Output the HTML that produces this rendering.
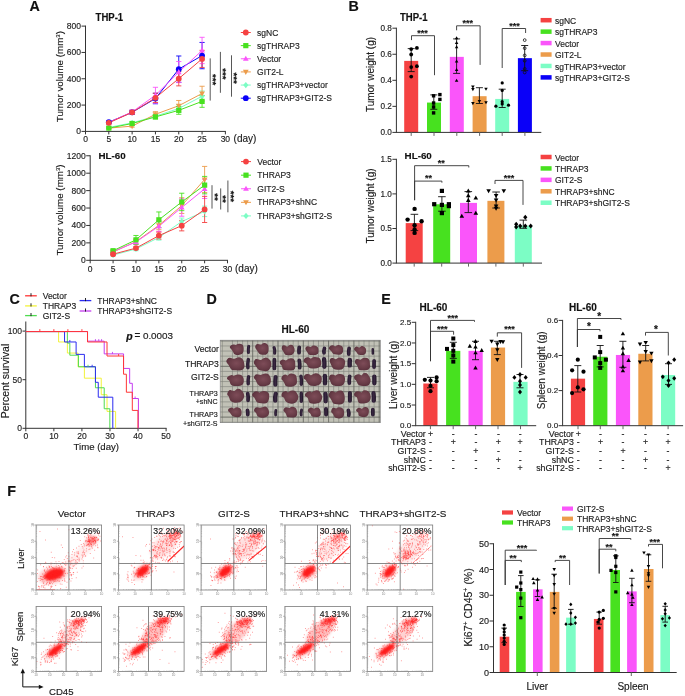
<!DOCTYPE html>
<html><head><meta charset="utf-8"><style>
html,body{margin:0;padding:0;background:#fff;}
svg{display:block;font-family:"Liberation Sans", sans-serif;filter:blur(0.4px);}
</style></head><body>
<svg width="685" height="696" viewBox="0 0 685 696">
<rect width="685" height="696" fill="#fff"/>
<text x="29.6" y="10.9" font-size="14.3" font-weight="bold" fill="#111" stroke="#111" stroke-width="0.15">A</text>
<text x="348.4" y="11.2" font-size="14.3" font-weight="bold" fill="#111" stroke="#111" stroke-width="0.15">B</text>
<text x="9.6" y="304.3" font-size="14.3" font-weight="bold" fill="#111" stroke="#111" stroke-width="0.15">C</text>
<text x="206.6" y="304" font-size="14.3" font-weight="bold" fill="#111" stroke="#111" stroke-width="0.15">D</text>
<text x="381.2" y="304.4" font-size="14.3" font-weight="bold" fill="#111" stroke="#111" stroke-width="0.15">E</text>
<text x="7.2" y="495.8" font-size="14.3" font-weight="bold" fill="#111" stroke="#111" stroke-width="0.15">F</text>
<text x="95.6" y="21" font-size="10" font-weight="bold" fill="#111" stroke="#111" stroke-width="0.15" textLength="27.6" lengthAdjust="spacingAndGlyphs">THP-1</text>
<line x1="85.5" y1="25.62" x2="85.5" y2="131.4" stroke="#333333" stroke-width="1"/>
<line x1="81.5" y1="131.4" x2="85.5" y2="131.4" stroke="#333333" stroke-width="1"/>
<text x="81" y="134.32" font-size="8.5" text-anchor="end" fill="#222" stroke="#222" stroke-width="0.15">0</text>
<line x1="81.5" y1="105.08" x2="85.5" y2="105.08" stroke="#333333" stroke-width="1"/>
<text x="81" y="108" font-size="8.5" text-anchor="end" fill="#222" stroke="#222" stroke-width="0.15">200</text>
<line x1="81.5" y1="78.76" x2="85.5" y2="78.76" stroke="#333333" stroke-width="1"/>
<text x="81" y="81.68" font-size="8.5" text-anchor="end" fill="#222" stroke="#222" stroke-width="0.15">400</text>
<line x1="81.5" y1="52.44" x2="85.5" y2="52.44" stroke="#333333" stroke-width="1"/>
<text x="81" y="55.36" font-size="8.5" text-anchor="end" fill="#222" stroke="#222" stroke-width="0.15">600</text>
<line x1="81.5" y1="26.12" x2="85.5" y2="26.12" stroke="#333333" stroke-width="1"/>
<text x="81" y="29.04" font-size="8.5" text-anchor="end" fill="#222" stroke="#222" stroke-width="0.15">800</text>
<line x1="85" y1="131.4" x2="225.89" y2="131.4" stroke="#333333" stroke-width="1"/>
<line x1="85.5" y1="131.4" x2="85.5" y2="134.4" stroke="#333333" stroke-width="1"/>
<text x="85.5" y="141.6" font-size="8.5" text-anchor="middle" fill="#222" stroke="#222" stroke-width="0.15">0</text>
<line x1="108.81" y1="131.4" x2="108.81" y2="134.4" stroke="#333333" stroke-width="1"/>
<text x="108.81" y="141.6" font-size="8.5" text-anchor="middle" fill="#222" stroke="#222" stroke-width="0.15">5</text>
<line x1="132.13" y1="131.4" x2="132.13" y2="134.4" stroke="#333333" stroke-width="1"/>
<text x="132.13" y="141.6" font-size="8.5" text-anchor="middle" fill="#222" stroke="#222" stroke-width="0.15">10</text>
<line x1="155.44" y1="131.4" x2="155.44" y2="134.4" stroke="#333333" stroke-width="1"/>
<text x="155.44" y="141.6" font-size="8.5" text-anchor="middle" fill="#222" stroke="#222" stroke-width="0.15">15</text>
<line x1="178.76" y1="131.4" x2="178.76" y2="134.4" stroke="#333333" stroke-width="1"/>
<text x="178.76" y="141.6" font-size="8.5" text-anchor="middle" fill="#222" stroke="#222" stroke-width="0.15">20</text>
<line x1="202.07" y1="131.4" x2="202.07" y2="134.4" stroke="#333333" stroke-width="1"/>
<text x="202.07" y="141.6" font-size="8.5" text-anchor="middle" fill="#222" stroke="#222" stroke-width="0.15">25</text>
<line x1="225.39" y1="131.4" x2="225.39" y2="134.4" stroke="#333333" stroke-width="1"/>
<text x="225.39" y="141.6" font-size="8.5" text-anchor="middle" fill="#222" stroke="#222" stroke-width="0.15">30</text>
<path d="M108.81 122.19 L132.13 112.32 L155.44 98.5 L178.76 69.15 L202.07 55.6" stroke="#0A00F8" fill="none" stroke-width="1"/>
<path d="M108.81 127.45 L132.13 122.85 L155.44 116.27 L178.76 108.5 L202.07 96.26" stroke="#7CFDC5" fill="none" stroke-width="1"/>
<path d="M108.81 128.11 L132.13 126.14 L155.44 114.29 L178.76 105.74 L202.07 93.5" stroke="#EC9C4B" fill="none" stroke-width="1"/>
<path d="M108.81 122.45 L132.13 111.92 L155.44 95.21 L178.76 72.05 L202.07 50.47" stroke="#FA55FA" fill="none" stroke-width="1"/>
<path d="M108.81 128.11 L132.13 123.5 L155.44 116.92 L178.76 110.34 L202.07 101.4" stroke="#47E11F" fill="none" stroke-width="1"/>
<path d="M108.81 122.85 L132.13 112.32 L155.44 97.84 L178.76 78.63 L202.07 58.89" stroke="#F54242" fill="none" stroke-width="1"/>
<line x1="108.81" y1="121.14" x2="108.81" y2="123.24" stroke="#0A00F8" stroke-width="0.9"/>
<line x1="106.22" y1="121.14" x2="111.41" y2="121.14" stroke="#0A00F8" stroke-width="0.9"/>
<line x1="106.22" y1="123.24" x2="111.41" y2="123.24" stroke="#0A00F8" stroke-width="0.9"/>
<line x1="132.13" y1="110.34" x2="132.13" y2="114.29" stroke="#0A00F8" stroke-width="0.9"/>
<line x1="129.53" y1="110.34" x2="134.73" y2="110.34" stroke="#0A00F8" stroke-width="0.9"/>
<line x1="129.53" y1="114.29" x2="134.73" y2="114.29" stroke="#0A00F8" stroke-width="0.9"/>
<line x1="155.44" y1="93.24" x2="155.44" y2="103.76" stroke="#0A00F8" stroke-width="0.9"/>
<line x1="152.84" y1="93.24" x2="158.04" y2="93.24" stroke="#0A00F8" stroke-width="0.9"/>
<line x1="152.84" y1="103.76" x2="158.04" y2="103.76" stroke="#0A00F8" stroke-width="0.9"/>
<line x1="178.76" y1="55.99" x2="178.76" y2="82.31" stroke="#0A00F8" stroke-width="0.9"/>
<line x1="176.16" y1="55.99" x2="181.36" y2="55.99" stroke="#0A00F8" stroke-width="0.9"/>
<line x1="176.16" y1="82.31" x2="181.36" y2="82.31" stroke="#0A00F8" stroke-width="0.9"/>
<line x1="202.07" y1="42.44" x2="202.07" y2="68.76" stroke="#0A00F8" stroke-width="0.9"/>
<line x1="199.47" y1="42.44" x2="204.67" y2="42.44" stroke="#0A00F8" stroke-width="0.9"/>
<line x1="199.47" y1="68.76" x2="204.67" y2="68.76" stroke="#0A00F8" stroke-width="0.9"/>
<line x1="108.81" y1="126.79" x2="108.81" y2="128.11" stroke="#7CFDC5" stroke-width="0.9"/>
<line x1="106.22" y1="126.79" x2="111.41" y2="126.79" stroke="#7CFDC5" stroke-width="0.9"/>
<line x1="106.22" y1="128.11" x2="111.41" y2="128.11" stroke="#7CFDC5" stroke-width="0.9"/>
<line x1="132.13" y1="121.53" x2="132.13" y2="124.16" stroke="#7CFDC5" stroke-width="0.9"/>
<line x1="129.53" y1="121.53" x2="134.73" y2="121.53" stroke="#7CFDC5" stroke-width="0.9"/>
<line x1="129.53" y1="124.16" x2="134.73" y2="124.16" stroke="#7CFDC5" stroke-width="0.9"/>
<line x1="155.44" y1="114.29" x2="155.44" y2="118.24" stroke="#7CFDC5" stroke-width="0.9"/>
<line x1="152.84" y1="114.29" x2="158.04" y2="114.29" stroke="#7CFDC5" stroke-width="0.9"/>
<line x1="152.84" y1="118.24" x2="158.04" y2="118.24" stroke="#7CFDC5" stroke-width="0.9"/>
<line x1="178.76" y1="104.55" x2="178.76" y2="112.45" stroke="#7CFDC5" stroke-width="0.9"/>
<line x1="176.16" y1="104.55" x2="181.36" y2="104.55" stroke="#7CFDC5" stroke-width="0.9"/>
<line x1="176.16" y1="112.45" x2="181.36" y2="112.45" stroke="#7CFDC5" stroke-width="0.9"/>
<line x1="202.07" y1="91" x2="202.07" y2="101.53" stroke="#7CFDC5" stroke-width="0.9"/>
<line x1="199.47" y1="91" x2="204.67" y2="91" stroke="#7CFDC5" stroke-width="0.9"/>
<line x1="199.47" y1="101.53" x2="204.67" y2="101.53" stroke="#7CFDC5" stroke-width="0.9"/>
<line x1="108.81" y1="127.45" x2="108.81" y2="128.77" stroke="#EC9C4B" stroke-width="0.9"/>
<line x1="106.22" y1="127.45" x2="111.41" y2="127.45" stroke="#EC9C4B" stroke-width="0.9"/>
<line x1="106.22" y1="128.77" x2="111.41" y2="128.77" stroke="#EC9C4B" stroke-width="0.9"/>
<line x1="132.13" y1="125.08" x2="132.13" y2="127.19" stroke="#EC9C4B" stroke-width="0.9"/>
<line x1="129.53" y1="125.08" x2="134.73" y2="125.08" stroke="#EC9C4B" stroke-width="0.9"/>
<line x1="129.53" y1="127.19" x2="134.73" y2="127.19" stroke="#EC9C4B" stroke-width="0.9"/>
<line x1="155.44" y1="111.66" x2="155.44" y2="116.92" stroke="#EC9C4B" stroke-width="0.9"/>
<line x1="152.84" y1="111.66" x2="158.04" y2="111.66" stroke="#EC9C4B" stroke-width="0.9"/>
<line x1="152.84" y1="116.92" x2="158.04" y2="116.92" stroke="#EC9C4B" stroke-width="0.9"/>
<line x1="178.76" y1="100.47" x2="178.76" y2="111" stroke="#EC9C4B" stroke-width="0.9"/>
<line x1="176.16" y1="100.47" x2="181.36" y2="100.47" stroke="#EC9C4B" stroke-width="0.9"/>
<line x1="176.16" y1="111" x2="181.36" y2="111" stroke="#EC9C4B" stroke-width="0.9"/>
<line x1="202.07" y1="86.26" x2="202.07" y2="100.74" stroke="#EC9C4B" stroke-width="0.9"/>
<line x1="199.47" y1="86.26" x2="204.67" y2="86.26" stroke="#EC9C4B" stroke-width="0.9"/>
<line x1="199.47" y1="100.74" x2="204.67" y2="100.74" stroke="#EC9C4B" stroke-width="0.9"/>
<line x1="108.81" y1="121.14" x2="108.81" y2="123.77" stroke="#FA55FA" stroke-width="0.9"/>
<line x1="106.22" y1="121.14" x2="111.41" y2="121.14" stroke="#FA55FA" stroke-width="0.9"/>
<line x1="106.22" y1="123.77" x2="111.41" y2="123.77" stroke="#FA55FA" stroke-width="0.9"/>
<line x1="132.13" y1="109.95" x2="132.13" y2="113.9" stroke="#FA55FA" stroke-width="0.9"/>
<line x1="129.53" y1="109.95" x2="134.73" y2="109.95" stroke="#FA55FA" stroke-width="0.9"/>
<line x1="129.53" y1="113.9" x2="134.73" y2="113.9" stroke="#FA55FA" stroke-width="0.9"/>
<line x1="155.44" y1="87.31" x2="155.44" y2="103.11" stroke="#FA55FA" stroke-width="0.9"/>
<line x1="152.84" y1="87.31" x2="158.04" y2="87.31" stroke="#FA55FA" stroke-width="0.9"/>
<line x1="152.84" y1="103.11" x2="158.04" y2="103.11" stroke="#FA55FA" stroke-width="0.9"/>
<line x1="178.76" y1="61.52" x2="178.76" y2="82.58" stroke="#FA55FA" stroke-width="0.9"/>
<line x1="176.16" y1="61.52" x2="181.36" y2="61.52" stroke="#FA55FA" stroke-width="0.9"/>
<line x1="176.16" y1="82.58" x2="181.36" y2="82.58" stroke="#FA55FA" stroke-width="0.9"/>
<line x1="202.07" y1="37.31" x2="202.07" y2="63.63" stroke="#FA55FA" stroke-width="0.9"/>
<line x1="199.47" y1="37.31" x2="204.67" y2="37.31" stroke="#FA55FA" stroke-width="0.9"/>
<line x1="199.47" y1="63.63" x2="204.67" y2="63.63" stroke="#FA55FA" stroke-width="0.9"/>
<line x1="108.81" y1="127.45" x2="108.81" y2="128.77" stroke="#47E11F" stroke-width="0.9"/>
<line x1="106.22" y1="127.45" x2="111.41" y2="127.45" stroke="#47E11F" stroke-width="0.9"/>
<line x1="106.22" y1="128.77" x2="111.41" y2="128.77" stroke="#47E11F" stroke-width="0.9"/>
<line x1="132.13" y1="122.19" x2="132.13" y2="124.82" stroke="#47E11F" stroke-width="0.9"/>
<line x1="129.53" y1="122.19" x2="134.73" y2="122.19" stroke="#47E11F" stroke-width="0.9"/>
<line x1="129.53" y1="124.82" x2="134.73" y2="124.82" stroke="#47E11F" stroke-width="0.9"/>
<line x1="155.44" y1="114.95" x2="155.44" y2="118.9" stroke="#47E11F" stroke-width="0.9"/>
<line x1="152.84" y1="114.95" x2="158.04" y2="114.95" stroke="#47E11F" stroke-width="0.9"/>
<line x1="152.84" y1="118.9" x2="158.04" y2="118.9" stroke="#47E11F" stroke-width="0.9"/>
<line x1="178.76" y1="106.4" x2="178.76" y2="114.29" stroke="#47E11F" stroke-width="0.9"/>
<line x1="176.16" y1="106.4" x2="181.36" y2="106.4" stroke="#47E11F" stroke-width="0.9"/>
<line x1="176.16" y1="114.29" x2="181.36" y2="114.29" stroke="#47E11F" stroke-width="0.9"/>
<line x1="202.07" y1="95.47" x2="202.07" y2="107.32" stroke="#47E11F" stroke-width="0.9"/>
<line x1="199.47" y1="95.47" x2="204.67" y2="95.47" stroke="#47E11F" stroke-width="0.9"/>
<line x1="199.47" y1="107.32" x2="204.67" y2="107.32" stroke="#47E11F" stroke-width="0.9"/>
<line x1="108.81" y1="121.79" x2="108.81" y2="123.9" stroke="#F54242" stroke-width="0.9"/>
<line x1="106.22" y1="121.79" x2="111.41" y2="121.79" stroke="#F54242" stroke-width="0.9"/>
<line x1="106.22" y1="123.9" x2="111.41" y2="123.9" stroke="#F54242" stroke-width="0.9"/>
<line x1="132.13" y1="110.34" x2="132.13" y2="114.29" stroke="#F54242" stroke-width="0.9"/>
<line x1="129.53" y1="110.34" x2="134.73" y2="110.34" stroke="#F54242" stroke-width="0.9"/>
<line x1="129.53" y1="114.29" x2="134.73" y2="114.29" stroke="#F54242" stroke-width="0.9"/>
<line x1="155.44" y1="93.24" x2="155.44" y2="102.45" stroke="#F54242" stroke-width="0.9"/>
<line x1="152.84" y1="93.24" x2="158.04" y2="93.24" stroke="#F54242" stroke-width="0.9"/>
<line x1="152.84" y1="102.45" x2="158.04" y2="102.45" stroke="#F54242" stroke-width="0.9"/>
<line x1="178.76" y1="71.39" x2="178.76" y2="85.87" stroke="#F54242" stroke-width="0.9"/>
<line x1="176.16" y1="71.39" x2="181.36" y2="71.39" stroke="#F54242" stroke-width="0.9"/>
<line x1="176.16" y1="85.87" x2="181.36" y2="85.87" stroke="#F54242" stroke-width="0.9"/>
<line x1="202.07" y1="50.33" x2="202.07" y2="67.44" stroke="#F54242" stroke-width="0.9"/>
<line x1="199.47" y1="50.33" x2="204.67" y2="50.33" stroke="#F54242" stroke-width="0.9"/>
<line x1="199.47" y1="67.44" x2="204.67" y2="67.44" stroke="#F54242" stroke-width="0.9"/>
<circle cx="108.81" cy="122.19" r="2.9" fill="#0A00F8"/>
<circle cx="132.13" cy="112.32" r="2.9" fill="#0A00F8"/>
<circle cx="155.44" cy="98.5" r="2.9" fill="#0A00F8"/>
<circle cx="178.76" cy="69.15" r="2.9" fill="#0A00F8"/>
<circle cx="202.07" cy="55.6" r="2.9" fill="#0A00F8"/>
<path d="M108.81 124.33L111.41 127.45L108.81 130.57L106.22 127.45Z" fill="#7CFDC5"/>
<path d="M132.13 119.73L134.73 122.85L132.13 125.97L129.53 122.85Z" fill="#7CFDC5"/>
<path d="M155.44 113.15L158.04 116.27L155.44 119.39L152.84 116.27Z" fill="#7CFDC5"/>
<path d="M178.76 105.38L181.36 108.5L178.76 111.62L176.16 108.5Z" fill="#7CFDC5"/>
<path d="M202.07 93.14L204.67 96.26L202.07 99.38L199.47 96.26Z" fill="#7CFDC5"/>
<path d="M108.81 131.1L111.67 126.03L105.95 126.03Z" fill="#EC9C4B"/>
<path d="M132.13 129.13L134.99 124.06L129.27 124.06Z" fill="#EC9C4B"/>
<path d="M155.44 117.28L158.31 112.21L152.58 112.21Z" fill="#EC9C4B"/>
<path d="M178.76 108.73L181.62 103.66L175.9 103.66Z" fill="#EC9C4B"/>
<path d="M202.07 96.49L204.94 91.42L199.21 91.42Z" fill="#EC9C4B"/>
<path d="M108.81 119.46L111.67 124.53L105.95 124.53Z" fill="#FA55FA"/>
<path d="M132.13 108.93L134.99 114L129.27 114Z" fill="#FA55FA"/>
<path d="M155.44 92.22L158.31 97.29L152.58 97.29Z" fill="#FA55FA"/>
<path d="M178.76 69.06L181.62 74.13L175.9 74.13Z" fill="#FA55FA"/>
<path d="M202.07 47.48L204.94 52.55L199.21 52.55Z" fill="#FA55FA"/>
<rect x="106.22" y="125.51" width="5.2" height="5.2" fill="#47E11F"/>
<rect x="129.53" y="120.9" width="5.2" height="5.2" fill="#47E11F"/>
<rect x="152.84" y="114.32" width="5.2" height="5.2" fill="#47E11F"/>
<rect x="176.16" y="107.74" width="5.2" height="5.2" fill="#47E11F"/>
<rect x="199.47" y="98.8" width="5.2" height="5.2" fill="#47E11F"/>
<circle cx="108.81" cy="122.85" r="2.9" fill="#F54242"/>
<circle cx="132.13" cy="112.32" r="2.9" fill="#F54242"/>
<circle cx="155.44" cy="97.84" r="2.9" fill="#F54242"/>
<circle cx="178.76" cy="78.63" r="2.9" fill="#F54242"/>
<circle cx="202.07" cy="58.89" r="2.9" fill="#F54242"/>
<text x="63.1" y="76.6" font-size="9.8" text-anchor="middle" fill="#1a1a1a" stroke="#1a1a1a" stroke-width="0.15" transform="rotate(-90 63.1 76.6)">Tumor volume (mm<tspan font-size="6" dy="-3.5">3</tspan><tspan dy="3.5">)</tspan></text>
<text x="233.6" y="141.6" font-size="10" fill="#1a1a1a" stroke="#1a1a1a" stroke-width="0.15">(day)</text>
<line x1="210.2" y1="58.4" x2="210.2" y2="100.6" stroke="#444" stroke-width="0.9"/>
<text x="212.5" y="79.7" font-size="9.8" text-anchor="middle" font-weight="bold" fill="#111" stroke="#111" stroke-width="0.15" transform="rotate(90 212.5 79.7)" dominant-baseline="middle">***</text>
<line x1="220.4" y1="51.9" x2="220.4" y2="92.8" stroke="#444" stroke-width="0.9"/>
<text x="222.6" y="73.9" font-size="9.8" text-anchor="middle" font-weight="bold" fill="#111" stroke="#111" stroke-width="0.15" transform="rotate(90 222.6 73.9)" dominant-baseline="middle">***</text>
<line x1="231.5" y1="55.3" x2="231.5" y2="96.7" stroke="#444" stroke-width="0.9"/>
<text x="233.6" y="78.2" font-size="9.8" text-anchor="middle" font-weight="bold" fill="#111" stroke="#111" stroke-width="0.15" transform="rotate(90 233.6 78.2)" dominant-baseline="middle">***</text>
<line x1="240.8" y1="32.5" x2="250.8" y2="32.5" stroke="#F54242" stroke-width="1"/>
<circle cx="245.8" cy="32.5" r="2.9" fill="#F54242"/>
<text x="257.1" y="35.5" font-size="8.5" fill="#222" stroke="#222" stroke-width="0.15">sgNC</text>
<line x1="240.8" y1="45.64" x2="250.8" y2="45.64" stroke="#47E11F" stroke-width="1"/>
<rect x="243.2" y="43.04" width="5.2" height="5.2" fill="#47E11F"/>
<text x="257.1" y="48.64" font-size="8.5" fill="#222" stroke="#222" stroke-width="0.15">sgTHRAP3</text>
<line x1="240.8" y1="58.78" x2="250.8" y2="58.78" stroke="#FA55FA" stroke-width="1"/>
<path d="M245.8 55.79L248.66 60.86L242.94 60.86Z" fill="#FA55FA"/>
<text x="257.1" y="61.78" font-size="8.5" fill="#222" stroke="#222" stroke-width="0.15">Vector</text>
<line x1="240.8" y1="71.92" x2="250.8" y2="71.92" stroke="#EC9C4B" stroke-width="1"/>
<path d="M245.8 74.91L248.66 69.84L242.94 69.84Z" fill="#EC9C4B"/>
<text x="257.1" y="74.92" font-size="8.5" fill="#222" stroke="#222" stroke-width="0.15">GIT2-L</text>
<line x1="240.8" y1="85.06" x2="250.8" y2="85.06" stroke="#7CFDC5" stroke-width="1"/>
<path d="M245.8 81.94L248.4 85.06L245.8 88.18L243.2 85.06Z" fill="#7CFDC5"/>
<text x="257.1" y="88.06" font-size="8.5" fill="#222" stroke="#222" stroke-width="0.15">sgTHRAP3+vector</text>
<line x1="240.8" y1="98.2" x2="250.8" y2="98.2" stroke="#0A00F8" stroke-width="1"/>
<circle cx="245.8" cy="98.2" r="2.9" fill="#0A00F8"/>
<text x="257.1" y="101.2" font-size="8.5" fill="#222" stroke="#222" stroke-width="0.15">sgTHRAP3+GIT2-S</text>
<text x="98.4" y="158.7" font-size="9.8" font-weight="bold" fill="#111" stroke="#111" stroke-width="0.15">HL-60</text>
<line x1="90.2" y1="155.28" x2="90.2" y2="260.3" stroke="#333333" stroke-width="1"/>
<line x1="86.2" y1="260.3" x2="90.2" y2="260.3" stroke="#333333" stroke-width="1"/>
<text x="85.7" y="263.22" font-size="8.5" text-anchor="end" fill="#222" stroke="#222" stroke-width="0.15">0</text>
<line x1="86.2" y1="242.88" x2="90.2" y2="242.88" stroke="#333333" stroke-width="1"/>
<text x="85.7" y="245.8" font-size="8.5" text-anchor="end" fill="#222" stroke="#222" stroke-width="0.15">200</text>
<line x1="86.2" y1="225.46" x2="90.2" y2="225.46" stroke="#333333" stroke-width="1"/>
<text x="85.7" y="228.38" font-size="8.5" text-anchor="end" fill="#222" stroke="#222" stroke-width="0.15">400</text>
<line x1="86.2" y1="208.04" x2="90.2" y2="208.04" stroke="#333333" stroke-width="1"/>
<text x="85.7" y="210.96" font-size="8.5" text-anchor="end" fill="#222" stroke="#222" stroke-width="0.15">600</text>
<line x1="86.2" y1="190.62" x2="90.2" y2="190.62" stroke="#333333" stroke-width="1"/>
<text x="85.7" y="193.54" font-size="8.5" text-anchor="end" fill="#222" stroke="#222" stroke-width="0.15">800</text>
<line x1="86.2" y1="173.2" x2="90.2" y2="173.2" stroke="#333333" stroke-width="1"/>
<text x="85.7" y="176.12" font-size="8.5" text-anchor="end" fill="#222" stroke="#222" stroke-width="0.15">1000</text>
<line x1="86.2" y1="155.78" x2="90.2" y2="155.78" stroke="#333333" stroke-width="1"/>
<text x="85.7" y="158.7" font-size="8.5" text-anchor="end" fill="#222" stroke="#222" stroke-width="0.15">1200</text>
<line x1="89.7" y1="260.3" x2="228.01" y2="260.3" stroke="#333333" stroke-width="1"/>
<line x1="90.2" y1="260.3" x2="90.2" y2="263.3" stroke="#333333" stroke-width="1"/>
<text x="90.2" y="272.1" font-size="8.5" text-anchor="middle" fill="#222" stroke="#222" stroke-width="0.15">0</text>
<line x1="113.09" y1="260.3" x2="113.09" y2="263.3" stroke="#333333" stroke-width="1"/>
<text x="113.09" y="272.1" font-size="8.5" text-anchor="middle" fill="#222" stroke="#222" stroke-width="0.15">5</text>
<line x1="135.97" y1="260.3" x2="135.97" y2="263.3" stroke="#333333" stroke-width="1"/>
<text x="135.97" y="272.1" font-size="8.5" text-anchor="middle" fill="#222" stroke="#222" stroke-width="0.15">10</text>
<line x1="158.86" y1="260.3" x2="158.86" y2="263.3" stroke="#333333" stroke-width="1"/>
<text x="158.86" y="272.1" font-size="8.5" text-anchor="middle" fill="#222" stroke="#222" stroke-width="0.15">15</text>
<line x1="181.74" y1="260.3" x2="181.74" y2="263.3" stroke="#333333" stroke-width="1"/>
<text x="181.74" y="272.1" font-size="8.5" text-anchor="middle" fill="#222" stroke="#222" stroke-width="0.15">20</text>
<line x1="204.62" y1="260.3" x2="204.62" y2="263.3" stroke="#333333" stroke-width="1"/>
<text x="204.62" y="272.1" font-size="8.5" text-anchor="middle" fill="#222" stroke="#222" stroke-width="0.15">25</text>
<line x1="227.51" y1="260.3" x2="227.51" y2="263.3" stroke="#333333" stroke-width="1"/>
<text x="227.51" y="272.1" font-size="8.5" text-anchor="middle" fill="#222" stroke="#222" stroke-width="0.15">30</text>
<path d="M113.09 255.07 L135.97 248.98 L158.86 237.48 L181.74 221.54 L204.62 211.35" stroke="#7CFDC5" fill="none" stroke-width="1"/>
<path d="M113.09 252.03 L135.97 241.57 L158.86 225.37 L181.74 205.6 L204.62 179.47" stroke="#EC9C4B" fill="none" stroke-width="1"/>
<path d="M113.09 251.59 L135.97 242.01 L158.86 226.24 L181.74 207.52 L204.62 188.88" stroke="#FA55FA" fill="none" stroke-width="1"/>
<path d="M113.09 250.72 L135.97 239.83 L158.86 219.8 L181.74 201.94 L204.62 185.13" stroke="#47E11F" fill="none" stroke-width="1"/>
<path d="M113.09 254.2 L135.97 248.11 L158.86 235.65 L181.74 225.63 L204.62 209.43" stroke="#F54242" fill="none" stroke-width="1"/>
<line x1="113.09" y1="254.38" x2="113.09" y2="255.77" stroke="#7CFDC5" stroke-width="0.9"/>
<line x1="110.49" y1="254.38" x2="115.69" y2="254.38" stroke="#7CFDC5" stroke-width="0.9"/>
<line x1="110.49" y1="255.77" x2="115.69" y2="255.77" stroke="#7CFDC5" stroke-width="0.9"/>
<line x1="135.97" y1="247.24" x2="135.97" y2="250.72" stroke="#7CFDC5" stroke-width="0.9"/>
<line x1="133.37" y1="247.24" x2="138.57" y2="247.24" stroke="#7CFDC5" stroke-width="0.9"/>
<line x1="133.37" y1="250.72" x2="138.57" y2="250.72" stroke="#7CFDC5" stroke-width="0.9"/>
<line x1="158.86" y1="234.87" x2="158.86" y2="240.09" stroke="#7CFDC5" stroke-width="0.9"/>
<line x1="156.26" y1="234.87" x2="161.46" y2="234.87" stroke="#7CFDC5" stroke-width="0.9"/>
<line x1="156.26" y1="240.09" x2="161.46" y2="240.09" stroke="#7CFDC5" stroke-width="0.9"/>
<line x1="181.74" y1="218.06" x2="181.74" y2="225.02" stroke="#7CFDC5" stroke-width="0.9"/>
<line x1="179.14" y1="218.06" x2="184.34" y2="218.06" stroke="#7CFDC5" stroke-width="0.9"/>
<line x1="179.14" y1="225.02" x2="184.34" y2="225.02" stroke="#7CFDC5" stroke-width="0.9"/>
<line x1="204.62" y1="206.12" x2="204.62" y2="216.58" stroke="#7CFDC5" stroke-width="0.9"/>
<line x1="202.03" y1="206.12" x2="207.22" y2="206.12" stroke="#7CFDC5" stroke-width="0.9"/>
<line x1="202.03" y1="216.58" x2="207.22" y2="216.58" stroke="#7CFDC5" stroke-width="0.9"/>
<line x1="113.09" y1="251.15" x2="113.09" y2="252.9" stroke="#EC9C4B" stroke-width="0.9"/>
<line x1="110.49" y1="251.15" x2="115.69" y2="251.15" stroke="#EC9C4B" stroke-width="0.9"/>
<line x1="110.49" y1="252.9" x2="115.69" y2="252.9" stroke="#EC9C4B" stroke-width="0.9"/>
<line x1="135.97" y1="238.96" x2="135.97" y2="244.19" stroke="#EC9C4B" stroke-width="0.9"/>
<line x1="133.37" y1="238.96" x2="138.57" y2="238.96" stroke="#EC9C4B" stroke-width="0.9"/>
<line x1="133.37" y1="244.19" x2="138.57" y2="244.19" stroke="#EC9C4B" stroke-width="0.9"/>
<line x1="158.86" y1="221.02" x2="158.86" y2="229.73" stroke="#EC9C4B" stroke-width="0.9"/>
<line x1="156.26" y1="221.02" x2="161.46" y2="221.02" stroke="#EC9C4B" stroke-width="0.9"/>
<line x1="156.26" y1="229.73" x2="161.46" y2="229.73" stroke="#EC9C4B" stroke-width="0.9"/>
<line x1="181.74" y1="197.76" x2="181.74" y2="213.44" stroke="#EC9C4B" stroke-width="0.9"/>
<line x1="179.14" y1="197.76" x2="184.34" y2="197.76" stroke="#EC9C4B" stroke-width="0.9"/>
<line x1="179.14" y1="213.44" x2="184.34" y2="213.44" stroke="#EC9C4B" stroke-width="0.9"/>
<line x1="204.62" y1="166.41" x2="204.62" y2="192.54" stroke="#EC9C4B" stroke-width="0.9"/>
<line x1="202.03" y1="166.41" x2="207.22" y2="166.41" stroke="#EC9C4B" stroke-width="0.9"/>
<line x1="202.03" y1="192.54" x2="207.22" y2="192.54" stroke="#EC9C4B" stroke-width="0.9"/>
<line x1="113.09" y1="250.72" x2="113.09" y2="252.46" stroke="#FA55FA" stroke-width="0.9"/>
<line x1="110.49" y1="250.72" x2="115.69" y2="250.72" stroke="#FA55FA" stroke-width="0.9"/>
<line x1="110.49" y1="252.46" x2="115.69" y2="252.46" stroke="#FA55FA" stroke-width="0.9"/>
<line x1="135.97" y1="239.4" x2="135.97" y2="244.62" stroke="#FA55FA" stroke-width="0.9"/>
<line x1="133.37" y1="239.4" x2="138.57" y2="239.4" stroke="#FA55FA" stroke-width="0.9"/>
<line x1="133.37" y1="244.62" x2="138.57" y2="244.62" stroke="#FA55FA" stroke-width="0.9"/>
<line x1="158.86" y1="221.02" x2="158.86" y2="231.47" stroke="#FA55FA" stroke-width="0.9"/>
<line x1="156.26" y1="221.02" x2="161.46" y2="221.02" stroke="#FA55FA" stroke-width="0.9"/>
<line x1="156.26" y1="231.47" x2="161.46" y2="231.47" stroke="#FA55FA" stroke-width="0.9"/>
<line x1="181.74" y1="198.81" x2="181.74" y2="216.23" stroke="#FA55FA" stroke-width="0.9"/>
<line x1="179.14" y1="198.81" x2="184.34" y2="198.81" stroke="#FA55FA" stroke-width="0.9"/>
<line x1="179.14" y1="216.23" x2="184.34" y2="216.23" stroke="#FA55FA" stroke-width="0.9"/>
<line x1="204.62" y1="179.3" x2="204.62" y2="198.46" stroke="#FA55FA" stroke-width="0.9"/>
<line x1="202.03" y1="179.3" x2="207.22" y2="179.3" stroke="#FA55FA" stroke-width="0.9"/>
<line x1="202.03" y1="198.46" x2="207.22" y2="198.46" stroke="#FA55FA" stroke-width="0.9"/>
<line x1="113.09" y1="249.41" x2="113.09" y2="252.03" stroke="#47E11F" stroke-width="0.9"/>
<line x1="110.49" y1="249.41" x2="115.69" y2="249.41" stroke="#47E11F" stroke-width="0.9"/>
<line x1="110.49" y1="252.03" x2="115.69" y2="252.03" stroke="#47E11F" stroke-width="0.9"/>
<line x1="135.97" y1="235.48" x2="135.97" y2="244.19" stroke="#47E11F" stroke-width="0.9"/>
<line x1="133.37" y1="235.48" x2="138.57" y2="235.48" stroke="#47E11F" stroke-width="0.9"/>
<line x1="133.37" y1="244.19" x2="138.57" y2="244.19" stroke="#47E11F" stroke-width="0.9"/>
<line x1="158.86" y1="211.96" x2="158.86" y2="227.64" stroke="#47E11F" stroke-width="0.9"/>
<line x1="156.26" y1="211.96" x2="161.46" y2="211.96" stroke="#47E11F" stroke-width="0.9"/>
<line x1="156.26" y1="227.64" x2="161.46" y2="227.64" stroke="#47E11F" stroke-width="0.9"/>
<line x1="181.74" y1="193.23" x2="181.74" y2="210.65" stroke="#47E11F" stroke-width="0.9"/>
<line x1="179.14" y1="193.23" x2="184.34" y2="193.23" stroke="#47E11F" stroke-width="0.9"/>
<line x1="179.14" y1="210.65" x2="184.34" y2="210.65" stroke="#47E11F" stroke-width="0.9"/>
<line x1="204.62" y1="176.42" x2="204.62" y2="193.84" stroke="#47E11F" stroke-width="0.9"/>
<line x1="202.03" y1="176.42" x2="207.22" y2="176.42" stroke="#47E11F" stroke-width="0.9"/>
<line x1="202.03" y1="193.84" x2="207.22" y2="193.84" stroke="#47E11F" stroke-width="0.9"/>
<line x1="113.09" y1="253.33" x2="113.09" y2="255.07" stroke="#F54242" stroke-width="0.9"/>
<line x1="110.49" y1="253.33" x2="115.69" y2="253.33" stroke="#F54242" stroke-width="0.9"/>
<line x1="110.49" y1="255.07" x2="115.69" y2="255.07" stroke="#F54242" stroke-width="0.9"/>
<line x1="135.97" y1="246.8" x2="135.97" y2="249.41" stroke="#F54242" stroke-width="0.9"/>
<line x1="133.37" y1="246.8" x2="138.57" y2="246.8" stroke="#F54242" stroke-width="0.9"/>
<line x1="133.37" y1="249.41" x2="138.57" y2="249.41" stroke="#F54242" stroke-width="0.9"/>
<line x1="158.86" y1="232.17" x2="158.86" y2="239.13" stroke="#F54242" stroke-width="0.9"/>
<line x1="156.26" y1="232.17" x2="161.46" y2="232.17" stroke="#F54242" stroke-width="0.9"/>
<line x1="156.26" y1="239.13" x2="161.46" y2="239.13" stroke="#F54242" stroke-width="0.9"/>
<line x1="181.74" y1="220.41" x2="181.74" y2="230.86" stroke="#F54242" stroke-width="0.9"/>
<line x1="179.14" y1="220.41" x2="184.34" y2="220.41" stroke="#F54242" stroke-width="0.9"/>
<line x1="179.14" y1="230.86" x2="184.34" y2="230.86" stroke="#F54242" stroke-width="0.9"/>
<line x1="204.62" y1="196.37" x2="204.62" y2="222.5" stroke="#F54242" stroke-width="0.9"/>
<line x1="202.03" y1="196.37" x2="207.22" y2="196.37" stroke="#F54242" stroke-width="0.9"/>
<line x1="202.03" y1="222.5" x2="207.22" y2="222.5" stroke="#F54242" stroke-width="0.9"/>
<path d="M113.09 251.95L115.69 255.07L113.09 258.19L110.49 255.07Z" fill="#7CFDC5"/>
<path d="M135.97 245.86L138.57 248.98L135.97 252.1L133.37 248.98Z" fill="#7CFDC5"/>
<path d="M158.86 234.36L161.46 237.48L158.86 240.6L156.26 237.48Z" fill="#7CFDC5"/>
<path d="M181.74 218.42L184.34 221.54L181.74 224.66L179.14 221.54Z" fill="#7CFDC5"/>
<path d="M204.62 208.23L207.22 211.35L204.62 214.47L202.03 211.35Z" fill="#7CFDC5"/>
<path d="M113.09 255.02L115.95 249.95L110.23 249.95Z" fill="#EC9C4B"/>
<path d="M135.97 244.56L138.83 239.49L133.11 239.49Z" fill="#EC9C4B"/>
<path d="M158.86 228.36L161.72 223.29L156 223.29Z" fill="#EC9C4B"/>
<path d="M181.74 208.59L184.6 203.52L178.88 203.52Z" fill="#EC9C4B"/>
<path d="M204.62 182.46L207.49 177.39L201.76 177.39Z" fill="#EC9C4B"/>
<path d="M113.09 248.6L115.95 253.67L110.23 253.67Z" fill="#FA55FA"/>
<path d="M135.97 239.02L138.83 244.09L133.11 244.09Z" fill="#FA55FA"/>
<path d="M158.86 223.25L161.72 228.32L156 228.32Z" fill="#FA55FA"/>
<path d="M181.74 204.53L184.6 209.6L178.88 209.6Z" fill="#FA55FA"/>
<path d="M204.62 185.89L207.49 190.96L201.76 190.96Z" fill="#FA55FA"/>
<rect x="110.49" y="248.12" width="5.2" height="5.2" fill="#47E11F"/>
<rect x="133.37" y="237.23" width="5.2" height="5.2" fill="#47E11F"/>
<rect x="156.26" y="217.2" width="5.2" height="5.2" fill="#47E11F"/>
<rect x="179.14" y="199.34" width="5.2" height="5.2" fill="#47E11F"/>
<rect x="202.03" y="182.53" width="5.2" height="5.2" fill="#47E11F"/>
<circle cx="113.09" cy="254.2" r="2.9" fill="#F54242"/>
<circle cx="135.97" cy="248.11" r="2.9" fill="#F54242"/>
<circle cx="158.86" cy="235.65" r="2.9" fill="#F54242"/>
<circle cx="181.74" cy="225.63" r="2.9" fill="#F54242"/>
<circle cx="204.62" cy="209.43" r="2.9" fill="#F54242"/>
<text x="63.1" y="210" font-size="9.8" text-anchor="middle" fill="#1a1a1a" stroke="#1a1a1a" stroke-width="0.15" transform="rotate(-90 63.1 210)">Tumor volume (mm<tspan font-size="6" dy="-3.5">3</tspan><tspan dy="3.5">)</tspan></text>
<text x="235" y="272.1" font-size="10" fill="#1a1a1a" stroke="#1a1a1a" stroke-width="0.15">(day)</text>
<line x1="212" y1="185.2" x2="212" y2="208.6" stroke="#444" stroke-width="0.9"/>
<text x="214.3" y="197" font-size="9.8" text-anchor="middle" font-weight="bold" fill="#111" stroke="#111" stroke-width="0.15" transform="rotate(90 214.3 197)" dominant-baseline="middle">**</text>
<line x1="220.7" y1="188.4" x2="220.7" y2="209.5" stroke="#444" stroke-width="0.9"/>
<text x="223" y="199" font-size="9.8" text-anchor="middle" font-weight="bold" fill="#111" stroke="#111" stroke-width="0.15" transform="rotate(90 223 199)" dominant-baseline="middle">**</text>
<line x1="227.9" y1="180.5" x2="227.9" y2="212.3" stroke="#444" stroke-width="0.9"/>
<text x="230.2" y="196.4" font-size="9.8" text-anchor="middle" font-weight="bold" fill="#111" stroke="#111" stroke-width="0.15" transform="rotate(90 230.2 196.4)" dominant-baseline="middle">***</text>
<line x1="241" y1="161.6" x2="251" y2="161.6" stroke="#F54242" stroke-width="1"/>
<circle cx="246" cy="161.6" r="2.9" fill="#F54242"/>
<text x="257.3" y="164.6" font-size="8.5" fill="#222" stroke="#222" stroke-width="0.15">Vector</text>
<line x1="241" y1="175.18" x2="251" y2="175.18" stroke="#47E11F" stroke-width="1"/>
<rect x="243.4" y="172.58" width="5.2" height="5.2" fill="#47E11F"/>
<text x="257.3" y="178.18" font-size="8.5" fill="#222" stroke="#222" stroke-width="0.15">THRAP3</text>
<line x1="241" y1="188.76" x2="251" y2="188.76" stroke="#FA55FA" stroke-width="1"/>
<path d="M246 185.77L248.86 190.84L243.14 190.84Z" fill="#FA55FA"/>
<text x="257.3" y="191.76" font-size="8.5" fill="#222" stroke="#222" stroke-width="0.15">GIT2-S</text>
<line x1="241" y1="202.34" x2="251" y2="202.34" stroke="#EC9C4B" stroke-width="1"/>
<path d="M246 205.33L248.86 200.26L243.14 200.26Z" fill="#EC9C4B"/>
<text x="257.3" y="205.34" font-size="8.5" fill="#222" stroke="#222" stroke-width="0.15">THRAP3+shNC</text>
<line x1="241" y1="215.92" x2="251" y2="215.92" stroke="#7CFDC5" stroke-width="1"/>
<path d="M246 212.8L248.6 215.92L246 219.04L243.4 215.92Z" fill="#7CFDC5"/>
<text x="257.3" y="218.92" font-size="8.5" fill="#222" stroke="#222" stroke-width="0.15">THRAP3+shGIT2-S</text>
<text x="400" y="21.1" font-size="10" font-weight="bold" fill="#111" stroke="#111" stroke-width="0.15" textLength="27.6" lengthAdjust="spacingAndGlyphs">THP-1</text>
<rect x="404.2" y="60.89" width="14" height="71.51" fill="#F54242"/>
<rect x="427" y="102.57" width="14" height="29.83" fill="#47E11F"/>
<rect x="449.8" y="56.86" width="14" height="75.55" fill="#FA55FA"/>
<rect x="472.6" y="96.19" width="14" height="36.21" fill="#EC9C4B"/>
<rect x="495.2" y="98.93" width="14" height="33.47" fill="#7CFDC5"/>
<rect x="517.9" y="58.16" width="14" height="74.24" fill="#0A00F8"/>
<line x1="396.4" y1="27.7" x2="396.4" y2="132.4" stroke="#333333" stroke-width="1"/>
<line x1="392.4" y1="132.4" x2="396.4" y2="132.4" stroke="#333333" stroke-width="1"/>
<text x="391.9" y="135.22" font-size="8.2" text-anchor="end" fill="#222" stroke="#222" stroke-width="0.15">0.0</text>
<line x1="392.4" y1="106.35" x2="396.4" y2="106.35" stroke="#333333" stroke-width="1"/>
<text x="391.9" y="109.17" font-size="8.2" text-anchor="end" fill="#222" stroke="#222" stroke-width="0.15">0.2</text>
<line x1="392.4" y1="80.3" x2="396.4" y2="80.3" stroke="#333333" stroke-width="1"/>
<text x="391.9" y="83.12" font-size="8.2" text-anchor="end" fill="#222" stroke="#222" stroke-width="0.15">0.4</text>
<line x1="392.4" y1="54.25" x2="396.4" y2="54.25" stroke="#333333" stroke-width="1"/>
<text x="391.9" y="57.07" font-size="8.2" text-anchor="end" fill="#222" stroke="#222" stroke-width="0.15">0.6</text>
<line x1="392.4" y1="28.2" x2="396.4" y2="28.2" stroke="#333333" stroke-width="1"/>
<text x="391.9" y="31.02" font-size="8.2" text-anchor="end" fill="#222" stroke="#222" stroke-width="0.15">0.8</text>
<line x1="395.9" y1="132.4" x2="541.3" y2="132.4" stroke="#333333" stroke-width="1"/>
<line x1="411.2" y1="132.4" x2="411.2" y2="135.9" stroke="#666" stroke-width="1"/>
<line x1="434" y1="132.4" x2="434" y2="135.9" stroke="#666" stroke-width="1"/>
<line x1="456.8" y1="132.4" x2="456.8" y2="135.9" stroke="#666" stroke-width="1"/>
<line x1="479.6" y1="132.4" x2="479.6" y2="135.9" stroke="#666" stroke-width="1"/>
<line x1="502.2" y1="132.4" x2="502.2" y2="135.9" stroke="#666" stroke-width="1"/>
<line x1="524.9" y1="132.4" x2="524.9" y2="135.9" stroke="#666" stroke-width="1"/>
<text x="373.5" y="74.5" font-size="10" text-anchor="middle" fill="#1a1a1a" stroke="#1a1a1a" stroke-width="0.15" transform="rotate(-90 373.5 74.5)">Tumor weight (g)</text>
<line x1="411.2" y1="48.6" x2="411.2" y2="71.6" stroke="#111" stroke-width="0.9"/>
<line x1="407.7" y1="48.6" x2="414.7" y2="48.6" stroke="#111" stroke-width="0.9"/>
<line x1="407.7" y1="71.6" x2="414.7" y2="71.6" stroke="#111" stroke-width="0.9"/>
<circle cx="411.2" cy="49.1" r="1.9" fill="#000"/>
<circle cx="416.9" cy="47.9" r="1.9" fill="#000"/>
<circle cx="411.2" cy="54.5" r="1.9" fill="#000"/>
<circle cx="411.2" cy="67.1" r="1.9" fill="#000"/>
<circle cx="416.9" cy="66.2" r="1.9" fill="#000"/>
<circle cx="411.2" cy="76.6" r="1.9" fill="#000"/>
<line x1="433.8" y1="94.9" x2="433.8" y2="109.3" stroke="#111" stroke-width="0.9"/>
<line x1="430.3" y1="94.9" x2="437.3" y2="94.9" stroke="#111" stroke-width="0.9"/>
<line x1="430.3" y1="109.3" x2="437.3" y2="109.3" stroke="#111" stroke-width="0.9"/>
<rect x="431.9" y="94.1" width="3.4" height="3.4" fill="#000"/>
<rect x="438.2" y="92.9" width="3.4" height="3.4" fill="#000"/>
<rect x="438.2" y="97.7" width="3.4" height="3.4" fill="#000"/>
<rect x="431.9" y="101.3" width="3.4" height="3.4" fill="#000"/>
<rect x="431.9" y="105.3" width="3.4" height="3.4" fill="#000"/>
<rect x="431.9" y="111.2" width="3.4" height="3.4" fill="#000"/>
<line x1="456.6" y1="38.9" x2="456.6" y2="73.4" stroke="#111" stroke-width="0.9"/>
<line x1="453.1" y1="38.9" x2="460.1" y2="38.9" stroke="#111" stroke-width="0.9"/>
<line x1="453.1" y1="73.4" x2="460.1" y2="73.4" stroke="#111" stroke-width="0.9"/>
<path d="M456.6 36.16L458.36 39.28L454.84 39.28Z" fill="#000"/>
<path d="M456.6 40.96L458.36 44.08L454.84 44.08Z" fill="#000"/>
<path d="M456.6 45.16L458.36 48.28L454.84 48.28Z" fill="#000"/>
<path d="M456.6 59.46L458.36 62.58L454.84 62.58Z" fill="#000"/>
<path d="M456.6 67.96L458.36 71.08L454.84 71.08Z" fill="#000"/>
<path d="M456.6 78.66L458.36 81.78L454.84 81.78Z" fill="#000"/>
<line x1="479.4" y1="87.7" x2="479.4" y2="103.5" stroke="#111" stroke-width="0.9"/>
<line x1="475.9" y1="87.7" x2="482.9" y2="87.7" stroke="#111" stroke-width="0.9"/>
<line x1="475.9" y1="103.5" x2="482.9" y2="103.5" stroke="#111" stroke-width="0.9"/>
<path d="M472.9 88.64L474.66 85.52L471.14 85.52Z" fill="#000"/>
<path d="M472.9 91.24L474.66 88.12L471.14 88.12Z" fill="#000"/>
<path d="M486 90.84L487.76 87.72L484.24 87.72Z" fill="#000"/>
<path d="M479.4 103.04L481.16 99.92L477.64 99.92Z" fill="#000"/>
<path d="M472.9 105.24L474.66 102.12L471.14 102.12Z" fill="#000"/>
<path d="M486 104.34L487.76 101.22L484.24 101.22Z" fill="#000"/>
<line x1="502.2" y1="89.2" x2="502.2" y2="107.5" stroke="#111" stroke-width="0.9"/>
<line x1="498.7" y1="89.2" x2="505.7" y2="89.2" stroke="#111" stroke-width="0.9"/>
<line x1="498.7" y1="107.5" x2="505.7" y2="107.5" stroke="#111" stroke-width="0.9"/>
<circle cx="502.2" cy="82.9" r="1.6" fill="#000"/>
<circle cx="502.2" cy="90.4" r="1.6" fill="#000"/>
<circle cx="502.2" cy="101.7" r="1.6" fill="#000"/>
<circle cx="502.2" cy="103.9" r="1.6" fill="#000"/>
<circle cx="495.9" cy="106.2" r="1.6" fill="#000"/>
<circle cx="508.5" cy="105.2" r="1.6" fill="#000"/>
<line x1="524.7" y1="45.5" x2="524.7" y2="70.7" stroke="#111" stroke-width="0.9"/>
<line x1="521.2" y1="45.5" x2="528.2" y2="45.5" stroke="#111" stroke-width="0.9"/>
<line x1="521.2" y1="70.7" x2="528.2" y2="70.7" stroke="#111" stroke-width="0.9"/>
<circle cx="524.7" cy="40.1" r="1.4" fill="none" stroke="#111" stroke-width="0.8"/>
<circle cx="524.7" cy="48.2" r="1.4" fill="none" stroke="#111" stroke-width="0.8"/>
<circle cx="524.7" cy="55.4" r="1.4" fill="none" stroke="#111" stroke-width="0.8"/>
<circle cx="524.7" cy="60.8" r="1.4" fill="none" stroke="#111" stroke-width="0.8"/>
<circle cx="524.7" cy="68.9" r="1.4" fill="none" stroke="#111" stroke-width="0.8"/>
<circle cx="524.7" cy="72.5" r="1.4" fill="none" stroke="#111" stroke-width="0.8"/>
<path d="M411.5 40.1L411.5 35.7L434.5 35.7L434.5 75.2" stroke="#333" fill="none" stroke-width="0.9"/>
<text x="422.5" y="35.8" font-size="9" text-anchor="middle" font-weight="bold" fill="#111" stroke="#111" stroke-width="0.15">***</text>
<path d="M456.6 30.3L456.6 25.8L480.1 25.8L480.1 64.9" stroke="#333" fill="none" stroke-width="0.9"/>
<text x="467.8" y="25.9" font-size="9" text-anchor="middle" font-weight="bold" fill="#111" stroke="#111" stroke-width="0.15">***</text>
<path d="M502.2 68L502.2 28.5L525.6 28.5L525.6 33" stroke="#333" fill="none" stroke-width="0.9"/>
<text x="514.4" y="28.6" font-size="9" text-anchor="middle" font-weight="bold" fill="#111" stroke="#111" stroke-width="0.15">***</text>
<rect x="540.6" y="17.95" width="11" height="4.5" fill="#F54242"/>
<text x="555" y="23.8" font-size="8.5" fill="#222" stroke="#222" stroke-width="0.15">sgNC</text>
<rect x="540.6" y="29.39" width="11" height="4.5" fill="#47E11F"/>
<text x="555" y="35.24" font-size="8.5" fill="#222" stroke="#222" stroke-width="0.15">sgTHRAP3</text>
<rect x="540.6" y="40.83" width="11" height="4.5" fill="#FA55FA"/>
<text x="555" y="46.68" font-size="8.5" fill="#222" stroke="#222" stroke-width="0.15">Vector</text>
<rect x="540.6" y="52.27" width="11" height="4.5" fill="#EC9C4B"/>
<text x="555" y="58.12" font-size="8.5" fill="#222" stroke="#222" stroke-width="0.15">GIT2-L</text>
<rect x="540.6" y="63.71" width="11" height="4.5" fill="#7CFDC5"/>
<text x="555" y="69.56" font-size="8.5" fill="#222" stroke="#222" stroke-width="0.15">sgTHRAP3+vector</text>
<rect x="540.6" y="75.15" width="11" height="4.5" fill="#0A00F8"/>
<text x="555" y="81" font-size="8.5" fill="#222" stroke="#222" stroke-width="0.15">sgTHRAP3+GIT2-S</text>
<text x="404.6" y="158.6" font-size="9.8" font-weight="bold" fill="#111" stroke="#111" stroke-width="0.15">HL-60</text>
<rect x="405.7" y="223.1" width="17" height="40" fill="#F54242"/>
<rect x="433.2" y="204.28" width="17" height="58.82" fill="#47E11F"/>
<rect x="460" y="202.9" width="17" height="60.2" fill="#FA55FA"/>
<rect x="487.4" y="200.82" width="17" height="62.28" fill="#EC9C4B"/>
<rect x="514.8" y="225.73" width="17" height="37.37" fill="#7CFDC5"/>
<line x1="396.4" y1="158.8" x2="396.4" y2="263.1" stroke="#333333" stroke-width="1"/>
<line x1="392.4" y1="263.1" x2="396.4" y2="263.1" stroke="#333333" stroke-width="1"/>
<text x="391.9" y="265.92" font-size="8.2" text-anchor="end" fill="#222" stroke="#222" stroke-width="0.15">0.0</text>
<line x1="392.4" y1="228.5" x2="396.4" y2="228.5" stroke="#333333" stroke-width="1"/>
<text x="391.9" y="231.32" font-size="8.2" text-anchor="end" fill="#222" stroke="#222" stroke-width="0.15">0.5</text>
<line x1="392.4" y1="193.9" x2="396.4" y2="193.9" stroke="#333333" stroke-width="1"/>
<text x="391.9" y="196.72" font-size="8.2" text-anchor="end" fill="#222" stroke="#222" stroke-width="0.15">1.0</text>
<line x1="392.4" y1="159.3" x2="396.4" y2="159.3" stroke="#333333" stroke-width="1"/>
<text x="391.9" y="162.12" font-size="8.2" text-anchor="end" fill="#222" stroke="#222" stroke-width="0.15">1.5</text>
<line x1="395.9" y1="263.1" x2="542" y2="263.1" stroke="#333333" stroke-width="1"/>
<line x1="414.2" y1="263.1" x2="414.2" y2="266.6" stroke="#666" stroke-width="1"/>
<line x1="441.7" y1="263.1" x2="441.7" y2="266.6" stroke="#666" stroke-width="1"/>
<line x1="468.5" y1="263.1" x2="468.5" y2="266.6" stroke="#666" stroke-width="1"/>
<line x1="495.9" y1="263.1" x2="495.9" y2="266.6" stroke="#666" stroke-width="1"/>
<line x1="523.3" y1="263.1" x2="523.3" y2="266.6" stroke="#666" stroke-width="1"/>
<text x="373.5" y="206" font-size="10" text-anchor="middle" fill="#1a1a1a" stroke="#1a1a1a" stroke-width="0.15" transform="rotate(-90 373.5 206)">Tumor weight (g)</text>
<line x1="414.4" y1="214.3" x2="414.4" y2="230.6" stroke="#111" stroke-width="0.9"/>
<line x1="410.6" y1="214.3" x2="418.2" y2="214.3" stroke="#111" stroke-width="0.9"/>
<line x1="410.6" y1="230.6" x2="418.2" y2="230.6" stroke="#111" stroke-width="0.9"/>
<circle cx="414.6" cy="208.9" r="2.2" fill="#000"/>
<circle cx="407.6" cy="219.6" r="2.2" fill="#000"/>
<circle cx="421.6" cy="221.3" r="2.2" fill="#000"/>
<circle cx="414.6" cy="225.2" r="2.2" fill="#000"/>
<circle cx="414.6" cy="229.4" r="2.2" fill="#000"/>
<circle cx="414.6" cy="232.9" r="2.2" fill="#000"/>
<line x1="441.9" y1="196.7" x2="441.9" y2="211.2" stroke="#111" stroke-width="0.9"/>
<line x1="438.1" y1="196.7" x2="445.7" y2="196.7" stroke="#111" stroke-width="0.9"/>
<line x1="438.1" y1="211.2" x2="445.7" y2="211.2" stroke="#111" stroke-width="0.9"/>
<rect x="439.8" y="188.8" width="4.2" height="4.2" fill="#000"/>
<rect x="432.1" y="202.1" width="4.2" height="4.2" fill="#000"/>
<rect x="439.8" y="202.8" width="4.2" height="4.2" fill="#000"/>
<rect x="446.8" y="202.1" width="4.2" height="4.2" fill="#000"/>
<rect x="446.8" y="204" width="4.2" height="4.2" fill="#000"/>
<rect x="439.8" y="211" width="4.2" height="4.2" fill="#000"/>
<line x1="468.3" y1="191.6" x2="468.3" y2="212.6" stroke="#111" stroke-width="0.9"/>
<line x1="464.5" y1="191.6" x2="472.1" y2="191.6" stroke="#111" stroke-width="0.9"/>
<line x1="464.5" y1="212.6" x2="472.1" y2="212.6" stroke="#111" stroke-width="0.9"/>
<path d="M468.3 188.49L470.61 192.58L465.99 192.58Z" fill="#000"/>
<path d="M468.3 193.19L470.61 197.28L465.99 197.28Z" fill="#000"/>
<path d="M475.8 195.49L478.11 199.58L473.49 199.58Z" fill="#000"/>
<path d="M461.8 213.69L464.11 217.78L459.49 217.78Z" fill="#000"/>
<path d="M475.8 210.69L478.11 214.78L473.49 214.78Z" fill="#000"/>
<path d="M468.3 197.78L470.61 201.88L465.99 201.88Z" fill="#000"/>
<line x1="496.1" y1="192" x2="496.1" y2="208" stroke="#111" stroke-width="0.9"/>
<line x1="492.3" y1="192" x2="499.9" y2="192" stroke="#111" stroke-width="0.9"/>
<line x1="492.3" y1="208" x2="499.9" y2="208" stroke="#111" stroke-width="0.9"/>
<path d="M488.6 193.31L490.91 189.22L486.29 189.22Z" fill="#000"/>
<path d="M503.8 193.31L506.11 189.22L501.49 189.22Z" fill="#000"/>
<path d="M496.1 198.01L498.41 193.92L493.79 193.92Z" fill="#000"/>
<path d="M496.1 202.61L498.41 198.52L493.79 198.52Z" fill="#000"/>
<path d="M496.1 208.51L498.41 204.42L493.79 204.42Z" fill="#000"/>
<path d="M496.1 210.81L498.41 206.72L493.79 206.72Z" fill="#000"/>
<line x1="523.3" y1="220.1" x2="523.3" y2="228.3" stroke="#111" stroke-width="0.9"/>
<line x1="519.5" y1="220.1" x2="527.1" y2="220.1" stroke="#111" stroke-width="0.9"/>
<line x1="519.5" y1="228.3" x2="527.1" y2="228.3" stroke="#111" stroke-width="0.9"/>
<path d="M525.3 214.78L527.4 217.3L525.3 219.82L523.2 217.3Z" fill="#000"/>
<path d="M516.2 221.78L518.3 224.3L516.2 226.82L514.1 224.3Z" fill="#000"/>
<path d="M520.2 223.38L522.3 225.9L520.2 228.42L518.1 225.9Z" fill="#000"/>
<path d="M525.3 223.38L527.4 225.9L525.3 228.42L523.2 225.9Z" fill="#000"/>
<path d="M530.7 223.38L532.8 225.9L530.7 228.42L528.6 225.9Z" fill="#000"/>
<path d="M516.2 224.58L518.3 227.1L516.2 229.62L514.1 227.1Z" fill="#000"/>
<path d="M414.6 200.2L414.6 165.7L468.8 165.7L468.8 167.5" stroke="#333" fill="none" stroke-width="0.9"/>
<text x="441.2" y="165.9" font-size="9" text-anchor="middle" font-weight="bold" fill="#111" stroke="#111" stroke-width="0.15">**</text>
<path d="M414.6 200.2L414.6 181.1L441.9 181.1L441.9 182.7" stroke="#333" fill="none" stroke-width="0.9"/>
<text x="428.6" y="181.3" font-size="9" text-anchor="middle" font-weight="bold" fill="#111" stroke="#111" stroke-width="0.15">**</text>
<path d="M495 184L495 180.4L523 180.4L523 204.9" stroke="#333" fill="none" stroke-width="0.9"/>
<text x="509" y="180.6" font-size="9" text-anchor="middle" font-weight="bold" fill="#111" stroke="#111" stroke-width="0.15">***</text>
<rect x="540.6" y="154.75" width="11" height="4.5" fill="#F54242"/>
<text x="555" y="160.6" font-size="8.5" fill="#222" stroke="#222" stroke-width="0.15">Vector</text>
<rect x="540.6" y="166.18" width="11" height="4.5" fill="#47E11F"/>
<text x="555" y="172.03" font-size="8.5" fill="#222" stroke="#222" stroke-width="0.15">THRAP3</text>
<rect x="540.6" y="177.61" width="11" height="4.5" fill="#FA55FA"/>
<text x="555" y="183.46" font-size="8.5" fill="#222" stroke="#222" stroke-width="0.15">GIT2-S</text>
<rect x="540.6" y="189.04" width="11" height="4.5" fill="#EC9C4B"/>
<text x="555" y="194.89" font-size="8.5" fill="#222" stroke="#222" stroke-width="0.15">THRAP3+shNC</text>
<rect x="540.6" y="200.47" width="11" height="4.5" fill="#7CFDC5"/>
<text x="555" y="206.32" font-size="8.5" fill="#222" stroke="#222" stroke-width="0.15">THRAP3+shGIT2-S</text>
<line x1="25.8" y1="321.5" x2="25.8" y2="428.3" stroke="#333333" stroke-width="1"/>
<line x1="25.3" y1="428.3" x2="166.6" y2="428.3" stroke="#333333" stroke-width="1"/>
<line x1="22.5" y1="428.3" x2="25.8" y2="428.3" stroke="#333333" stroke-width="1"/>
<text x="22" y="431.2" font-size="8.5" text-anchor="end" fill="#222" stroke="#222" stroke-width="0.15">0</text>
<line x1="22.5" y1="379.7" x2="25.8" y2="379.7" stroke="#333333" stroke-width="1"/>
<text x="22" y="382.6" font-size="8.5" text-anchor="end" fill="#222" stroke="#222" stroke-width="0.15">50</text>
<line x1="22.5" y1="331.1" x2="25.8" y2="331.1" stroke="#333333" stroke-width="1"/>
<text x="22" y="334" font-size="8.5" text-anchor="end" fill="#222" stroke="#222" stroke-width="0.15">100</text>
<line x1="25.8" y1="428.3" x2="25.8" y2="431.3" stroke="#333333" stroke-width="1"/>
<text x="25.8" y="439.3" font-size="8.5" text-anchor="middle" fill="#222" stroke="#222" stroke-width="0.15">0</text>
<line x1="53.86" y1="428.3" x2="53.86" y2="431.3" stroke="#333333" stroke-width="1"/>
<text x="53.86" y="439.3" font-size="8.5" text-anchor="middle" fill="#222" stroke="#222" stroke-width="0.15">10</text>
<line x1="81.92" y1="428.3" x2="81.92" y2="431.3" stroke="#333333" stroke-width="1"/>
<text x="81.92" y="439.3" font-size="8.5" text-anchor="middle" fill="#222" stroke="#222" stroke-width="0.15">20</text>
<line x1="109.98" y1="428.3" x2="109.98" y2="431.3" stroke="#333333" stroke-width="1"/>
<text x="109.98" y="439.3" font-size="8.5" text-anchor="middle" fill="#222" stroke="#222" stroke-width="0.15">30</text>
<line x1="138.04" y1="428.3" x2="138.04" y2="431.3" stroke="#333333" stroke-width="1"/>
<text x="138.04" y="439.3" font-size="8.5" text-anchor="middle" fill="#222" stroke="#222" stroke-width="0.15">40</text>
<line x1="166.1" y1="428.3" x2="166.1" y2="431.3" stroke="#333333" stroke-width="1"/>
<text x="166.1" y="439.3" font-size="8.5" text-anchor="middle" fill="#222" stroke="#222" stroke-width="0.15">50</text>
<text x="96.3" y="450.2" font-size="9.6" text-anchor="middle" fill="#1a1a1a" stroke="#1a1a1a" stroke-width="0.15">Time (day)</text>
<text x="8.6" y="381" font-size="10" text-anchor="middle" fill="#1a1a1a" stroke="#1a1a1a" stroke-width="0.15" transform="rotate(-90 8.6 381)" textLength="74.5" lengthAdjust="spacingAndGlyphs">Percent survival</text>
<path d="M25.8 331.57 L58.6 331.57 L58.6 341.98 L67.36 341.98 L67.36 353.06 L78.1 353.06 L78.1 366.78 L84.38 366.78 L84.38 378.18 L101.24 378.18 L101.24 394.71 L107.02 394.71 L107.02 411.4 L115.62 411.4 L115.62 428.3" stroke="#F2F23A" fill="none" stroke-width="1.0"/>
<path d="M25.8 331.57 L67.36 331.57 L67.36 343.14 L69.83 343.14 L69.83 355.21 L78.43 355.21 L78.43 366.78 L95.45 366.78 L95.45 387.77 L104.21 387.77 L104.21 408.76 L109.83 408.76 L109.83 428.3" stroke="#4FDB4F" fill="none" stroke-width="1.0"/>
<path d="M25.8 331.57 L64.55 331.57 L64.55 341.98 L76.12 341.98 L76.12 354.38 L84.38 354.38 L84.38 366.78 L95.45 366.78 L95.45 382.31 L98.26 382.31 L98.26 397.19 L112.81 397.19 L112.81 428.3" stroke="#2B2BF0" fill="none" stroke-width="1.0"/>
<path d="M25.8 331.57 L87.52 331.57 L87.52 341.16 L104.21 341.16 L104.21 353.88 L123.55 353.88 L123.55 368.43 L129.67 368.43 L129.67 383.31 L132.31 383.31 L132.31 398.51 L138.43 398.51 L138.43 428.3" stroke="#C43CF0" fill="none" stroke-width="1.0"/>
<path d="M25.8 331.57 L87.52 331.57 L87.52 341.98 L107.02 341.98 L107.02 356.03 L123.55 356.03 L123.55 374.21 L126.36 374.21 L126.36 392.23 L132.31 392.23 L132.31 410.41 L137.93 410.41 L137.93 428.3" stroke="#FF3535" fill="none" stroke-width="1.0"/>
<line x1="39.83" y1="329.1" x2="39.83" y2="331.1" stroke="#FF3535" stroke-width="0.9"/>
<line x1="53.86" y1="329.1" x2="53.86" y2="331.1" stroke="#FF3535" stroke-width="0.9"/>
<line x1="67.89" y1="329.1" x2="67.89" y2="331.1" stroke="#FF3535" stroke-width="0.9"/>
<line x1="81.92" y1="329.1" x2="81.92" y2="331.1" stroke="#FF3535" stroke-width="0.9"/>
<line x1="95.45" y1="339.16" x2="95.45" y2="341.16" stroke="#C43CF0" stroke-width="0.9"/>
<line x1="98.76" y1="339.16" x2="98.76" y2="341.16" stroke="#C43CF0" stroke-width="0.9"/>
<line x1="101.57" y1="339.16" x2="101.57" y2="341.16" stroke="#C43CF0" stroke-width="0.9"/>
<line x1="112.48" y1="351.88" x2="112.48" y2="353.88" stroke="#C43CF0" stroke-width="0.9"/>
<line x1="118.6" y1="354.03" x2="118.6" y2="356.03" stroke="#FF3535" stroke-width="0.9"/>
<line x1="135.12" y1="396.51" x2="135.12" y2="398.51" stroke="#C43CF0" stroke-width="0.9"/>
<line x1="69.83" y1="339.98" x2="69.83" y2="341.98" stroke="#2B2BF0" stroke-width="0.9"/>
<line x1="92.15" y1="364.78" x2="92.15" y2="366.78" stroke="#2B2BF0" stroke-width="0.9"/>
<line x1="88.02" y1="364.78" x2="88.02" y2="366.78" stroke="#4FDB4F" stroke-width="0.9"/>
<line x1="25.1" y1="295.8" x2="36.8" y2="295.8" stroke="#FF3535" stroke-width="1.3"/>
<line x1="31" y1="293.2" x2="31" y2="296.4" stroke="#111" stroke-width="0.9"/>
<text x="42.7" y="298.8" font-size="8.5" fill="#222" stroke="#222" stroke-width="0.15">Vector</text>
<line x1="25.1" y1="305.9" x2="36.8" y2="305.9" stroke="#F2F23A" stroke-width="1.3"/>
<line x1="31" y1="303.3" x2="31" y2="306.5" stroke="#111" stroke-width="0.9"/>
<text x="42.7" y="308.9" font-size="8.5" fill="#222" stroke="#222" stroke-width="0.15">THRAP3</text>
<line x1="25.1" y1="315.6" x2="36.8" y2="315.6" stroke="#4FDB4F" stroke-width="1.3"/>
<line x1="31" y1="313" x2="31" y2="316.2" stroke="#111" stroke-width="0.9"/>
<text x="42.7" y="318.6" font-size="8.5" fill="#222" stroke="#222" stroke-width="0.15">GIT2-S</text>
<line x1="79.6" y1="300.6" x2="91.3" y2="300.6" stroke="#2B2BF0" stroke-width="1.3"/>
<line x1="85.5" y1="298" x2="85.5" y2="301.2" stroke="#111" stroke-width="0.9"/>
<text x="97.2" y="303.6" font-size="8.5" fill="#222" stroke="#222" stroke-width="0.15">THRAP3+shNC</text>
<line x1="79.6" y1="311" x2="91.3" y2="311" stroke="#C43CF0" stroke-width="1.3"/>
<line x1="85.5" y1="308.4" x2="85.5" y2="311.6" stroke="#111" stroke-width="0.9"/>
<text x="97.2" y="314" font-size="8.5" fill="#222" stroke="#222" stroke-width="0.15">THRAP3+shGIT2-S</text>
<text x="126.2" y="339.8" font-size="10.5" font-weight="bold" font-style="italic" fill="#111" stroke="#111" stroke-width="0.15">p</text>
<text x="134.5" y="339.4" font-size="10" fill="#1a1a1a" stroke="#1a1a1a" stroke-width="0.15">=</text>
<text x="142.9" y="339.4" font-size="9.6" fill="#1a1a1a" stroke="#1a1a1a" stroke-width="0.15" textLength="30.2" lengthAdjust="spacingAndGlyphs">0.0003</text>
<text x="295.4" y="332.6" font-size="10" text-anchor="middle" font-weight="bold" fill="#111" stroke="#111" stroke-width="0.15">HL-60</text>
<defs><clipPath id="pc"><rect x="220.2" y="340.2" width="160.2" height="82.5"/></clipPath><radialGradient id="lv" cx="0.55" cy="0.45" r="0.6"><stop offset="0" stop-color="#7e4c58"/><stop offset="0.6" stop-color="#6a3d48"/><stop offset="1" stop-color="#58303c"/></radialGradient><linearGradient id="sp" x1="0" y1="0" x2="1" y2="0"><stop offset="0" stop-color="#21152a"/><stop offset="0.5" stop-color="#3a2842"/><stop offset="1" stop-color="#1d1224"/></linearGradient></defs>
<g clip-path="url(#pc)">
<rect x="220.2" y="340.2" width="160.2" height="82.5" fill="#c1c1b6"/>
<line x1="222.34" y1="340.2" x2="222.34" y2="422.7" stroke="#80817b" stroke-width="0.6"/>
<line x1="232.46" y1="340.2" x2="232.46" y2="422.7" stroke="#80817b" stroke-width="0.6"/>
<line x1="237.52" y1="340.2" x2="237.52" y2="422.7" stroke="#80817b" stroke-width="0.6"/>
<line x1="242.58" y1="340.2" x2="242.58" y2="422.7" stroke="#80817b" stroke-width="0.6"/>
<line x1="247.64" y1="340.2" x2="247.64" y2="422.7" stroke="#80817b" stroke-width="0.6"/>
<line x1="257.76" y1="340.2" x2="257.76" y2="422.7" stroke="#80817b" stroke-width="0.6"/>
<line x1="262.82" y1="340.2" x2="262.82" y2="422.7" stroke="#80817b" stroke-width="0.6"/>
<line x1="267.88" y1="340.2" x2="267.88" y2="422.7" stroke="#80817b" stroke-width="0.6"/>
<line x1="272.94" y1="340.2" x2="272.94" y2="422.7" stroke="#80817b" stroke-width="0.6"/>
<line x1="283.06" y1="340.2" x2="283.06" y2="422.7" stroke="#80817b" stroke-width="0.6"/>
<line x1="288.12" y1="340.2" x2="288.12" y2="422.7" stroke="#80817b" stroke-width="0.6"/>
<line x1="293.18" y1="340.2" x2="293.18" y2="422.7" stroke="#80817b" stroke-width="0.6"/>
<line x1="298.24" y1="340.2" x2="298.24" y2="422.7" stroke="#80817b" stroke-width="0.6"/>
<line x1="308.36" y1="340.2" x2="308.36" y2="422.7" stroke="#80817b" stroke-width="0.6"/>
<line x1="313.42" y1="340.2" x2="313.42" y2="422.7" stroke="#80817b" stroke-width="0.6"/>
<line x1="318.48" y1="340.2" x2="318.48" y2="422.7" stroke="#80817b" stroke-width="0.6"/>
<line x1="323.54" y1="340.2" x2="323.54" y2="422.7" stroke="#80817b" stroke-width="0.6"/>
<line x1="333.66" y1="340.2" x2="333.66" y2="422.7" stroke="#80817b" stroke-width="0.6"/>
<line x1="338.72" y1="340.2" x2="338.72" y2="422.7" stroke="#80817b" stroke-width="0.6"/>
<line x1="343.78" y1="340.2" x2="343.78" y2="422.7" stroke="#80817b" stroke-width="0.6"/>
<line x1="348.84" y1="340.2" x2="348.84" y2="422.7" stroke="#80817b" stroke-width="0.6"/>
<line x1="358.96" y1="340.2" x2="358.96" y2="422.7" stroke="#80817b" stroke-width="0.6"/>
<line x1="364.02" y1="340.2" x2="364.02" y2="422.7" stroke="#80817b" stroke-width="0.6"/>
<line x1="369.08" y1="340.2" x2="369.08" y2="422.7" stroke="#80817b" stroke-width="0.6"/>
<line x1="374.14" y1="340.2" x2="374.14" y2="422.7" stroke="#80817b" stroke-width="0.6"/>
<line x1="220.2" y1="345.98" x2="380.4" y2="345.98" stroke="#80817b" stroke-width="0.6"/>
<line x1="220.2" y1="351.06" x2="380.4" y2="351.06" stroke="#80817b" stroke-width="0.6"/>
<line x1="220.2" y1="356.14" x2="380.4" y2="356.14" stroke="#80817b" stroke-width="0.6"/>
<line x1="220.2" y1="361.22" x2="380.4" y2="361.22" stroke="#80817b" stroke-width="0.6"/>
<line x1="220.2" y1="371.38" x2="380.4" y2="371.38" stroke="#80817b" stroke-width="0.6"/>
<line x1="220.2" y1="376.46" x2="380.4" y2="376.46" stroke="#80817b" stroke-width="0.6"/>
<line x1="220.2" y1="381.54" x2="380.4" y2="381.54" stroke="#80817b" stroke-width="0.6"/>
<line x1="220.2" y1="386.62" x2="380.4" y2="386.62" stroke="#80817b" stroke-width="0.6"/>
<line x1="220.2" y1="396.78" x2="380.4" y2="396.78" stroke="#80817b" stroke-width="0.6"/>
<line x1="220.2" y1="401.86" x2="380.4" y2="401.86" stroke="#80817b" stroke-width="0.6"/>
<line x1="220.2" y1="406.94" x2="380.4" y2="406.94" stroke="#80817b" stroke-width="0.6"/>
<line x1="220.2" y1="412.02" x2="380.4" y2="412.02" stroke="#80817b" stroke-width="0.6"/>
<line x1="220.2" y1="422.18" x2="380.4" y2="422.18" stroke="#80817b" stroke-width="0.6"/>
<line x1="252.7" y1="340.2" x2="252.7" y2="422.7" stroke="#5c5d58" stroke-width="0.8"/>
<line x1="278" y1="340.2" x2="278" y2="422.7" stroke="#5c5d58" stroke-width="0.8"/>
<line x1="303.3" y1="340.2" x2="303.3" y2="422.7" stroke="#5c5d58" stroke-width="0.8"/>
<line x1="328.6" y1="340.2" x2="328.6" y2="422.7" stroke="#5c5d58" stroke-width="0.8"/>
<line x1="353.9" y1="340.2" x2="353.9" y2="422.7" stroke="#5c5d58" stroke-width="0.8"/>
<line x1="379.2" y1="340.2" x2="379.2" y2="422.7" stroke="#5c5d58" stroke-width="0.8"/>
<line x1="220.2" y1="340.9" x2="380.4" y2="340.9" stroke="#5c5d58" stroke-width="0.8"/>
<line x1="220.2" y1="366.3" x2="380.4" y2="366.3" stroke="#5c5d58" stroke-width="0.8"/>
<line x1="220.2" y1="391.7" x2="380.4" y2="391.7" stroke="#5c5d58" stroke-width="0.8"/>
<line x1="220.2" y1="417.1" x2="380.4" y2="417.1" stroke="#5c5d58" stroke-width="0.8"/>
<path d="M230.48 345.77Q231.53 344.58 233.12 344.44Q234.7 344.3 235.28 344.76Q235.87 345.22 236.66 344.52Q237.45 343.82 239.31 343.85Q241.18 343.87 242.22 344.54Q243.25 345.21 243.56 347.36Q243.86 349.51 243.53 351.09Q243.21 352.66 242.48 353.47Q241.75 354.28 239.57 354.69Q237.4 355.1 235.63 354.64Q233.85 354.19 233.53 353.06Q233.2 351.93 232.56 350.99Q231.91 350.04 231.22 349.36Q230.52 348.68 229.97 347.82Q229.42 346.96 230.48 345.77Z" stroke="none" fill="url(#lv)" stroke-width="1"/>
<path d="M255.79 345.03Q256.69 343.8 257.91 343.91Q259.13 344.02 260.17 344.48Q261.2 344.93 261.98 343.98Q262.76 343.02 264.26 342.94Q265.76 342.86 267.02 343.92Q268.29 344.98 268.52 347.02Q268.76 349.06 268.46 351.01Q268.16 352.97 266.95 353.95Q265.73 354.93 263.96 354.78Q262.19 354.63 260.81 354.38Q259.43 354.14 258.63 352.9Q257.83 351.66 257.24 350.7Q256.66 349.75 256.15 349.16Q255.63 348.57 255.26 347.42Q254.88 346.27 255.79 345.03Z" stroke="none" fill="url(#lv)" stroke-width="1"/>
<path d="M281.92 346.63Q282.25 345.37 283.76 345.29Q285.28 345.21 286.3 346.14Q287.32 347.06 288.14 346.03Q288.96 344.99 290.52 344.74Q292.08 344.49 292.95 345.57Q293.81 346.66 294.39 348.35Q294.96 350.04 294.36 351.66Q293.76 353.28 292.77 354.21Q291.79 355.13 289.8 355.18Q287.81 355.23 286.47 355.12Q285.12 355.01 284.63 354.01Q284.14 353.01 283.55 351.96Q282.96 350.91 282.45 350.35Q281.93 349.78 281.76 348.84Q281.6 347.89 281.92 346.63Z" stroke="none" fill="url(#lv)" stroke-width="1"/>
<path d="M305.63 347.46Q306.03 346.39 307.38 346.18Q308.74 345.97 309.84 346.66Q310.93 347.35 311.47 346.54Q312 345.72 313.52 345.51Q315.04 345.29 316.6 346.21Q318.16 347.12 318.38 348.83Q318.61 350.53 318.46 352.13Q318.31 353.72 316.77 354.48Q315.24 355.24 313.59 355.09Q311.93 354.95 310.48 354.92Q309.03 354.89 308.5 354.18Q307.98 353.47 307.19 352.1Q306.4 350.73 305.94 350.2Q305.48 349.66 305.35 349.09Q305.23 348.52 305.63 347.46Z" stroke="none" fill="url(#lv)" stroke-width="1"/>
<path d="M329.51 346.67Q330.33 345.72 332 345.37Q333.67 345.02 334.33 345.92Q335 346.82 336.18 345.82Q337.35 344.82 338.52 344.96Q339.7 345.1 341.33 345.72Q342.95 346.34 343.04 348.13Q343.13 349.92 343.08 351.29Q343.02 352.66 341.79 353.8Q340.55 354.94 338.49 354.69Q336.44 354.43 334.59 354.23Q332.73 354.03 332.46 353.1Q332.19 352.16 331.31 351.2Q330.43 350.23 329.68 349.66Q328.93 349.08 328.81 348.35Q328.69 347.63 329.51 346.67Z" stroke="none" fill="url(#lv)" stroke-width="1"/>
<path d="M354.87 347.61Q355.89 346.6 356.68 346.51Q357.47 346.43 358.38 347.22Q359.3 348 360.25 347Q361.2 345.99 362.08 346.12Q362.97 346.25 364.39 346.94Q365.81 347.64 366.03 349.28Q366.25 350.92 365.94 352.41Q365.63 353.9 364.42 354.52Q363.21 355.13 361.69 355.07Q360.18 355.02 359.18 354.75Q358.19 354.49 357.5 353.71Q356.8 352.94 356.3 352.04Q355.81 351.15 355.08 350.72Q354.35 350.29 354.1 349.46Q353.85 348.62 354.87 347.61Z" stroke="none" fill="url(#lv)" stroke-width="1"/>
<path d="M227.23 359.2Q228.51 357.68 229.8 357.72Q231.08 357.76 232.35 358.49Q233.61 359.23 235.24 358.48Q236.87 357.73 238.42 357.34Q239.97 356.96 241.67 358.23Q243.36 359.49 243.86 361.7Q244.36 363.9 244.47 366.01Q244.58 368.12 242.87 369.46Q241.17 370.8 238.61 370.51Q236.05 370.22 233.98 370.36Q231.91 370.51 230.86 368.99Q229.82 367.48 229.3 366.21Q228.79 364.95 227.75 363.96Q226.7 362.97 226.33 361.84Q225.95 360.71 227.23 359.2Z" stroke="none" fill="url(#lv)" stroke-width="1"/>
<path d="M254.47 360.42Q255.16 358.83 256.51 358.97Q257.86 359.12 259.51 359.73Q261.16 360.34 262.3 359.04Q263.43 357.73 265.19 357.63Q266.94 357.53 268.69 358.64Q270.43 359.76 271.1 362.08Q271.77 364.41 271.08 366.35Q270.4 368.29 269.12 369.86Q267.85 371.44 265.27 371.13Q262.7 370.83 260.82 370.44Q258.94 370.06 258.07 369.16Q257.19 368.26 256.26 366.76Q255.33 365.26 254.58 364.46Q253.83 363.66 253.81 362.83Q253.79 362.01 254.47 360.42Z" stroke="none" fill="url(#lv)" stroke-width="1"/>
<path d="M280.51 360.68Q281.56 359.59 282.54 359.44Q283.53 359.28 284.69 360.07Q285.84 360.86 287.1 359.73Q288.35 358.6 290.53 358.28Q292.72 357.96 293.92 359.2Q295.13 360.44 295.2 362.62Q295.27 364.8 295.29 366.84Q295.31 368.87 293.98 369.71Q292.65 370.54 290.55 370.43Q288.44 370.32 285.95 370.32Q283.47 370.31 282.84 369.09Q282.21 367.86 282.04 366.49Q281.88 365.12 280.95 364.66Q280.03 364.2 279.75 362.98Q279.47 361.77 280.51 360.68Z" stroke="none" fill="url(#lv)" stroke-width="1"/>
<path d="M304.44 358.68Q305.42 357.83 307.09 357.37Q308.76 356.91 309.72 358.02Q310.69 359.13 311.72 358.08Q312.75 357.02 314.72 356.99Q316.69 356.96 318.43 357.62Q320.18 358.28 320.89 360.42Q321.6 362.56 321.11 364.63Q320.63 366.69 318.8 367.6Q316.98 368.51 314.59 368.54Q312.21 368.56 310.24 368.2Q308.27 367.83 308.03 366.8Q307.78 365.77 306.96 364.42Q306.13 363.07 304.98 362.77Q303.82 362.46 303.64 361Q303.46 359.54 304.44 358.68Z" stroke="none" fill="url(#lv)" stroke-width="1"/>
<path d="M329.93 359.5Q330.3 358.46 331.77 358.1Q333.25 357.73 334.53 358.73Q335.81 359.72 337.04 358.59Q338.27 357.46 339.85 357.44Q341.43 357.43 343.1 358.57Q344.77 359.7 345.08 361.3Q345.38 362.9 344.79 365.08Q344.2 367.25 343.04 368.54Q341.89 369.83 339.46 369.75Q337.03 369.66 335.35 369.41Q333.67 369.15 332.75 367.95Q331.83 366.75 331.29 365.25Q330.74 363.76 330.39 363.19Q330.04 362.62 329.8 361.58Q329.56 360.54 329.93 359.5Z" stroke="none" fill="url(#lv)" stroke-width="1"/>
<path d="M355.22 360.22Q355.64 359.01 357.1 358.96Q358.55 358.91 359.49 359.61Q360.43 360.3 361.58 359.1Q362.72 357.9 365.08 357.84Q367.44 357.79 368.62 359.08Q369.8 360.37 369.85 362.49Q369.9 364.6 370.09 366.31Q370.29 368.02 368.76 369.25Q367.24 370.48 365.11 370.34Q362.98 370.21 361.06 370.29Q359.15 370.36 358.48 368.91Q357.82 367.46 357.4 366.11Q356.98 364.75 356.08 364.24Q355.18 363.73 354.99 362.58Q354.81 361.44 355.22 360.22Z" stroke="none" fill="url(#lv)" stroke-width="1"/>
<path d="M227.82 376.65Q229.3 375.41 230.97 375.14Q232.63 374.87 233.17 375.52Q233.7 376.18 235.03 375.36Q236.37 374.54 238.23 374.45Q240.1 374.36 241.51 375.2Q242.92 376.04 243.49 378.04Q244.06 380.04 243.7 382.22Q243.34 384.4 241.77 385.31Q240.2 386.23 238.1 386.06Q236 385.9 233.97 385.92Q231.95 385.95 231 384.84Q230.04 383.72 229.87 382.27Q229.69 380.82 228.84 380.36Q228 379.9 227.16 378.9Q226.33 377.9 227.82 376.65Z" stroke="none" fill="url(#lv)" stroke-width="1"/>
<path d="M254.57 375.68Q255.54 374.32 256.97 374.37Q258.39 374.41 259.6 374.84Q260.8 375.26 261.83 374.56Q262.86 373.87 265.07 373.52Q267.28 373.18 268.41 374.29Q269.55 375.39 270.4 377.32Q271.25 379.25 270.85 381.7Q270.45 384.15 268.64 385.05Q266.83 385.94 264.68 386.18Q262.53 386.41 260.92 386.19Q259.31 385.96 258.01 384.45Q256.7 382.94 256.33 381.71Q255.96 380.48 255.14 379.61Q254.32 378.73 253.96 377.88Q253.6 377.03 254.57 375.68Z" stroke="none" fill="url(#lv)" stroke-width="1"/>
<path d="M282.43 376.05Q283.57 374.63 285.02 374.58Q286.47 374.52 286.88 375.31Q287.28 376.1 288.47 374.69Q289.66 373.28 291.63 373.49Q293.6 373.7 295.07 374.59Q296.53 375.49 296.78 377.96Q297.04 380.44 297 382.2Q296.97 383.96 295.31 385.31Q293.66 386.66 291.38 386.76Q289.11 386.87 287.34 386.54Q285.57 386.2 285.23 385.19Q284.88 384.19 283.86 382.34Q282.84 380.5 282.15 380.06Q281.47 379.61 281.38 378.54Q281.29 377.47 282.43 376.05Z" stroke="none" fill="url(#lv)" stroke-width="1"/>
<path d="M304.58 375.18Q305.63 373.8 307.61 373.99Q309.59 374.18 310.34 374.95Q311.09 375.73 312.33 374.61Q313.57 373.49 315.52 373.34Q317.47 373.19 319.44 374.5Q321.4 375.82 321.73 377.54Q322.07 379.26 321.48 381.45Q320.89 383.64 319.16 384.82Q317.43 385.99 314.91 385.91Q312.4 385.83 310.95 385.74Q309.5 385.65 308.53 384.24Q307.56 382.83 306.64 381.38Q305.72 379.93 304.69 379.33Q303.66 378.72 303.6 377.64Q303.54 376.56 304.58 375.18Z" stroke="none" fill="url(#lv)" stroke-width="1"/>
<path d="M329.51 376.03Q330.01 374.42 332.02 374.51Q334.03 374.61 334.63 375.29Q335.24 375.98 336.26 375.05Q337.28 374.13 339.5 373.97Q341.73 373.82 343.21 374.72Q344.69 375.63 344.97 378.03Q345.24 380.43 344.6 382.16Q343.96 383.88 342.95 384.91Q341.93 385.94 339.82 386.01Q337.7 386.09 335.54 385.98Q333.38 385.88 332.24 384.82Q331.09 383.76 330.67 382.16Q330.24 380.57 329.56 380Q328.89 379.43 328.95 378.53Q329.01 377.63 329.51 376.03Z" stroke="none" fill="url(#lv)" stroke-width="1"/>
<path d="M354.88 375.6Q356.05 374.57 357.86 374.32Q359.67 374.06 360.64 374.98Q361.62 375.9 362.31 374.48Q362.99 373.06 365 373.04Q367 373.02 367.98 374.52Q368.96 376.02 369.98 377.85Q371 379.69 370.46 381.82Q369.91 383.95 368.82 385.01Q367.73 386.07 365.25 385.94Q362.78 385.82 360.79 385.65Q358.8 385.48 357.98 384.13Q357.17 382.78 356.78 381.73Q356.38 380.68 355.44 380.1Q354.5 379.51 354.1 378.07Q353.71 376.62 354.88 375.6Z" stroke="none" fill="url(#lv)" stroke-width="1"/>
<path d="M228.25 391.43Q229.42 389.69 230.48 390.07Q231.55 390.46 233.09 390.83Q234.63 391.19 235.66 390.07Q236.69 388.94 238.24 388.86Q239.79 388.78 241.37 390.15Q242.95 391.53 243.81 393.73Q244.67 395.93 243.78 398.02Q242.89 400.1 241.42 401.2Q239.96 402.29 237.83 402.55Q235.7 402.81 233.67 402.4Q231.64 401.99 230.68 400.99Q229.71 399.98 229.39 398.21Q229.07 396.45 228.19 395.79Q227.32 395.14 227.2 394.16Q227.08 393.17 228.25 391.43Z" stroke="none" fill="url(#lv)" stroke-width="1"/>
<path d="M253.38 392.45Q254.74 391.18 256.39 391.18Q258.05 391.18 258.53 392.11Q259.01 393.03 260.52 392.09Q262.02 391.15 263.58 390.98Q265.13 390.8 267.09 391.71Q269.04 392.62 269.19 394.85Q269.34 397.07 268.85 399.27Q268.37 401.46 267.31 402.61Q266.25 403.77 263.69 403.59Q261.12 403.42 259.07 402.99Q257.01 402.56 256.52 401.8Q256.03 401.04 255.13 399.15Q254.22 397.26 253.22 396.81Q252.22 396.37 252.12 395.05Q252.02 393.72 253.38 392.45Z" stroke="none" fill="url(#lv)" stroke-width="1"/>
<path d="M282.32 392.62Q283.14 391.42 284.95 391.17Q286.76 390.93 287.23 391.88Q287.69 392.83 289.05 391.69Q290.41 390.54 292.69 390.62Q294.97 390.69 295.96 391.78Q296.96 392.87 297.89 395.12Q298.81 397.37 297.91 399.38Q297.02 401.4 295.66 402.49Q294.31 403.59 292.27 403.73Q290.23 403.87 288.35 403.09Q286.47 402.31 285.63 401.31Q284.8 400.31 284.39 398.77Q283.98 397.24 282.68 396.93Q281.38 396.62 281.44 395.22Q281.51 393.83 282.32 392.62Z" stroke="none" fill="url(#lv)" stroke-width="1"/>
<path d="M305.84 392.95Q307.25 391.64 308.93 391.41Q310.61 391.18 311.14 391.88Q311.67 392.57 312.97 391.44Q314.26 390.3 316.47 390.17Q318.68 390.05 319.7 391.66Q320.72 393.27 321.67 394.98Q322.62 396.7 321.96 399.06Q321.29 401.41 320.1 402.29Q318.91 403.16 316.37 403.46Q313.83 403.77 311.61 403.52Q309.4 403.26 308.93 401.75Q308.45 400.23 308.09 398.76Q307.74 397.29 306.52 396.9Q305.29 396.51 304.86 395.39Q304.42 394.26 305.84 392.95Z" stroke="none" fill="url(#lv)" stroke-width="1"/>
<path d="M329.36 393.01Q330.67 391.11 331.81 390.98Q332.95 390.85 334.23 391.78Q335.51 392.7 336.58 391.92Q337.64 391.15 339.79 390.61Q341.93 390.06 342.99 391.51Q344.04 392.96 344.49 395.23Q344.94 397.51 344.66 399.97Q344.38 402.44 342.94 403.48Q341.5 404.52 339.22 404.41Q336.94 404.3 335.26 404.09Q333.58 403.88 332.94 402.91Q332.3 401.94 331.34 400.05Q330.38 398.16 329.83 397.63Q329.28 397.1 328.67 396.01Q328.06 394.91 329.36 393.01Z" stroke="none" fill="url(#lv)" stroke-width="1"/>
<path d="M354.9 392.49Q356.16 391.15 357.9 391.16Q359.64 391.17 360.61 391.97Q361.58 392.78 362.39 391.39Q363.2 390 364.97 390.15Q366.74 390.3 368.22 391.34Q369.7 392.39 370.36 394.69Q371.01 396.99 370.6 398.79Q370.18 400.58 368.84 401.75Q367.5 402.91 365.11 403.23Q362.72 403.54 360.72 403.4Q358.72 403.25 358.2 401.73Q357.69 400.21 357.39 398.64Q357.08 397.07 355.82 396.83Q354.56 396.58 354.1 395.2Q353.65 393.82 354.9 392.49Z" stroke="none" fill="url(#lv)" stroke-width="1"/>
<path d="M228.46 408.94Q229.21 407.82 230.79 407.64Q232.38 407.46 233.03 408.19Q233.69 408.92 234.74 407.97Q235.8 407.02 237.31 407.26Q238.82 407.5 239.96 408.3Q241.1 409.11 241.38 410.56Q241.67 412.02 241.56 413.66Q241.46 415.29 240.45 416.26Q239.44 417.23 237.47 417.24Q235.5 417.24 234.07 416.81Q232.63 416.37 231.9 415.6Q231.17 414.84 230.43 413.61Q229.69 412.39 229.2 412.07Q228.72 411.76 228.21 410.91Q227.71 410.06 228.46 408.94Z" stroke="none" fill="url(#lv)" stroke-width="1"/>
<path d="M254.66 408.43Q255.51 407.18 257.12 407.24Q258.73 407.3 259.36 407.7Q259.99 408.09 261.18 407.55Q262.36 407.01 264.16 406.69Q265.95 406.38 267.06 407.53Q268.16 408.69 268.7 410.37Q269.23 412.04 268.94 413.74Q268.66 415.44 267.11 416.43Q265.57 417.42 263.84 417.68Q262.11 417.94 260.36 417.58Q258.62 417.22 257.7 416.19Q256.78 415.16 256.52 413.91Q256.25 412.66 255.31 412.19Q254.37 411.72 254.09 410.7Q253.8 409.69 254.66 408.43Z" stroke="none" fill="url(#lv)" stroke-width="1"/>
<path d="M284.09 408.48Q284.98 407.24 286.32 407.23Q287.66 407.23 288.53 407.82Q289.4 408.42 290.22 407.44Q291.04 406.45 292.32 406.67Q293.6 406.88 294.97 407.49Q296.34 408.09 296.84 410.26Q297.33 412.43 297.14 414.23Q296.94 416.03 295.9 416.8Q294.85 417.56 292.47 417.39Q290.08 417.21 288.54 417.19Q287 417.16 286.65 415.94Q286.31 414.72 285.83 413.83Q285.35 412.95 284.5 412.11Q283.64 411.28 283.42 410.5Q283.2 409.73 284.09 408.48Z" stroke="none" fill="url(#lv)" stroke-width="1"/>
<path d="M308.62 408.87Q309.71 407.69 310.72 407.51Q311.74 407.32 312.86 408.24Q313.97 409.15 314.81 408.35Q315.64 407.55 316.87 407.46Q318.1 407.37 319.07 408.2Q320.04 409.02 320.38 410.49Q320.73 411.96 320.8 413.56Q320.87 415.16 319.84 416.12Q318.81 417.08 316.68 416.94Q314.55 416.81 312.96 416.69Q311.38 416.56 311.17 415.58Q310.95 414.6 310.38 413.82Q309.8 413.03 309.04 412.51Q308.28 412 307.91 411.03Q307.54 410.06 308.62 408.87Z" stroke="none" fill="url(#lv)" stroke-width="1"/>
<path d="M331.96 408.85Q332.67 407.49 333.82 407.74Q334.97 408 335.62 408.35Q336.28 408.7 337.05 407.86Q337.82 407.02 339.48 407.2Q341.15 407.37 342.41 408.25Q343.68 409.13 343.94 410.8Q344.2 412.47 344.06 414.45Q343.92 416.42 342.64 417.28Q341.36 418.14 339.72 418.38Q338.08 418.61 336.39 418.08Q334.7 417.55 334.19 416.49Q333.67 415.44 333.29 414.59Q332.91 413.74 331.99 412.96Q331.06 412.19 331.16 411.2Q331.25 410.2 331.96 408.85Z" stroke="none" fill="url(#lv)" stroke-width="1"/>
<path d="M357.02 408.86Q358.23 407.83 359 407.69Q359.77 407.54 360.76 408.35Q361.75 409.16 362.5 408.23Q363.25 407.29 364.91 407.04Q366.58 406.79 367.75 407.82Q368.92 408.85 368.92 410.56Q368.93 412.27 368.63 413.6Q368.33 414.94 367.3 416.04Q366.27 417.14 364.38 417.05Q362.5 416.96 361.15 416.75Q359.8 416.54 359.1 415.79Q358.41 415.04 358.43 413.77Q358.44 412.5 357.44 412.12Q356.44 411.73 356.12 410.81Q355.81 409.89 357.02 408.86Z" stroke="none" fill="url(#lv)" stroke-width="1"/>
<path d="M247.19 346.3A1.5 1.5 0 0 1 250.19 346.3Q249.61 349.4 249.9 352.5A1.5 1.5 0 0 1 246.9 352.5Q246.61 349.4 247.19 346.3Z" stroke="none" fill="url(#sp)" stroke-width="1"/>
<path d="M272.57 347.55A1.55 1.55 0 0 1 275.67 347.55Q276.73 350.35 276.2 353.15A1.55 1.55 0 0 1 273.1 353.15Q273.63 350.35 272.57 347.55Z" stroke="none" fill="url(#sp)" stroke-width="1"/>
<path d="M297.41 347.35A1.85 1.85 0 0 1 301.11 347.35Q300.69 350 300.9 352.65A1.85 1.85 0 0 1 297.2 352.65Q296.99 350 297.41 347.35Z" stroke="none" fill="url(#sp)" stroke-width="1"/>
<path d="M322.58 348.45A1.85 1.85 0 0 1 326.28 348.45Q325.52 350.65 325.9 352.85A1.85 1.85 0 0 1 322.2 352.85Q321.82 350.65 322.58 348.45Z" stroke="none" fill="url(#sp)" stroke-width="1"/>
<path d="M347.25 348.45A1.85 1.85 0 0 1 350.95 348.45Q350.25 351.25 350.6 354.05A1.85 1.85 0 0 1 346.9 354.05Q346.55 351.25 347.25 348.45Z" stroke="none" fill="url(#sp)" stroke-width="1"/>
<path d="M371.53 349.15A1.25 1.25 0 0 1 374.03 349.15Q374.17 351.3 374.1 353.45A1.25 1.25 0 0 1 371.6 353.45Q371.67 351.3 371.53 349.15Z" stroke="none" fill="url(#sp)" stroke-width="1"/>
<path d="M246.59 359.5A1.7 1.7 0 0 1 249.99 359.5Q249.21 363.65 249.6 367.8A1.7 1.7 0 0 1 246.2 367.8Q245.81 363.65 246.59 359.5Z" stroke="none" fill="url(#sp)" stroke-width="1"/>
<path d="M272.56 359.65A1.85 1.85 0 0 1 276.26 359.65Q276.14 364.05 276.2 368.45A1.85 1.85 0 0 1 272.5 368.45Q272.44 364.05 272.56 359.65Z" stroke="none" fill="url(#sp)" stroke-width="1"/>
<path d="M297.42 360.35A1.85 1.85 0 0 1 301.12 360.35Q301.88 364 301.5 367.65A1.85 1.85 0 0 1 297.8 367.65Q298.18 364 297.42 360.35Z" stroke="none" fill="url(#sp)" stroke-width="1"/>
<path d="M321.94 359.25A2.15 2.15 0 0 1 326.24 359.25Q326.76 363 326.5 366.75A2.15 2.15 0 0 1 322.2 366.75Q322.46 363 321.94 359.25Z" stroke="none" fill="url(#sp)" stroke-width="1"/>
<path d="M347.61 360A2.2 2.2 0 0 1 352.01 360Q351.79 362.7 351.9 365.4A2.2 2.2 0 0 1 347.5 365.4Q347.39 362.7 347.61 360Z" stroke="none" fill="url(#sp)" stroke-width="1"/>
<path d="M372.26 360.85A1.85 1.85 0 0 1 375.96 360.85Q375.84 363.95 375.9 367.05A1.85 1.85 0 0 1 372.2 367.05Q372.14 363.95 372.26 360.85Z" stroke="none" fill="url(#sp)" stroke-width="1"/>
<path d="M246.86 376.7A1.7 1.7 0 0 1 250.26 376.7Q249.54 380.25 249.9 383.8A1.7 1.7 0 0 1 246.5 383.8Q246.14 380.25 246.86 376.7Z" stroke="none" fill="url(#sp)" stroke-width="1"/>
<path d="M273.56 377.05A2.05 2.05 0 0 1 277.66 377.05Q277.14 380.9 277.4 384.75A2.05 2.05 0 0 1 273.3 384.75Q273.04 380.9 273.56 377.05Z" stroke="none" fill="url(#sp)" stroke-width="1"/>
<path d="M299.26 376.2A1.7 1.7 0 0 1 302.66 376.2Q303.34 380.25 303 384.3A1.7 1.7 0 0 1 299.6 384.3Q299.94 380.25 299.26 376.2Z" stroke="none" fill="url(#sp)" stroke-width="1"/>
<path d="M322.68 376A2.2 2.2 0 0 1 327.08 376Q327.32 379.65 327.2 383.3A2.2 2.2 0 0 1 322.8 383.3Q322.92 379.65 322.68 376Z" stroke="none" fill="url(#sp)" stroke-width="1"/>
<path d="M347.83 376.25A1.85 1.85 0 0 1 351.53 376.25Q350.87 379.65 351.2 383.05A1.85 1.85 0 0 1 347.5 383.05Q347.17 379.65 347.83 376.25Z" stroke="none" fill="url(#sp)" stroke-width="1"/>
<path d="M372.15 376.55A2.15 2.15 0 0 1 376.45 376.55Q376.55 379.95 376.5 383.35A2.15 2.15 0 0 1 372.2 383.35Q372.25 379.95 372.15 376.55Z" stroke="none" fill="url(#sp)" stroke-width="1"/>
<path d="M245.87 393.55A1.85 1.85 0 0 1 249.57 393.55Q250.23 396.95 249.9 400.35A1.85 1.85 0 0 1 246.2 400.35Q246.53 396.95 245.87 393.55Z" stroke="none" fill="url(#sp)" stroke-width="1"/>
<path d="M273.62 393.85A2.15 2.15 0 0 1 277.92 393.85Q276.88 397.25 277.4 400.65A2.15 2.15 0 0 1 273.1 400.65Q272.58 397.25 273.62 393.85Z" stroke="none" fill="url(#sp)" stroke-width="1"/>
<path d="M299.54 393.2A1.7 1.7 0 0 1 302.94 393.2Q303.06 397.25 303 401.3A1.7 1.7 0 0 1 299.6 401.3Q299.66 397.25 299.54 393.2Z" stroke="none" fill="url(#sp)" stroke-width="1"/>
<path d="M323.27 393.85A2.15 2.15 0 0 1 327.57 393.85Q328.03 397.55 327.8 401.25A2.15 2.15 0 0 1 323.5 401.25Q323.73 397.55 323.27 393.85Z" stroke="none" fill="url(#sp)" stroke-width="1"/>
<path d="M347.91 393.1A2 2 0 0 1 351.91 393.1Q351.89 396.95 351.9 400.8A2 2 0 0 1 347.9 400.8Q347.89 396.95 347.91 393.1Z" stroke="none" fill="url(#sp)" stroke-width="1"/>
<path d="M371.36 393.25A2.15 2.15 0 0 1 375.66 393.25Q376.14 396.95 375.9 400.65A2.15 2.15 0 0 1 371.6 400.65Q371.84 396.95 371.36 393.25Z" stroke="none" fill="url(#sp)" stroke-width="1"/>
<path d="M245.62 410.25A1.85 1.85 0 0 1 249.32 410.25Q249.88 412.4 249.6 414.55A1.85 1.85 0 0 1 245.9 414.55Q246.18 412.4 245.62 410.25Z" stroke="none" fill="url(#sp)" stroke-width="1"/>
<path d="M274.49 410.35A1.35 1.35 0 0 1 277.19 410.35Q276.81 412.7 277 415.05A1.35 1.35 0 0 1 274.3 415.05Q274.11 412.7 274.49 410.35Z" stroke="none" fill="url(#sp)" stroke-width="1"/>
<path d="M300.15 409.9A1.4 1.4 0 0 1 302.95 409.9Q302.25 412.5 302.6 415.1A1.4 1.4 0 0 1 299.8 415.1Q299.45 412.5 300.15 409.9Z" stroke="none" fill="url(#sp)" stroke-width="1"/>
<path d="M323.99 409.1A2 2 0 0 1 327.99 409.1Q328.21 411.75 328.1 414.4A2 2 0 0 1 324.1 414.4Q324.21 411.75 323.99 409.1Z" stroke="none" fill="url(#sp)" stroke-width="1"/>
<path d="M346.49 410.25A1.85 1.85 0 0 1 350.19 410.25Q351.01 412.7 350.6 415.15A1.85 1.85 0 0 1 346.9 415.15Q347.31 412.7 346.49 410.25Z" stroke="none" fill="url(#sp)" stroke-width="1"/>
<path d="M370.97 409.65A1.85 1.85 0 0 1 374.67 409.65Q374.73 412.1 374.7 414.55A1.85 1.85 0 0 1 371 414.55Q371.03 412.1 370.97 409.65Z" stroke="none" fill="url(#sp)" stroke-width="1"/>
</g>
<rect x="220.2" y="340.2" width="160.2" height="82.5" fill="none" stroke="#777" stroke-width="0.6"/>
<text x="218.8" y="352.3" font-size="8.6" text-anchor="end" fill="#1a1a1a" stroke="#1a1a1a" stroke-width="0.15">Vector</text>
<text x="218.8" y="366.6" font-size="8.6" text-anchor="end" fill="#1a1a1a" stroke="#1a1a1a" stroke-width="0.15">THRAP3</text>
<text x="218.8" y="380.2" font-size="8.6" text-anchor="end" fill="#1a1a1a" stroke="#1a1a1a" stroke-width="0.15">GIT2-S</text>
<text x="217.6" y="395.7" font-size="7.1" text-anchor="end" fill="#1a1a1a" stroke="#1a1a1a" stroke-width="0.15">THRAP3</text>
<text x="217.6" y="404.2" font-size="7.1" text-anchor="end" fill="#1a1a1a" stroke="#1a1a1a" stroke-width="0.15">+shNC</text>
<text x="217.6" y="417.1" font-size="7.1" text-anchor="end" fill="#1a1a1a" stroke="#1a1a1a" stroke-width="0.15">THRAP3</text>
<text x="217.6" y="425.5" font-size="7.1" text-anchor="end" fill="#1a1a1a" stroke="#1a1a1a" stroke-width="0.15">+shGIT2-S</text>
<text x="433.5" y="310.9" font-size="10" text-anchor="middle" font-weight="bold" fill="#111" stroke="#111" stroke-width="0.15">HL-60</text>
<rect x="423.3" y="383.51" width="14.2" height="42.19" fill="#F54242"/>
<rect x="446.1" y="350.84" width="14.2" height="74.86" fill="#47E11F"/>
<rect x="468.5" y="350.84" width="14.2" height="74.86" fill="#FA55FA"/>
<rect x="490.9" y="347.53" width="14.2" height="78.17" fill="#EC9C4B"/>
<rect x="513.4" y="381.86" width="14.2" height="43.84" fill="#7CFDC5"/>
<line x1="415.7" y1="321.8" x2="415.7" y2="425.7" stroke="#333333" stroke-width="1"/>
<line x1="411.7" y1="425.7" x2="415.7" y2="425.7" stroke="#333333" stroke-width="1"/>
<text x="411.2" y="428.45" font-size="8.0" text-anchor="end" fill="#222" stroke="#222" stroke-width="0.15">0.0</text>
<line x1="411.7" y1="405.02" x2="415.7" y2="405.02" stroke="#333333" stroke-width="1"/>
<text x="411.2" y="407.77" font-size="8.0" text-anchor="end" fill="#222" stroke="#222" stroke-width="0.15">0.5</text>
<line x1="411.7" y1="384.34" x2="415.7" y2="384.34" stroke="#333333" stroke-width="1"/>
<text x="411.2" y="387.09" font-size="8.0" text-anchor="end" fill="#222" stroke="#222" stroke-width="0.15">1.0</text>
<line x1="411.7" y1="363.66" x2="415.7" y2="363.66" stroke="#333333" stroke-width="1"/>
<text x="411.2" y="366.41" font-size="8.0" text-anchor="end" fill="#222" stroke="#222" stroke-width="0.15">1.5</text>
<line x1="411.7" y1="342.98" x2="415.7" y2="342.98" stroke="#333333" stroke-width="1"/>
<text x="411.2" y="345.73" font-size="8.0" text-anchor="end" fill="#222" stroke="#222" stroke-width="0.15">2.0</text>
<line x1="411.7" y1="322.3" x2="415.7" y2="322.3" stroke="#333333" stroke-width="1"/>
<text x="411.2" y="325.05" font-size="8.0" text-anchor="end" fill="#222" stroke="#222" stroke-width="0.15">2.5</text>
<line x1="415.2" y1="425.7" x2="536.2" y2="425.7" stroke="#333333" stroke-width="1"/>
<line x1="430.4" y1="425.7" x2="430.4" y2="429.2" stroke="#666" stroke-width="1"/>
<line x1="453.2" y1="425.7" x2="453.2" y2="429.2" stroke="#666" stroke-width="1"/>
<line x1="475.6" y1="425.7" x2="475.6" y2="429.2" stroke="#666" stroke-width="1"/>
<line x1="498" y1="425.7" x2="498" y2="429.2" stroke="#666" stroke-width="1"/>
<line x1="520.5" y1="425.7" x2="520.5" y2="429.2" stroke="#666" stroke-width="1"/>
<text x="397" y="374.9" font-size="10" text-anchor="middle" fill="#1a1a1a" stroke="#1a1a1a" stroke-width="0.15" transform="rotate(-90 397 374.9)">Liver weight (g)</text>
<line x1="430.5" y1="377.4" x2="430.5" y2="387.8" stroke="#111" stroke-width="0.9"/>
<line x1="427" y1="377.4" x2="434" y2="377.4" stroke="#111" stroke-width="0.9"/>
<line x1="427" y1="387.8" x2="434" y2="387.8" stroke="#111" stroke-width="0.9"/>
<circle cx="424.8" cy="379.8" r="2.1" fill="#000"/>
<circle cx="430.5" cy="380.6" r="2.1" fill="#000"/>
<circle cx="436.6" cy="377.4" r="2.1" fill="#000"/>
<circle cx="436.6" cy="381.2" r="2.1" fill="#000"/>
<circle cx="430.5" cy="385.9" r="2.1" fill="#000"/>
<circle cx="430.5" cy="391.2" r="2.1" fill="#000"/>
<line x1="453.3" y1="342.3" x2="453.3" y2="358.4" stroke="#111" stroke-width="0.9"/>
<line x1="449.8" y1="342.3" x2="456.8" y2="342.3" stroke="#111" stroke-width="0.9"/>
<line x1="449.8" y1="358.4" x2="456.8" y2="358.4" stroke="#111" stroke-width="0.9"/>
<rect x="451.3" y="336.5" width="4" height="4" fill="#000"/>
<rect x="445" y="346.9" width="4" height="4" fill="#000"/>
<rect x="451.3" y="343.1" width="4" height="4" fill="#000"/>
<rect x="451.3" y="348.8" width="4" height="4" fill="#000"/>
<rect x="451.3" y="353.5" width="4" height="4" fill="#000"/>
<rect x="451.3" y="359.6" width="4" height="4" fill="#000"/>
<line x1="475.5" y1="341.3" x2="475.5" y2="359.7" stroke="#111" stroke-width="0.9"/>
<line x1="472" y1="341.3" x2="479" y2="341.3" stroke="#111" stroke-width="0.9"/>
<line x1="472" y1="359.7" x2="479" y2="359.7" stroke="#111" stroke-width="0.9"/>
<path d="M475.5 339L477.7 342.9L473.3 342.9Z" fill="#000"/>
<path d="M469.8 343.8L472 347.7L467.6 347.7Z" fill="#000"/>
<path d="M475.5 344.7L477.7 348.6L473.3 348.6Z" fill="#000"/>
<path d="M481.7 348.1L483.9 352L479.5 352Z" fill="#000"/>
<path d="M475.5 350.4L477.7 354.3L473.3 354.3Z" fill="#000"/>
<path d="M475.5 365.6L477.7 369.5L473.3 369.5Z" fill="#000"/>
<line x1="497.3" y1="341.3" x2="497.3" y2="354.6" stroke="#111" stroke-width="0.9"/>
<line x1="493.8" y1="341.3" x2="500.8" y2="341.3" stroke="#111" stroke-width="0.9"/>
<line x1="493.8" y1="354.6" x2="500.8" y2="354.6" stroke="#111" stroke-width="0.9"/>
<path d="M491.6 343.6L493.8 339.7L489.4 339.7Z" fill="#000"/>
<path d="M497.3 346.5L499.5 342.6L495.1 342.6Z" fill="#000"/>
<path d="M503 344.2L505.2 340.3L500.8 340.3Z" fill="#000"/>
<path d="M497.3 352.1L499.5 348.2L495.1 348.2Z" fill="#000"/>
<path d="M497.3 362L499.5 358.1L495.1 358.1Z" fill="#000"/>
<path d="M500.5 343.9L502.7 340L498.3 340Z" fill="#000"/>
<line x1="520" y1="374.5" x2="520" y2="387.8" stroke="#111" stroke-width="0.9"/>
<line x1="516.5" y1="374.5" x2="523.5" y2="374.5" stroke="#111" stroke-width="0.9"/>
<line x1="516.5" y1="387.8" x2="523.5" y2="387.8" stroke="#111" stroke-width="0.9"/>
<path d="M520 372.1L522 374.5L520 376.9L518 374.5Z" fill="#000"/>
<path d="M514.4 375L516.4 377.4L514.4 379.8L512.4 377.4Z" fill="#000"/>
<path d="M525.7 375L527.7 377.4L525.7 379.8L523.7 377.4Z" fill="#000"/>
<path d="M520 378.8L522 381.2L520 383.6L518 381.2Z" fill="#000"/>
<path d="M520 382.6L522 385L520 387.4L518 385Z" fill="#000"/>
<path d="M520 389.6L522 392L520 394.4L518 392Z" fill="#000"/>
<path d="M430.5 361.2L430.5 320.4L474.5 320.4L474.5 321.8" stroke="#333" fill="none" stroke-width="0.9"/>
<text x="452.7" y="320.7" font-size="9" text-anchor="middle" font-weight="bold" fill="#111" stroke="#111" stroke-width="0.15">***</text>
<path d="M430.5 361.2L430.5 331.3L453.6 331.3L453.6 334.7" stroke="#333" fill="none" stroke-width="0.9"/>
<text x="442.3" y="331.6" font-size="9" text-anchor="middle" font-weight="bold" fill="#111" stroke="#111" stroke-width="0.15">***</text>
<path d="M497.3 336.6L497.3 332.8L521.6 332.8L521.6 367.9" stroke="#333" fill="none" stroke-width="0.9"/>
<text x="509.6" y="331.6" font-size="9" text-anchor="middle" font-weight="bold" fill="#111" stroke="#111" stroke-width="0.15">***</text>
<text x="425.8" y="437.3" font-size="8.8" text-anchor="end" fill="#1a1a1a" stroke="#1a1a1a" stroke-width="0.15">Vector</text>
<text x="430.5" y="437.3" font-size="8.8" text-anchor="middle" fill="#1a1a1a" stroke="#1a1a1a" stroke-width="0.15">+</text>
<text x="453.3" y="437.3" font-size="8.8" text-anchor="middle" fill="#1a1a1a" stroke="#1a1a1a" stroke-width="0.15">-</text>
<text x="475.9" y="437.3" font-size="8.8" text-anchor="middle" fill="#1a1a1a" stroke="#1a1a1a" stroke-width="0.15">-</text>
<text x="498.4" y="437.3" font-size="8.8" text-anchor="middle" fill="#1a1a1a" stroke="#1a1a1a" stroke-width="0.15">-</text>
<text x="520.1" y="437.3" font-size="8.8" text-anchor="middle" fill="#1a1a1a" stroke="#1a1a1a" stroke-width="0.15">-</text>
<text x="425.8" y="445.2" font-size="8.8" text-anchor="end" fill="#1a1a1a" stroke="#1a1a1a" stroke-width="0.15">THRAP3</text>
<text x="430.5" y="445.2" font-size="8.8" text-anchor="middle" fill="#1a1a1a" stroke="#1a1a1a" stroke-width="0.15">-</text>
<text x="453.3" y="445.2" font-size="8.8" text-anchor="middle" fill="#1a1a1a" stroke="#1a1a1a" stroke-width="0.15">+</text>
<text x="475.9" y="445.2" font-size="8.8" text-anchor="middle" fill="#1a1a1a" stroke="#1a1a1a" stroke-width="0.15">-</text>
<text x="498.4" y="445.2" font-size="8.8" text-anchor="middle" fill="#1a1a1a" stroke="#1a1a1a" stroke-width="0.15">+</text>
<text x="520.1" y="445.2" font-size="8.8" text-anchor="middle" fill="#1a1a1a" stroke="#1a1a1a" stroke-width="0.15">+</text>
<text x="425.8" y="453.9" font-size="8.8" text-anchor="end" fill="#1a1a1a" stroke="#1a1a1a" stroke-width="0.15">GIT2-S</text>
<text x="430.5" y="453.9" font-size="8.8" text-anchor="middle" fill="#1a1a1a" stroke="#1a1a1a" stroke-width="0.15">-</text>
<text x="453.3" y="453.9" font-size="8.8" text-anchor="middle" fill="#1a1a1a" stroke="#1a1a1a" stroke-width="0.15">-</text>
<text x="475.9" y="453.9" font-size="8.8" text-anchor="middle" fill="#1a1a1a" stroke="#1a1a1a" stroke-width="0.15">+</text>
<text x="498.4" y="453.9" font-size="8.8" text-anchor="middle" fill="#1a1a1a" stroke="#1a1a1a" stroke-width="0.15">-</text>
<text x="520.1" y="453.9" font-size="8.8" text-anchor="middle" fill="#1a1a1a" stroke="#1a1a1a" stroke-width="0.15">-</text>
<text x="425.8" y="462.5" font-size="8.8" text-anchor="end" fill="#1a1a1a" stroke="#1a1a1a" stroke-width="0.15">shNC</text>
<text x="430.5" y="462.5" font-size="8.8" text-anchor="middle" fill="#1a1a1a" stroke="#1a1a1a" stroke-width="0.15">-</text>
<text x="453.3" y="462.5" font-size="8.8" text-anchor="middle" fill="#1a1a1a" stroke="#1a1a1a" stroke-width="0.15">-</text>
<text x="475.9" y="462.5" font-size="8.8" text-anchor="middle" fill="#1a1a1a" stroke="#1a1a1a" stroke-width="0.15">-</text>
<text x="498.4" y="462.5" font-size="8.8" text-anchor="middle" fill="#1a1a1a" stroke="#1a1a1a" stroke-width="0.15">+</text>
<text x="520.1" y="462.5" font-size="8.8" text-anchor="middle" fill="#1a1a1a" stroke="#1a1a1a" stroke-width="0.15">-</text>
<text x="425.8" y="470.8" font-size="8.8" text-anchor="end" fill="#1a1a1a" stroke="#1a1a1a" stroke-width="0.15">shGIT2-S</text>
<text x="430.5" y="470.8" font-size="8.8" text-anchor="middle" fill="#1a1a1a" stroke="#1a1a1a" stroke-width="0.15">-</text>
<text x="453.3" y="470.8" font-size="8.8" text-anchor="middle" fill="#1a1a1a" stroke="#1a1a1a" stroke-width="0.15">-</text>
<text x="475.9" y="470.8" font-size="8.8" text-anchor="middle" fill="#1a1a1a" stroke="#1a1a1a" stroke-width="0.15">-</text>
<text x="498.4" y="470.8" font-size="8.8" text-anchor="middle" fill="#1a1a1a" stroke="#1a1a1a" stroke-width="0.15">-</text>
<text x="520.1" y="470.8" font-size="8.8" text-anchor="middle" fill="#1a1a1a" stroke="#1a1a1a" stroke-width="0.15">+</text>
<text x="582.9" y="310.9" font-size="10" text-anchor="middle" font-weight="bold" fill="#111" stroke="#111" stroke-width="0.15">HL-60</text>
<rect x="570.9" y="378.67" width="14.2" height="47.03" fill="#F54242"/>
<rect x="593.2" y="356.73" width="14.2" height="68.97" fill="#47E11F"/>
<rect x="615.9" y="354.97" width="14.2" height="70.73" fill="#FA55FA"/>
<rect x="638.3" y="353.75" width="14.2" height="71.96" fill="#EC9C4B"/>
<rect x="661" y="374.98" width="14.2" height="50.72" fill="#7CFDC5"/>
<line x1="562.6" y1="319.9" x2="562.6" y2="425.7" stroke="#333333" stroke-width="1"/>
<line x1="558.6" y1="425.7" x2="562.6" y2="425.7" stroke="#333333" stroke-width="1"/>
<text x="558.1" y="428.45" font-size="8.0" text-anchor="end" fill="#222" stroke="#222" stroke-width="0.15">0.0</text>
<line x1="558.6" y1="390.6" x2="562.6" y2="390.6" stroke="#333333" stroke-width="1"/>
<text x="558.1" y="393.35" font-size="8.0" text-anchor="end" fill="#222" stroke="#222" stroke-width="0.15">0.2</text>
<line x1="558.6" y1="355.5" x2="562.6" y2="355.5" stroke="#333333" stroke-width="1"/>
<text x="558.1" y="358.25" font-size="8.0" text-anchor="end" fill="#222" stroke="#222" stroke-width="0.15">0.4</text>
<line x1="558.6" y1="320.4" x2="562.6" y2="320.4" stroke="#333333" stroke-width="1"/>
<text x="558.1" y="323.15" font-size="8.0" text-anchor="end" fill="#222" stroke="#222" stroke-width="0.15">0.6</text>
<line x1="562.1" y1="425.7" x2="683.1" y2="425.7" stroke="#333333" stroke-width="1"/>
<line x1="578" y1="425.7" x2="578" y2="429.2" stroke="#666" stroke-width="1"/>
<line x1="600.3" y1="425.7" x2="600.3" y2="429.2" stroke="#666" stroke-width="1"/>
<line x1="623" y1="425.7" x2="623" y2="429.2" stroke="#666" stroke-width="1"/>
<line x1="645.4" y1="425.7" x2="645.4" y2="429.2" stroke="#666" stroke-width="1"/>
<line x1="668.1" y1="425.7" x2="668.1" y2="429.2" stroke="#666" stroke-width="1"/>
<text x="545.2" y="370.3" font-size="10" text-anchor="middle" fill="#1a1a1a" stroke="#1a1a1a" stroke-width="0.15" transform="rotate(-90 545.2 370.3)">Spleen weight (g)</text>
<line x1="577.8" y1="365.6" x2="577.8" y2="392" stroke="#111" stroke-width="0.9"/>
<line x1="574.3" y1="365.6" x2="581.3" y2="365.6" stroke="#111" stroke-width="0.9"/>
<line x1="574.3" y1="392" x2="581.3" y2="392" stroke="#111" stroke-width="0.9"/>
<circle cx="577.8" cy="359.7" r="2.1" fill="#000"/>
<circle cx="572.1" cy="370.3" r="2.1" fill="#000"/>
<circle cx="583.5" cy="371.7" r="2.1" fill="#000"/>
<circle cx="577.8" cy="387.4" r="2.1" fill="#000"/>
<circle cx="583.5" cy="389.3" r="2.1" fill="#000"/>
<circle cx="572.1" cy="393.1" r="2.1" fill="#000"/>
<line x1="600.2" y1="345.5" x2="600.2" y2="366.9" stroke="#111" stroke-width="0.9"/>
<line x1="596.7" y1="345.5" x2="603.7" y2="345.5" stroke="#111" stroke-width="0.9"/>
<line x1="596.7" y1="366.9" x2="603.7" y2="366.9" stroke="#111" stroke-width="0.9"/>
<rect x="598.2" y="334.9" width="4" height="4" fill="#000"/>
<rect x="592.8" y="355.4" width="4" height="4" fill="#000"/>
<rect x="598.2" y="350.1" width="4" height="4" fill="#000"/>
<rect x="603.9" y="357.7" width="4" height="4" fill="#000"/>
<rect x="598.2" y="361.1" width="4" height="4" fill="#000"/>
<rect x="598.2" y="365.9" width="4" height="4" fill="#000"/>
<line x1="622.9" y1="341.3" x2="622.9" y2="367.3" stroke="#111" stroke-width="0.9"/>
<line x1="619.4" y1="341.3" x2="626.4" y2="341.3" stroke="#111" stroke-width="0.9"/>
<line x1="619.4" y1="367.3" x2="626.4" y2="367.3" stroke="#111" stroke-width="0.9"/>
<path d="M622.9 331.4L625.1 335.3L620.7 335.3Z" fill="#000"/>
<path d="M622.9 345.7L625.1 349.6L620.7 349.6Z" fill="#000"/>
<path d="M622.9 351.3L625.1 355.2L620.7 355.2Z" fill="#000"/>
<path d="M628.6 358L630.8 361.9L626.4 361.9Z" fill="#000"/>
<path d="M622.9 364.6L625.1 368.5L620.7 368.5Z" fill="#000"/>
<path d="M622.9 368.4L625.1 372.3L620.7 372.3Z" fill="#000"/>
<line x1="645.7" y1="345.5" x2="645.7" y2="360.9" stroke="#111" stroke-width="0.9"/>
<line x1="642.2" y1="345.5" x2="649.2" y2="345.5" stroke="#111" stroke-width="0.9"/>
<line x1="642.2" y1="360.9" x2="649.2" y2="360.9" stroke="#111" stroke-width="0.9"/>
<path d="M640 346.5L642.2 342.6L637.8 342.6Z" fill="#000"/>
<path d="M645.7 344.9L647.9 341L643.5 341Z" fill="#000"/>
<path d="M640 364.5L642.2 360.6L637.8 360.6Z" fill="#000"/>
<path d="M651.4 355.6L653.6 351.7L649.2 351.7Z" fill="#000"/>
<path d="M651.4 363.2L653.6 359.3L649.2 359.3Z" fill="#000"/>
<path d="M645.7 354L647.9 350.1L643.5 350.1Z" fill="#000"/>
<line x1="668.5" y1="363.7" x2="668.5" y2="384.4" stroke="#111" stroke-width="0.9"/>
<line x1="665" y1="363.7" x2="672" y2="363.7" stroke="#111" stroke-width="0.9"/>
<line x1="665" y1="384.4" x2="672" y2="384.4" stroke="#111" stroke-width="0.9"/>
<path d="M668.5 360.4L670.5 362.8L668.5 365.2L666.5 362.8Z" fill="#000"/>
<path d="M674.2 357.3L676.2 359.7L674.2 362.1L672.2 359.7Z" fill="#000"/>
<path d="M662.8 374.4L664.8 376.8L662.8 379.2L660.8 376.8Z" fill="#000"/>
<path d="M668.5 378.2L670.5 380.6L668.5 383L666.5 380.6Z" fill="#000"/>
<path d="M674.2 375.9L676.2 378.3L674.2 380.7L672.2 378.3Z" fill="#000"/>
<path d="M668.5 383.1L670.5 385.5L668.5 387.9L666.5 385.5Z" fill="#000"/>
<path d="M577.4 347L577.4 318.5L621 318.5L621 319.9" stroke="#333" fill="none" stroke-width="0.9"/>
<text x="599.1" y="320.1" font-size="10" text-anchor="middle" font-weight="bold" fill="#111" stroke="#111" stroke-width="0.15">*</text>
<path d="M577.4 347L577.4 329.5L600 329.5L600 331.3" stroke="#333" fill="none" stroke-width="0.9"/>
<text x="588.9" y="330.3" font-size="10" text-anchor="middle" font-weight="bold" fill="#111" stroke="#111" stroke-width="0.15">*</text>
<path d="M645.5 335.6L645.5 332.4L668.3 332.4L668.3 355.5" stroke="#333" fill="none" stroke-width="0.9"/>
<text x="656" y="333.1" font-size="10" text-anchor="middle" font-weight="bold" fill="#111" stroke="#111" stroke-width="0.15">*</text>
<text x="573.8" y="437.3" font-size="8.8" text-anchor="end" fill="#1a1a1a" stroke="#1a1a1a" stroke-width="0.15">Vector</text>
<text x="578.2" y="437.3" font-size="8.8" text-anchor="middle" fill="#1a1a1a" stroke="#1a1a1a" stroke-width="0.15">+</text>
<text x="600.5" y="437.3" font-size="8.8" text-anchor="middle" fill="#1a1a1a" stroke="#1a1a1a" stroke-width="0.15">-</text>
<text x="623" y="437.3" font-size="8.8" text-anchor="middle" fill="#1a1a1a" stroke="#1a1a1a" stroke-width="0.15">-</text>
<text x="645.5" y="437.3" font-size="8.8" text-anchor="middle" fill="#1a1a1a" stroke="#1a1a1a" stroke-width="0.15">-</text>
<text x="668" y="437.3" font-size="8.8" text-anchor="middle" fill="#1a1a1a" stroke="#1a1a1a" stroke-width="0.15">-</text>
<text x="573.8" y="445.2" font-size="8.8" text-anchor="end" fill="#1a1a1a" stroke="#1a1a1a" stroke-width="0.15">THRAP3</text>
<text x="578.2" y="445.2" font-size="8.8" text-anchor="middle" fill="#1a1a1a" stroke="#1a1a1a" stroke-width="0.15">-</text>
<text x="600.5" y="445.2" font-size="8.8" text-anchor="middle" fill="#1a1a1a" stroke="#1a1a1a" stroke-width="0.15">+</text>
<text x="623" y="445.2" font-size="8.8" text-anchor="middle" fill="#1a1a1a" stroke="#1a1a1a" stroke-width="0.15">-</text>
<text x="645.5" y="445.2" font-size="8.8" text-anchor="middle" fill="#1a1a1a" stroke="#1a1a1a" stroke-width="0.15">+</text>
<text x="668" y="445.2" font-size="8.8" text-anchor="middle" fill="#1a1a1a" stroke="#1a1a1a" stroke-width="0.15">+</text>
<text x="573.8" y="453.9" font-size="8.8" text-anchor="end" fill="#1a1a1a" stroke="#1a1a1a" stroke-width="0.15">GIT2-S</text>
<text x="578.2" y="453.9" font-size="8.8" text-anchor="middle" fill="#1a1a1a" stroke="#1a1a1a" stroke-width="0.15">-</text>
<text x="600.5" y="453.9" font-size="8.8" text-anchor="middle" fill="#1a1a1a" stroke="#1a1a1a" stroke-width="0.15">-</text>
<text x="623" y="453.9" font-size="8.8" text-anchor="middle" fill="#1a1a1a" stroke="#1a1a1a" stroke-width="0.15">+</text>
<text x="645.5" y="453.9" font-size="8.8" text-anchor="middle" fill="#1a1a1a" stroke="#1a1a1a" stroke-width="0.15">-</text>
<text x="668" y="453.9" font-size="8.8" text-anchor="middle" fill="#1a1a1a" stroke="#1a1a1a" stroke-width="0.15">-</text>
<text x="573.8" y="462.5" font-size="8.8" text-anchor="end" fill="#1a1a1a" stroke="#1a1a1a" stroke-width="0.15">shNC</text>
<text x="578.2" y="462.5" font-size="8.8" text-anchor="middle" fill="#1a1a1a" stroke="#1a1a1a" stroke-width="0.15">-</text>
<text x="600.5" y="462.5" font-size="8.8" text-anchor="middle" fill="#1a1a1a" stroke="#1a1a1a" stroke-width="0.15">-</text>
<text x="623" y="462.5" font-size="8.8" text-anchor="middle" fill="#1a1a1a" stroke="#1a1a1a" stroke-width="0.15">-</text>
<text x="645.5" y="462.5" font-size="8.8" text-anchor="middle" fill="#1a1a1a" stroke="#1a1a1a" stroke-width="0.15">+</text>
<text x="668" y="462.5" font-size="8.8" text-anchor="middle" fill="#1a1a1a" stroke="#1a1a1a" stroke-width="0.15">-</text>
<text x="573.8" y="470.8" font-size="8.8" text-anchor="end" fill="#1a1a1a" stroke="#1a1a1a" stroke-width="0.15">shGIT2-S</text>
<text x="578.2" y="470.8" font-size="8.8" text-anchor="middle" fill="#1a1a1a" stroke="#1a1a1a" stroke-width="0.15">-</text>
<text x="600.5" y="470.8" font-size="8.8" text-anchor="middle" fill="#1a1a1a" stroke="#1a1a1a" stroke-width="0.15">-</text>
<text x="623" y="470.8" font-size="8.8" text-anchor="middle" fill="#1a1a1a" stroke="#1a1a1a" stroke-width="0.15">-</text>
<text x="645.5" y="470.8" font-size="8.8" text-anchor="middle" fill="#1a1a1a" stroke="#1a1a1a" stroke-width="0.15">-</text>
<text x="668" y="470.8" font-size="8.8" text-anchor="middle" fill="#1a1a1a" stroke="#1a1a1a" stroke-width="0.15">+</text>
<text x="71.75" y="517.2" font-size="9.9" text-anchor="middle" fill="#1a1a1a" stroke="#1a1a1a" stroke-width="0.15">Vector</text>
<text x="155.2" y="517.2" font-size="9.9" text-anchor="middle" fill="#1a1a1a" stroke="#1a1a1a" stroke-width="0.15">THRAP3</text>
<text x="234" y="517.2" font-size="9.9" text-anchor="middle" fill="#1a1a1a" stroke="#1a1a1a" stroke-width="0.15">GIT2-S</text>
<text x="314.2" y="517.2" font-size="9.9" text-anchor="middle" fill="#1a1a1a" stroke="#1a1a1a" stroke-width="0.15">THRAP3+shNC</text>
<text x="402.9" y="517.2" font-size="9.9" text-anchor="middle" fill="#1a1a1a" stroke="#1a1a1a" stroke-width="0.15">THRAP3+shGIT2-S</text>
<text x="24.1" y="558.6" font-size="9.6" text-anchor="middle" fill="#1a1a1a" stroke="#1a1a1a" stroke-width="0.15" transform="rotate(-90 24.1 558.6)">Liver</text>
<text x="22.8" y="626.5" font-size="9.6" text-anchor="middle" fill="#1a1a1a" stroke="#1a1a1a" stroke-width="0.15" transform="rotate(-90 22.8 626.5)">Spleen</text>
<text x="17.9" y="656.5" font-size="9.8" text-anchor="middle" fill="#1a1a1a" stroke="#1a1a1a" stroke-width="0.15" transform="rotate(-90 17.9 656.5)">Ki67</text>
<path d="M22.8 672.2L22.8 686.9L39 686.9" stroke="#111" fill="none" stroke-width="1"/>
<path d="M22.8 668.6L20.6 673.2L25 673.2Z" stroke="none" fill="#111" stroke-width="1"/>
<path d="M43.6 686.9L38.8 684.7L38.8 689.1Z" stroke="none" fill="#111" stroke-width="1"/>
<text x="49" y="695.2" font-size="9.6" fill="#1a1a1a" stroke="#1a1a1a" stroke-width="0.15">CD45</text>
<defs><filter id="b1" x="-30%" y="-30%" width="160%" height="160%"><feGaussianBlur stdDeviation="0.9"/></filter><filter id="b2" x="-30%" y="-30%" width="160%" height="160%"><feGaussianBlur stdDeviation="1.8"/></filter></defs>
<clipPath id="fc1"><rect x="36.1" y="525" width="65.5" height="65.0"/></clipPath>
<g clip-path="url(#fc1)"><g transform="translate(36.1 525)">
<ellipse cx="17" cy="50" rx="15" ry="9" fill="#ff1010" opacity="0.2" filter="url(#b2)" transform="rotate(-15 17 50)"/>
<ellipse cx="18" cy="49.3" rx="10.5" ry="5.5" fill="#ff1010" opacity="0.92" filter="url(#b1)" transform="rotate(-18 18 49.3)"/>
<path d="M34.54 45.54L37.04 43.04L39.54 40.54L42.04 38.04L44.54 35.54L47.04 33.04L49.54 30.54L52.04 28.04L54.54 25.54L57.04 23.04L59.54 20.54L62.04 18.04L64.54 15.54L57.46 8.46L54.96 10.96L52.46 13.46L49.96 15.96L47.46 18.46L44.96 20.96L42.46 23.46L39.96 25.96L37.46 28.46L34.96 30.96L32.46 33.46L29.96 35.96L27.46 38.46Z" fill="#ff1010" opacity="0.07" filter="url(#b2)"/>
<ellipse cx="55" cy="15.5" rx="6" ry="4" fill="#ff1010" opacity="0.33" filter="url(#b2)" transform="rotate(-30 55 15.5)"/>
<path d="M0.5 64.4L19 64.4" stroke="#ff1010" stroke-width="0.8" opacity="0.6"/>
<path transform="scale(.25)" d="M147 197h3M64 235h3M59 250h3M66 195h3M55 205h3M52 232h3M81 194h3M90 211h3M31 241h3M38 239h3M51 217h3M92 172h3M81 155h3M20 243h3M23 224h3M93 168h3M132 169h3M64 189h3M28 166h3M116 194h3M50 184h3M97 184h3M139 201h3M94 190h3M75 213h3M102 202h3M41 208h3M61 203h3M56 253h3M58 198h3M58 246h3M54 179h3M57 223h3M73 203h3M66 181h3M63 130h3M138 224h3M117 161h3M59 206h3M16 215h3M63 209h3M70 193h3M103 150h3M29 234h3M71 175h3M75 204h3M26 243h3M92 188h3M96 184h3M113 182h3M78 147h3M80 177h3M66 173h3M112 157h3M33 214h3M60 194h3M95 236h3M11 255h3M111 138h3M35 212h3M58 176h3M163 189h3M34 213h3M52 229h3M136 190h3M27 231h3M48 197h3M73 131h3M79 165h3M87 172h3M80 183h3M118 159h3M122 229h3M92 189h3M48 240h3M35 200h3M89 162h3M96 157h3M149 190h3M34 252h3M28 167h3M42 184h3M105 197h3M30 205h3M53 167h3M54 235h3M58 204h3M132 218h3M29 219h3M63 170h3M76 185h3M114 225h3M5 180h3M112 176h3M91 210h3M112 216h3M77 220h3M102 187h3M70 200h3M66 200h3M143 174h3M155 151h3M64 192h3M159 211h3M108 204h3M59 211h3M98 212h3M102 237h3M59 183h3M98 197h3M78 211h3M11 248h3M84 223h3M70 177h3M137 145h3M18 206h3M58 159h3M57 233h3M60 192h3M136 172h3M78 173h3M59 244h3M76 205h3M98 181h3M30 227h3M56 201h3M138 197h3M113 223h3M64 194h3M51 218h3M65 214h3M10 246h3M112 204h3M83 197h3M70 182h3M15 222h3M31 182h3M94 211h3M79 199h3M51 219h3M86 181h3M103 169h3M33 185h3M53 234h3M30 204h3M17 207h3M90 146h3M89 193h3M59 109h3M27 248h3M22 206h3M65 201h3M41 169h3M66 171h3M42 223h3M94 187h3M147 190h3M142 214h3M141 198h3M58 152h3M101 165h3M44 176h3M101 167h3M38 152h3M33 154h3M36 189h3M94 177h3M83 210h3M74 190h3M29 249h3M62 153h3M132 189h3M61 195h3M70 173h3M69 220h3M8 245h3M19 248h3M64 190h3M131 183h3M22 218h3M38 209h3M73 226h3M36 149h3M71 219h3M62 246h3M133 182h3M68 228h3M72 154h3M134 173h3M130 142h3M3 226h3M55 217h3M108 152h3M4 194h3M25 196h3M10 214h3M21 216h3M78 207h3M124 193h3M131 177h3M60 166h3M77 242h3M55 210h3M80 187h3M53 167h3M86 196h3M45 230h3M77 182h3M82 192h3M140 203h3M90 224h3M96 186h3M51 193h3M98 204h3M23 218h3M104 222h3M94 204h3M26 211h3M43 219h3M64 219h3M33 179h3M111 185h3M73 190h3M132 215h3M115 174h3M78 226h3M51 170h3M27 209h3M41 236h3M32 203h3M91 225h3M17 159h3M72 200h3M77 202h3M46 202h3M50 164h3M134 200h3M121 123h3M41 233h3M62 210h3M59 229h3M55 197h3M126 155h3M213 68h3M210 61h3M233 63h3M215 65h3M218 43h3M226 55h3M246 57h3M191 84h3M209 57h3M236 64h3M235 63h3M216 74h3M226 81h3M217 60h3M226 68h3M210 65h3M217 79h3M210 85h3M218 71h3M247 58h3M201 63h3M239 60h3M244 33h3M237 83h3M209 48h3M231 20h3M228 76h3M197 64h3M229 65h3M242 32h3M212 68h3M224 51h3M209 77h3M205 66h3M237 73h3M213 56h3M237 70h3M240 50h3M206 78h3M201 51h3M211 43h3M208 52h3M211 63h3M226 54h3M248 33h3M213 69h3M208 50h3M215 49h3M238 64h3M250 34h3M206 80h3M199 83h3M233 76h3M232 61h3M175 62h3M208 60h3M234 48h3M220 79h3M231 61h3M221 55h3M234 60h3M226 54h3M229 65h3M242 52h3M219 78h3M225 64h3M245 61h3M213 66h3M220 72h3M209 66h3M211 76h3M254 45h3M228 56h3M248 40h3M231 52h3M226 65h3M204 40h3M233 72h3M207 37h3M235 51h3M206 65h3M229 67h3M230 59h3M218 63h3M219 64h3M236 66h3M244 80h3M222 66h3M222 88h3M117 148h3M233 52h3M225 59h3M160 92h3M144 107h3M193 110h3M191 115h3M152 120h3M159 173h3M223 93h3M237 67h3M210 98h3M163 138h3M186 125h3M158 157h3M237 56h3M127 111h3M164 124h3M191 79h3M197 64h3M186 121h3M117 128h3M184 129h3M214 62h3M142 118h3M162 108h3M187 165h3M187 143h3M160 124h3M195 124h3M246 91h3M211 59h3M141 143h3M164 151h3M170 132h3M201 81h3M233 101h3M219 86h3M160 152h3M182 172h3M249 56h3M229 132h3M219 80h3M146 141h3M200 95h3M171 144h3M191 118h3M182 120h3M208 45h3M153 111h3M209 76h3M170 140h3M215 114h3M195 34h3M150 138h3M168 112h3M240 49h3M226 71h3M219 51h3M179 78h3M182 136h3M151 161h3M222 59h3M136 152h3M227 47h3M217 38h3M246 62h3M209 66h3M189 74h3M163 113h3M245 89h3M199 104h3M188 109h3M141 153h3M149 165h3M214 96h3M123 134h3M205 80h3M167 107h3M142 155h3M190 100h3M193 47h3M257 64h3M157 141h3M148 98h3M197 124h3M184 111h3M158 145h3M164 128h3M136 159h3M186 92h3M221 26h3M130 145h3M212 83h3M187 105h3M171 137h3M162 126h3M213 20h3M146 164h3M183 86h3M170 85h3M232 50h3M130 125h3M131 168h3M218 49h3M187 153h3M169 115h3M130 146h3M142 131h3M119 249h3M104 90h3M84 16h3M36 60h3M130 19h3M97 254h3M99 80h3M207 43h3M14 26h3M50 214h3" stroke="#ff2020" stroke-width="3" fill="none" opacity=".75"/>
</g></g>
<rect x="36.1" y="525" width="65.5" height="65.0" fill="none" stroke="#7a7a7a" stroke-width="0.8"/>
<line x1="68.9" y1="525" x2="68.9" y2="590" stroke="#6a6a6a" stroke-width="0.8"/>
<line x1="36.1" y1="563.5" x2="101.6" y2="563.5" stroke="#6a6a6a" stroke-width="0.8"/>
<line x1="34.3" y1="590" x2="36.1" y2="590" stroke="#888" stroke-width="0.6"/>
<text x="33.7" y="590" font-size="3.2" text-anchor="middle" fill="#888" transform="rotate(-90 33.7 590)">10</text>
<line x1="36.1" y1="590" x2="36.1" y2="591.8" stroke="#888" stroke-width="0.6"/>
<text x="36.1" y="594.8" font-size="3.2" text-anchor="middle" fill="#888">10</text>
<line x1="34.3" y1="573.75" x2="36.1" y2="573.75" stroke="#888" stroke-width="0.6"/>
<text x="33.7" y="573.75" font-size="3.2" text-anchor="middle" fill="#888" transform="rotate(-90 33.7 573.75)">10</text>
<line x1="52.48" y1="590" x2="52.48" y2="591.8" stroke="#888" stroke-width="0.6"/>
<text x="52.48" y="594.8" font-size="3.2" text-anchor="middle" fill="#888">10</text>
<line x1="34.3" y1="557.5" x2="36.1" y2="557.5" stroke="#888" stroke-width="0.6"/>
<text x="33.7" y="557.5" font-size="3.2" text-anchor="middle" fill="#888" transform="rotate(-90 33.7 557.5)">10</text>
<line x1="68.85" y1="590" x2="68.85" y2="591.8" stroke="#888" stroke-width="0.6"/>
<text x="68.85" y="594.8" font-size="3.2" text-anchor="middle" fill="#888">10</text>
<line x1="34.3" y1="541.25" x2="36.1" y2="541.25" stroke="#888" stroke-width="0.6"/>
<text x="33.7" y="541.25" font-size="3.2" text-anchor="middle" fill="#888" transform="rotate(-90 33.7 541.25)">10</text>
<line x1="85.22" y1="590" x2="85.22" y2="591.8" stroke="#888" stroke-width="0.6"/>
<text x="85.22" y="594.8" font-size="3.2" text-anchor="middle" fill="#888">10</text>
<line x1="34.3" y1="525" x2="36.1" y2="525" stroke="#888" stroke-width="0.6"/>
<text x="33.7" y="525" font-size="3.2" text-anchor="middle" fill="#888" transform="rotate(-90 33.7 525)">10</text>
<line x1="101.6" y1="590" x2="101.6" y2="591.8" stroke="#888" stroke-width="0.6"/>
<text x="101.6" y="594.8" font-size="3.2" text-anchor="middle" fill="#888">10</text>
<path d="M36.1 585.12h1M41.01 590v-1M36.1 582.2h1M43.96 590v-1M36.1 580.25h1M45.92 590v-1M36.1 578.62h1M47.56 590v-1M36.1 577.33h1M48.87 590v-1M36.1 576.19h1M50.02 590v-1M36.1 575.38h1M50.84 590v-1M36.1 574.56h1M51.66 590v-1M36.1 568.88h1M57.39 590v-1M36.1 565.95h1M60.34 590v-1M36.1 564h1M62.3 590v-1M36.1 562.38h1M63.94 590v-1M36.1 561.08h1M65.25 590v-1M36.1 559.94h1M66.39 590v-1M36.1 559.12h1M67.21 590v-1M36.1 558.31h1M68.03 590v-1M36.1 552.62h1M73.76 590v-1M36.1 549.7h1M76.71 590v-1M36.1 547.75h1M78.67 590v-1M36.1 546.12h1M80.31 590v-1M36.1 544.83h1M81.62 590v-1M36.1 543.69h1M82.77 590v-1M36.1 542.88h1M83.59 590v-1M36.1 542.06h1M84.41 590v-1M36.1 536.38h1M90.14 590v-1M36.1 533.45h1M93.08 590v-1M36.1 531.5h1M95.05 590v-1M36.1 529.88h1M96.69 590v-1M36.1 528.58h1M98 590v-1M36.1 527.44h1M99.14 590v-1M36.1 526.62h1M99.96 590v-1M36.1 525.81h1M100.78 590v-1" stroke="#999" fill="none" stroke-width="0.45"/>
<text x="100.3" y="534.3" font-size="8.7" text-anchor="end" fill="#1a1a1a" stroke="#1a1a1a" stroke-width="0.15">13.26%</text>
<clipPath id="fc2"><rect x="118.6" y="525" width="65.5" height="65.0"/></clipPath>
<g clip-path="url(#fc2)"><g transform="translate(118.6 525)">
<ellipse cx="23.5" cy="46.5" rx="11" ry="6.5" fill="#ff1010" opacity="0.18" filter="url(#b2)" transform="rotate(-38 23.5 46.5)"/>
<ellipse cx="24" cy="46" rx="7.5" ry="4" fill="#ff1010" opacity="0.92" filter="url(#b1)" transform="rotate(-38 24 46)"/>
<path d="M37.12 34.53L40.24 33.69L43.24 32.71L46.05 31.53L48.66 30.11L51.03 28.42L53.16 26.46L55.04 24.22L56.69 21.72L58.14 19L59.44 16.09L60.62 13.06L61.74 9.97L58.26 6.03L55.05 6.77L51.9 7.57L48.86 8.5L45.98 9.61L43.3 10.95L40.84 12.54L38.64 14.41L36.67 16.56L34.95 18.97L33.43 21.63L32.09 24.48L30.88 27.47Z" fill="#ff1010" opacity="0.13" filter="url(#b2)"/>
<ellipse cx="54" cy="10.5" rx="6" ry="3" fill="#ff1010" opacity="0.15" filter="url(#b2)" transform="rotate(-30 54 10.5)"/>
<path d="M49 36.5L65.5 21" stroke="#ff1010" stroke-width="1.1" opacity="0.9"/>
<path transform="scale(.25)" d="M117 164h3M104 187h3M61 207h3M62 238h3M147 131h3M106 176h3M57 221h3M108 194h3M105 162h3M96 180h3M38 211h3M127 130h3M123 189h3M96 196h3M97 150h3M79 176h3M94 200h3M112 159h3M34 210h3M136 183h3M101 170h3M112 164h3M126 175h3M128 143h3M134 156h3M121 169h3M95 203h3M106 160h3M96 209h3M76 208h3M128 201h3M108 180h3M122 153h3M36 220h3M100 156h3M114 171h3M99 181h3M145 167h3M76 203h3M96 165h3M99 206h3M92 178h3M75 207h3M110 207h3M129 188h3M92 171h3M105 175h3M92 218h3M149 166h3M85 205h3M108 196h3M88 141h3M89 183h3M101 148h3M95 170h3M136 144h3M116 179h3M120 192h3M85 210h3M112 178h3M119 158h3M122 193h3M76 205h3M63 169h3M90 187h3M103 190h3M50 197h3M147 149h3M111 206h3M96 177h3M84 191h3M95 183h3M134 131h3M67 195h3M72 179h3M66 199h3M73 182h3M146 166h3M78 193h3M94 204h3M36 201h3M86 189h3M108 186h3M91 202h3M79 182h3M115 165h3M110 174h3M89 180h3M71 192h3M63 220h3M125 132h3M36 187h3M107 163h3M94 191h3M52 164h3M133 184h3M78 199h3M134 166h3M60 191h3M108 172h3M149 183h3M92 228h3M156 150h3M115 162h3M39 225h3M146 174h3M136 135h3M79 174h3M89 185h3M115 188h3M36 205h3M104 185h3M124 169h3M83 195h3M122 158h3M162 152h3M52 230h3M33 197h3M96 219h3M117 176h3M109 179h3M68 195h3M63 201h3M49 161h3M136 145h3M78 209h3M87 202h3M112 153h3M62 153h3M57 185h3M128 149h3M118 194h3M60 172h3M86 190h3M126 172h3M93 198h3M101 175h3M87 124h3M128 171h3M50 220h3M89 199h3M77 175h3M93 173h3M132 188h3M124 157h3M84 191h3M60 193h3M115 196h3M63 170h3M134 140h3M110 181h3M97 180h3M132 175h3M85 201h3M104 209h3M90 182h3M112 167h3M133 160h3M97 141h3M132 187h3M227 77h3M195 127h3M209 73h3M224 77h3M152 127h3M212 85h3M166 47h3M169 85h3M145 103h3M138 102h3M212 55h3M223 126h3M239 54h3M167 100h3M225 55h3M177 136h3M140 71h3M149 123h3M245 71h3M248 66h3M201 105h3M183 105h3M198 20h3M167 65h3M153 106h3M202 81h3M202 82h3M178 13h3M204 45h3M241 34h3M145 86h3M233 34h3M178 107h3M216 63h3M191 82h3M201 98h3M154 136h3M160 90h3M174 46h3M139 98h3M166 75h3M168 93h3M158 39h3M143 90h3M204 54h3M201 123h3M148 126h3M236 33h3M229 69h3M216 58h3M226 50h3M168 130h3M156 117h3M142 122h3M176 116h3M204 45h3M152 111h3M218 17h3M176 70h3M243 70h3M189 62h3M192 74h3M167 78h3M186 41h3M189 98h3M221 48h3M185 123h3M133 101h3M196 73h3M147 102h3M145 95h3M246 40h3M204 41h3M155 77h3M234 147h3M188 75h3M161 93h3M176 108h3M141 82h3M165 111h3M134 85h3M221 38h3M206 44h3M247 44h3M213 81h3M186 144h3M224 119h3M223 33h3M210 79h3M215 42h3M149 88h3M170 133h3M247 47h3M190 82h3M232 47h3M201 79h3M176 102h3M216 66h3M163 57h3M162 122h3M207 41h3M232 24h3M222 44h3M211 68h3M230 66h3M224 57h3M139 127h3M224 33h3M144 127h3M146 121h3M208 72h3M139 97h3M242 85h3M244 39h3M223 70h3M152 113h3M159 92h3M232 67h3M173 38h3M177 68h3M159 92h3M163 120h3M164 86h3M205 124h3M132 56h3M241 78h3M162 112h3M182 120h3M178 64h3M204 108h3M175 75h3M144 124h3M152 45h3M228 58h3M231 42h3M190 20h3M170 89h3M196 58h3M192 110h3M170 64h3M236 38h3M216 108h3M189 44h3M225 127h3M206 71h3M190 66h3M122 102h3M127 63h3M226 77h3M180 65h3M209 41h3M171 129h3M150 129h3M208 65h3M168 35h3M161 23h3M232 66h3M160 101h3M231 35h3M249 66h3M226 36h3M222 58h3M206 147h3M232 54h3M230 32h3M229 28h3M242 57h3M197 31h3M174 121h3M180 140h3M190 72h3M238 51h3M192 78h3M221 110h3M214 65h3M138 101h3M191 92h3M175 96h3M152 86h3M156 98h3M204 30h3M231 28h3M225 66h3M220 19h3M196 83h3M173 93h3M231 31h3M193 131h3M155 127h3M184 57h3M232 44h3M205 104h3M143 50h3M206 71h3M173 81h3M205 80h3M214 144h3M140 100h3M191 62h3M192 34h3M216 61h3M210 85h3M110 78h3M235 89h3M191 137h3M107 84h3M151 45h3M225 60h3M177 92h3M204 115h3M205 54h3M218 108h3M162 43h3M237 42h3M164 82h3M192 57h3M123 77h3M211 46h3M204 124h3M200 46h3M194 64h3M232 42h3M133 98h3M150 121h3M239 43h3M185 72h3M192 21h3M219 119h3M142 121h3M216 54h3M169 87h3M175 66h3M169 30h3M202 65h3M219 57h3M219 93h3M189 139h3M201 44h3M174 142h3M228 46h3M242 39h3M206 35h3M190 93h3M157 67h3M236 51h3M124 106h3M230 42h3M157 90h3M183 100h3M173 104h3M182 93h3M204 49h3M245 39h3M192 102h3M146 88h3M183 116h3M186 56h3M211 63h3M206 61h3M198 68h3M221 20h3M181 44h3M232 22h3M180 42h3M235 27h3M225 34h3M190 47h3M221 35h3M212 43h3M191 38h3M240 36h3M223 10h3M232 53h3M237 14h3M220 40h3M212 41h3M240 32h3M203 42h3M233 38h3M228 19h3M225 45h3M218 38h3M227 39h3M226 47h3M202 38h3M159 69h3M207 40h3M194 53h3M234 33h3M214 51h3M223 40h3M229 33h3M237 36h3M208 57h3M256 29h3M242 49h3M225 30h3M205 51h3M244 12h3M225 29h3M238 35h3M219 53h3M246 20h3M243 31h3M217 42h3M252 27h3M202 52h3M230 29h3M218 18h3M222 23h3M208 50h3M212 44h3M242 48h3M235 32h3M221 49h3M208 34h3M203 35h3M239 31h3M222 56h3M210 50h3M226 94h3M56 50h3M14 47h3M68 122h3M196 152h3M220 188h3M32 216h3M133 71h3" stroke="#ff2020" stroke-width="3" fill="none" opacity=".75"/>
</g></g>
<rect x="118.6" y="525" width="65.5" height="65.0" fill="none" stroke="#7a7a7a" stroke-width="0.8"/>
<line x1="151.4" y1="525" x2="151.4" y2="590" stroke="#6a6a6a" stroke-width="0.8"/>
<line x1="118.6" y1="563.5" x2="184.1" y2="563.5" stroke="#6a6a6a" stroke-width="0.8"/>
<line x1="116.8" y1="590" x2="118.6" y2="590" stroke="#888" stroke-width="0.6"/>
<text x="116.2" y="590" font-size="3.2" text-anchor="middle" fill="#888" transform="rotate(-90 116.2 590)">10</text>
<line x1="118.6" y1="590" x2="118.6" y2="591.8" stroke="#888" stroke-width="0.6"/>
<text x="118.6" y="594.8" font-size="3.2" text-anchor="middle" fill="#888">10</text>
<line x1="116.8" y1="573.75" x2="118.6" y2="573.75" stroke="#888" stroke-width="0.6"/>
<text x="116.2" y="573.75" font-size="3.2" text-anchor="middle" fill="#888" transform="rotate(-90 116.2 573.75)">10</text>
<line x1="134.97" y1="590" x2="134.97" y2="591.8" stroke="#888" stroke-width="0.6"/>
<text x="134.97" y="594.8" font-size="3.2" text-anchor="middle" fill="#888">10</text>
<line x1="116.8" y1="557.5" x2="118.6" y2="557.5" stroke="#888" stroke-width="0.6"/>
<text x="116.2" y="557.5" font-size="3.2" text-anchor="middle" fill="#888" transform="rotate(-90 116.2 557.5)">10</text>
<line x1="151.35" y1="590" x2="151.35" y2="591.8" stroke="#888" stroke-width="0.6"/>
<text x="151.35" y="594.8" font-size="3.2" text-anchor="middle" fill="#888">10</text>
<line x1="116.8" y1="541.25" x2="118.6" y2="541.25" stroke="#888" stroke-width="0.6"/>
<text x="116.2" y="541.25" font-size="3.2" text-anchor="middle" fill="#888" transform="rotate(-90 116.2 541.25)">10</text>
<line x1="167.72" y1="590" x2="167.72" y2="591.8" stroke="#888" stroke-width="0.6"/>
<text x="167.72" y="594.8" font-size="3.2" text-anchor="middle" fill="#888">10</text>
<line x1="116.8" y1="525" x2="118.6" y2="525" stroke="#888" stroke-width="0.6"/>
<text x="116.2" y="525" font-size="3.2" text-anchor="middle" fill="#888" transform="rotate(-90 116.2 525)">10</text>
<line x1="184.1" y1="590" x2="184.1" y2="591.8" stroke="#888" stroke-width="0.6"/>
<text x="184.1" y="594.8" font-size="3.2" text-anchor="middle" fill="#888">10</text>
<path d="M118.6 585.12h1M123.51 590v-1M118.6 582.2h1M126.46 590v-1M118.6 580.25h1M128.42 590v-1M118.6 578.62h1M130.06 590v-1M118.6 577.33h1M131.37 590v-1M118.6 576.19h1M132.52 590v-1M118.6 575.38h1M133.34 590v-1M118.6 574.56h1M134.16 590v-1M118.6 568.88h1M139.89 590v-1M118.6 565.95h1M142.83 590v-1M118.6 564h1M144.8 590v-1M118.6 562.38h1M146.44 590v-1M118.6 561.08h1M147.75 590v-1M118.6 559.94h1M148.89 590v-1M118.6 559.12h1M149.71 590v-1M118.6 558.31h1M150.53 590v-1M118.6 552.62h1M156.26 590v-1M118.6 549.7h1M159.21 590v-1M118.6 547.75h1M161.17 590v-1M118.6 546.12h1M162.81 590v-1M118.6 544.83h1M164.12 590v-1M118.6 543.69h1M165.27 590v-1M118.6 542.88h1M166.09 590v-1M118.6 542.06h1M166.91 590v-1M118.6 536.38h1M172.64 590v-1M118.6 533.45h1M175.58 590v-1M118.6 531.5h1M177.55 590v-1M118.6 529.88h1M179.19 590v-1M118.6 528.58h1M180.5 590v-1M118.6 527.44h1M181.64 590v-1M118.6 526.62h1M182.46 590v-1M118.6 525.81h1M183.28 590v-1" stroke="#999" fill="none" stroke-width="0.45"/>
<text x="182.8" y="534.3" font-size="8.7" text-anchor="end" fill="#1a1a1a" stroke="#1a1a1a" stroke-width="0.15">32.20%</text>
<clipPath id="fc3"><rect x="201.1" y="525" width="65.5" height="65.0"/></clipPath>
<g clip-path="url(#fc3)"><g transform="translate(201.1 525)">
<ellipse cx="23.6" cy="46.8" rx="11" ry="6.5" fill="#ff1010" opacity="0.18" filter="url(#b2)" transform="rotate(-38 23.6 46.8)"/>
<ellipse cx="24.1" cy="46.3" rx="7.5" ry="4" fill="#ff1010" opacity="0.92" filter="url(#b1)" transform="rotate(-38 24.1 46.3)"/>
<path d="M37.12 35.53L40.24 34.69L43.24 33.71L46.05 32.53L48.66 31.11L51.03 29.42L53.16 27.46L55.04 25.22L56.69 22.72L58.14 20L59.44 17.09L60.62 14.06L61.74 10.97L58.26 7.03L55.05 7.77L51.9 8.57L48.86 9.5L45.98 10.61L43.3 11.95L40.84 13.54L38.64 15.41L36.67 17.56L34.95 19.97L33.43 22.63L32.09 25.48L30.88 28.47Z" fill="#ff1010" opacity="0.13" filter="url(#b2)"/>
<ellipse cx="53" cy="11.5" rx="6" ry="3" fill="#ff1010" opacity="0.15" filter="url(#b2)" transform="rotate(-30 53 11.5)"/>
<path d="M47.6 35.6L65.5 21" stroke="#ff1010" stroke-width="1.1" opacity="0.9"/>
<path transform="scale(.25)" d="M165 145h3M98 175h3M106 186h3M130 173h3M68 219h3M81 195h3M92 219h3M108 159h3M66 234h3M116 193h3M94 208h3M84 184h3M93 210h3M139 163h3M62 187h3M63 205h3M90 161h3M86 202h3M125 195h3M106 200h3M87 171h3M87 170h3M52 216h3M44 223h3M156 156h3M63 204h3M122 191h3M62 200h3M106 202h3M74 170h3M127 149h3M92 190h3M67 228h3M66 221h3M95 168h3M104 150h3M147 146h3M150 142h3M56 208h3M93 188h3M51 191h3M109 187h3M128 184h3M41 209h3M109 157h3M129 189h3M102 206h3M73 186h3M131 143h3M74 164h3M75 214h3M102 186h3M123 166h3M139 204h3M45 222h3M61 211h3M89 198h3M98 180h3M113 199h3M63 208h3M121 170h3M134 208h3M50 209h3M59 188h3M96 190h3M51 207h3M90 176h3M104 186h3M95 207h3M94 153h3M140 147h3M57 169h3M119 189h3M74 180h3M143 164h3M148 186h3M112 205h3M86 204h3M94 142h3M116 213h3M61 204h3M80 217h3M87 181h3M149 139h3M142 187h3M113 134h3M107 149h3M128 154h3M146 170h3M41 172h3M126 191h3M108 167h3M117 185h3M136 214h3M38 242h3M113 197h3M78 232h3M117 162h3M85 198h3M88 188h3M97 190h3M41 221h3M86 181h3M58 202h3M129 177h3M68 177h3M69 209h3M143 180h3M73 172h3M52 180h3M101 197h3M82 178h3M94 170h3M78 214h3M127 169h3M97 169h3M134 149h3M94 153h3M65 196h3M122 163h3M96 198h3M106 192h3M54 258h3M64 209h3M142 172h3M127 167h3M41 206h3M108 183h3M109 183h3M136 170h3M75 214h3M54 221h3M94 166h3M76 194h3M85 201h3M81 212h3M137 172h3M79 207h3M128 175h3M128 193h3M82 201h3M115 158h3M113 140h3M106 178h3M98 198h3M112 165h3M94 221h3M100 163h3M131 149h3M62 211h3M37 203h3M126 185h3M66 192h3M72 177h3M80 156h3M91 210h3M114 200h3M60 190h3M67 175h3M89 180h3M163 151h3M198 101h3M159 120h3M232 29h3M155 113h3M207 75h3M174 60h3M221 83h3M200 127h3M231 59h3M212 72h3M166 36h3M255 143h3M155 135h3M182 45h3M211 35h3M203 49h3M128 114h3M171 103h3M139 99h3M215 66h3M225 42h3M205 61h3M131 99h3M194 88h3M181 104h3M199 47h3M185 31h3M214 64h3M120 92h3M207 44h3M145 133h3M188 134h3M230 41h3M174 111h3M204 126h3M207 37h3M136 119h3M167 114h3M204 128h3M169 51h3M153 63h3M199 116h3M193 129h3M228 36h3M231 46h3M194 120h3M178 84h3M130 56h3M194 87h3M198 116h3M173 45h3M243 64h3M223 44h3M136 52h3M158 117h3M132 74h3M169 142h3M222 69h3M240 102h3M147 46h3M200 77h3M163 144h3M157 141h3M171 122h3M150 127h3M219 79h3M233 75h3M186 148h3M143 45h3M210 36h3M236 32h3M196 84h3M203 86h3M190 66h3M177 89h3M225 76h3M242 61h3M151 82h3M219 48h3M228 48h3M240 145h3M224 37h3M226 57h3M170 100h3M163 86h3M217 95h3M166 98h3M166 80h3M151 117h3M228 54h3M150 91h3M129 117h3M227 90h3M147 96h3M245 43h3M140 119h3M217 36h3M131 95h3M176 29h3M235 56h3M232 59h3M187 63h3M198 37h3M143 101h3M222 54h3M180 133h3M136 105h3M117 104h3M215 62h3M234 35h3M174 55h3M126 56h3M236 49h3M245 56h3M157 59h3M123 91h3M138 106h3M197 58h3M212 76h3M152 112h3M148 37h3M226 51h3M225 53h3M230 34h3M200 77h3M172 36h3M134 116h3M222 26h3M227 44h3M204 93h3M137 34h3M226 45h3M240 45h3M139 127h3M227 108h3M222 46h3M251 63h3M168 97h3M219 29h3M213 51h3M147 85h3M156 139h3M225 113h3M239 92h3M233 59h3M154 103h3M220 38h3M143 71h3M222 72h3M185 36h3M193 64h3M167 106h3M239 43h3M168 39h3M127 94h3M161 51h3M180 120h3M152 60h3M154 69h3M153 128h3M146 138h3M247 73h3M193 74h3M187 119h3M215 23h3M224 69h3M242 47h3M209 104h3M136 113h3M221 112h3M228 114h3M174 94h3M163 106h3M150 102h3M236 35h3M198 73h3M136 77h3M134 76h3M176 79h3M135 114h3M191 119h3M222 46h3M126 115h3M137 49h3M146 106h3M141 80h3M180 26h3M195 147h3M138 41h3M242 84h3M245 165h3M156 114h3M206 51h3M227 69h3M155 73h3M140 129h3M185 117h3M125 105h3M209 131h3M153 116h3M236 45h3M241 68h3M214 29h3M150 62h3M226 57h3M218 69h3M147 111h3M176 88h3M152 105h3M180 51h3M126 99h3M138 102h3M232 46h3M217 72h3M160 52h3M230 118h3M254 67h3M182 96h3M226 34h3M226 44h3M223 80h3M212 57h3M236 117h3M153 102h3M232 71h3M160 123h3M245 122h3M192 96h3M204 88h3M229 32h3M179 79h3M188 36h3M175 169h3M173 98h3M146 113h3M169 101h3M215 74h3M194 102h3M208 24h3M230 94h3M187 86h3M207 64h3M247 76h3M231 50h3M143 94h3M194 46h3M204 103h3M147 121h3M208 70h3M206 32h3M160 114h3M155 84h3M144 91h3M210 120h3M190 94h3M181 76h3M221 93h3M158 151h3M134 70h3M229 41h3M219 48h3M210 45h3M240 42h3M232 48h3M201 43h3M234 37h3M210 48h3M206 36h3M189 54h3M214 48h3M227 50h3M204 44h3M211 43h3M232 33h3M208 44h3M196 41h3M243 37h3M200 51h3M177 71h3M195 63h3M206 45h3M189 50h3M191 51h3M202 47h3M206 41h3M207 46h3M206 35h3M227 33h3M232 37h3M225 44h3M210 66h3M219 54h3M199 61h3M212 46h3M196 57h3M231 39h3M245 25h3M228 38h3M251 15h3M197 59h3M222 31h3M209 44h3M213 40h3M207 76h3M212 48h3M215 55h3M196 43h3M233 40h3M223 37h3M236 43h3M203 48h3M197 44h3M198 63h3M226 39h3M222 27h3M212 46h3M197 46h3M217 51h3M246 142h3M171 38h3M185 51h3M96 161h3M200 81h3M36 189h3M217 44h3M36 56h3" stroke="#ff2020" stroke-width="3" fill="none" opacity=".75"/>
</g></g>
<rect x="201.1" y="525" width="65.5" height="65.0" fill="none" stroke="#7a7a7a" stroke-width="0.8"/>
<line x1="233.8" y1="525" x2="233.8" y2="590" stroke="#6a6a6a" stroke-width="0.8"/>
<line x1="201.1" y1="563.5" x2="266.6" y2="563.5" stroke="#6a6a6a" stroke-width="0.8"/>
<line x1="199.3" y1="590" x2="201.1" y2="590" stroke="#888" stroke-width="0.6"/>
<text x="198.7" y="590" font-size="3.2" text-anchor="middle" fill="#888" transform="rotate(-90 198.7 590)">10</text>
<line x1="201.1" y1="590" x2="201.1" y2="591.8" stroke="#888" stroke-width="0.6"/>
<text x="201.1" y="594.8" font-size="3.2" text-anchor="middle" fill="#888">10</text>
<line x1="199.3" y1="573.75" x2="201.1" y2="573.75" stroke="#888" stroke-width="0.6"/>
<text x="198.7" y="573.75" font-size="3.2" text-anchor="middle" fill="#888" transform="rotate(-90 198.7 573.75)">10</text>
<line x1="217.47" y1="590" x2="217.47" y2="591.8" stroke="#888" stroke-width="0.6"/>
<text x="217.47" y="594.8" font-size="3.2" text-anchor="middle" fill="#888">10</text>
<line x1="199.3" y1="557.5" x2="201.1" y2="557.5" stroke="#888" stroke-width="0.6"/>
<text x="198.7" y="557.5" font-size="3.2" text-anchor="middle" fill="#888" transform="rotate(-90 198.7 557.5)">10</text>
<line x1="233.85" y1="590" x2="233.85" y2="591.8" stroke="#888" stroke-width="0.6"/>
<text x="233.85" y="594.8" font-size="3.2" text-anchor="middle" fill="#888">10</text>
<line x1="199.3" y1="541.25" x2="201.1" y2="541.25" stroke="#888" stroke-width="0.6"/>
<text x="198.7" y="541.25" font-size="3.2" text-anchor="middle" fill="#888" transform="rotate(-90 198.7 541.25)">10</text>
<line x1="250.22" y1="590" x2="250.22" y2="591.8" stroke="#888" stroke-width="0.6"/>
<text x="250.22" y="594.8" font-size="3.2" text-anchor="middle" fill="#888">10</text>
<line x1="199.3" y1="525" x2="201.1" y2="525" stroke="#888" stroke-width="0.6"/>
<text x="198.7" y="525" font-size="3.2" text-anchor="middle" fill="#888" transform="rotate(-90 198.7 525)">10</text>
<line x1="266.6" y1="590" x2="266.6" y2="591.8" stroke="#888" stroke-width="0.6"/>
<text x="266.6" y="594.8" font-size="3.2" text-anchor="middle" fill="#888">10</text>
<path d="M201.1 585.12h1M206.01 590v-1M201.1 582.2h1M208.96 590v-1M201.1 580.25h1M210.92 590v-1M201.1 578.62h1M212.56 590v-1M201.1 577.33h1M213.87 590v-1M201.1 576.19h1M215.02 590v-1M201.1 575.38h1M215.84 590v-1M201.1 574.56h1M216.66 590v-1M201.1 568.88h1M222.39 590v-1M201.1 565.95h1M225.33 590v-1M201.1 564h1M227.3 590v-1M201.1 562.38h1M228.94 590v-1M201.1 561.08h1M230.25 590v-1M201.1 559.94h1M231.39 590v-1M201.1 559.12h1M232.21 590v-1M201.1 558.31h1M233.03 590v-1M201.1 552.62h1M238.76 590v-1M201.1 549.7h1M241.71 590v-1M201.1 547.75h1M243.67 590v-1M201.1 546.12h1M245.31 590v-1M201.1 544.83h1M246.62 590v-1M201.1 543.69h1M247.77 590v-1M201.1 542.88h1M248.59 590v-1M201.1 542.06h1M249.41 590v-1M201.1 536.38h1M255.14 590v-1M201.1 533.45h1M258.08 590v-1M201.1 531.5h1M260.05 590v-1M201.1 529.88h1M261.69 590v-1M201.1 528.58h1M263 590v-1M201.1 527.44h1M264.14 590v-1M201.1 526.62h1M264.96 590v-1M201.1 525.81h1M265.78 590v-1" stroke="#999" fill="none" stroke-width="0.45"/>
<text x="265.3" y="534.3" font-size="8.7" text-anchor="end" fill="#1a1a1a" stroke="#1a1a1a" stroke-width="0.15">32.09%</text>
<clipPath id="fc4"><rect x="284.9" y="525" width="65.5" height="65.0"/></clipPath>
<g clip-path="url(#fc4)"><g transform="translate(284.9 525)">
<ellipse cx="23.1" cy="47.1" rx="11" ry="6.5" fill="#ff1010" opacity="0.18" filter="url(#b2)" transform="rotate(-38 23.1 47.1)"/>
<ellipse cx="23.6" cy="46.6" rx="7.5" ry="4" fill="#ff1010" opacity="0.92" filter="url(#b1)" transform="rotate(-38 23.6 46.6)"/>
<path d="M37.2 36.46L40.34 35.52L43.35 34.44L46.18 33.16L48.8 31.65L51.18 29.87L53.3 27.83L55.18 25.51L56.82 22.94L58.25 20.15L59.53 17.18L60.68 14.09L61.78 10.93L58.22 7.07L54.98 7.91L51.81 8.82L48.75 9.85L45.85 11.06L43.16 12.49L40.7 14.17L38.49 16.13L36.53 18.35L34.82 20.84L33.32 23.56L31.99 26.48L30.8 29.54Z" fill="#ff1010" opacity="0.1" filter="url(#b2)"/>
<ellipse cx="52" cy="12" rx="6" ry="3" fill="#ff1010" opacity="0.15" filter="url(#b2)" transform="rotate(-30 52 12)"/>
<path d="M47.5 38L65.5 21" stroke="#ff1010" stroke-width="1.1" opacity="0.9"/>
<path transform="scale(.25)" d="M111 143h3M82 193h3M90 199h3M91 161h3M91 171h3M137 178h3M77 183h3M86 204h3M65 186h3M55 174h3M119 177h3M116 184h3M90 196h3M92 187h3M57 250h3M114 165h3M99 165h3M45 231h3M94 211h3M97 192h3M144 172h3M120 202h3M119 149h3M135 152h3M112 167h3M79 212h3M44 188h3M100 205h3M100 150h3M111 182h3M60 206h3M110 164h3M80 210h3M73 175h3M128 173h3M96 177h3M68 176h3M88 214h3M84 166h3M110 188h3M88 182h3M72 195h3M123 195h3M121 172h3M65 204h3M122 184h3M76 190h3M107 212h3M114 157h3M71 216h3M87 179h3M147 161h3M124 143h3M81 194h3M77 216h3M114 141h3M100 177h3M108 184h3M52 208h3M95 177h3M65 224h3M99 202h3M125 125h3M118 147h3M107 115h3M97 182h3M112 184h3M76 179h3M133 126h3M87 200h3M54 204h3M107 221h3M139 183h3M62 167h3M108 189h3M66 221h3M86 207h3M61 209h3M50 185h3M89 190h3M103 165h3M163 171h3M115 181h3M81 224h3M55 191h3M56 214h3M89 183h3M59 191h3M83 182h3M48 185h3M135 154h3M76 177h3M114 171h3M90 194h3M148 134h3M49 201h3M117 183h3M138 166h3M88 176h3M131 177h3M65 145h3M126 161h3M100 189h3M140 146h3M38 189h3M116 165h3M94 204h3M89 194h3M97 151h3M81 195h3M99 219h3M126 188h3M85 225h3M90 186h3M132 172h3M76 198h3M127 157h3M58 189h3M103 178h3M110 196h3M62 213h3M96 142h3M67 220h3M120 140h3M141 160h3M71 185h3M115 204h3M89 185h3M71 228h3M59 181h3M92 183h3M97 186h3M112 139h3M77 185h3M76 187h3M114 172h3M117 169h3M72 165h3M115 196h3M88 204h3M85 178h3M53 240h3M48 216h3M112 158h3M65 178h3M39 169h3M112 178h3M161 158h3M130 172h3M114 184h3M118 211h3M127 126h3M150 159h3M126 207h3M88 188h3M122 208h3M109 168h3M88 178h3M64 166h3M89 204h3M210 62h3M187 18h3M219 34h3M216 87h3M125 68h3M214 117h3M218 36h3M214 68h3M172 68h3M185 67h3M167 111h3M164 52h3M236 35h3M229 35h3M193 109h3M150 73h3M234 128h3M243 85h3M124 110h3M171 45h3M234 33h3M157 122h3M234 54h3M212 86h3M241 49h3M238 36h3M158 58h3M227 32h3M228 39h3M195 48h3M163 160h3M214 47h3M231 87h3M235 58h3M141 96h3M152 57h3M193 65h3M240 40h3M135 124h3M201 118h3M195 53h3M153 88h3M188 95h3M168 155h3M173 128h3M217 137h3M156 96h3M220 100h3M145 136h3M236 149h3M144 115h3M193 92h3M211 42h3M125 118h3M225 80h3M217 81h3M143 92h3M236 70h3M198 75h3M185 94h3M174 156h3M238 61h3M210 121h3M215 135h3M235 53h3M213 59h3M233 111h3M191 152h3M174 46h3M151 94h3M169 77h3M234 34h3M230 108h3M224 49h3M192 81h3M188 105h3M237 58h3M204 80h3M237 52h3M151 69h3M231 53h3M148 99h3M173 107h3M243 75h3M207 92h3M143 130h3M235 98h3M250 75h3M239 52h3M190 62h3M180 148h3M208 76h3M140 104h3M239 50h3M131 125h3M194 60h3M181 48h3M185 50h3M187 115h3M148 19h3M184 113h3M223 81h3M146 139h3M200 70h3M202 35h3M141 125h3M211 88h3M230 95h3M237 40h3M148 35h3M141 98h3M146 74h3M226 65h3M218 65h3M215 59h3M182 75h3M141 42h3M201 57h3M243 47h3M143 78h3M217 34h3M185 34h3M184 62h3M178 99h3M164 28h3M224 56h3M125 113h3M243 114h3M168 80h3M218 63h3M150 37h3M243 46h3M200 71h3M189 62h3M237 83h3M232 39h3M202 53h3M246 55h3M232 35h3M176 117h3M153 86h3M141 80h3M242 73h3M223 61h3M166 136h3M211 101h3M183 90h3M196 96h3M225 39h3M214 45h3M185 102h3M141 35h3M178 88h3M152 72h3M163 104h3M182 45h3M231 89h3M206 92h3M147 93h3M239 48h3M120 72h3M122 101h3M148 135h3M248 58h3M221 52h3M238 53h3M230 49h3M249 50h3M207 49h3M203 28h3M160 75h3M159 113h3M239 47h3M233 33h3M152 144h3M121 104h3M198 83h3M145 80h3M213 48h3M186 61h3M244 48h3M204 136h3M155 24h3M143 112h3M206 79h3M211 39h3M185 79h3M233 41h3M211 95h3M231 32h3M148 140h3M155 106h3M183 90h3M136 112h3M204 65h3M230 47h3M164 162h3M192 122h3M153 129h3M184 94h3M159 79h3M246 46h3M134 94h3M207 45h3M240 53h3M159 87h3M150 79h3M259 98h3M214 36h3M159 97h3M126 102h3M153 122h3M231 81h3M241 151h3M169 143h3M244 40h3M192 82h3M242 60h3M218 56h3M242 45h3M183 39h3M174 122h3M135 84h3M186 75h3M141 52h3M129 102h3M194 141h3M146 132h3M152 78h3M221 109h3M172 26h3M140 127h3M163 54h3M216 82h3M175 130h3M227 42h3M227 41h3M198 52h3M240 61h3M165 116h3M228 136h3M217 71h3M212 70h3M174 56h3M161 64h3M155 136h3M214 53h3M183 132h3M215 86h3M217 44h3M139 119h3M183 133h3M238 61h3M213 102h3M204 44h3M201 84h3M170 70h3M251 114h3M194 69h3M203 74h3M197 35h3M199 61h3M216 40h3M202 54h3M210 44h3M218 44h3M209 45h3M201 47h3M219 40h3M210 49h3M194 65h3M174 69h3M186 54h3M208 46h3M226 34h3M205 68h3M204 38h3M191 59h3M214 33h3M237 36h3M191 52h3M208 48h3M237 25h3M204 59h3M200 65h3M210 53h3M217 51h3M206 53h3M194 25h3M221 30h3M195 58h3M224 34h3M192 42h3M214 24h3M224 31h3M217 59h3M197 45h3M195 67h3M183 55h3M222 48h3M183 67h3M203 41h3M198 46h3M220 34h3M201 57h3M221 24h3M205 49h3M237 24h3M209 64h3M196 42h3M193 59h3M227 39h3M207 63h3M227 47h3M194 40h3M194 73h3M227 32h3M228 41h3M191 33h3M229 51h3M233 247h3M209 232h3M211 93h3M97 178h3M129 51h3M115 113h3M109 99h3M33 241h3" stroke="#ff2020" stroke-width="3" fill="none" opacity=".75"/>
</g></g>
<rect x="284.9" y="525" width="65.5" height="65.0" fill="none" stroke="#7a7a7a" stroke-width="0.8"/>
<line x1="317.5" y1="525" x2="317.5" y2="590" stroke="#6a6a6a" stroke-width="0.8"/>
<line x1="284.9" y1="563.5" x2="350.4" y2="563.5" stroke="#6a6a6a" stroke-width="0.8"/>
<line x1="283.1" y1="590" x2="284.9" y2="590" stroke="#888" stroke-width="0.6"/>
<text x="282.5" y="590" font-size="3.2" text-anchor="middle" fill="#888" transform="rotate(-90 282.5 590)">10</text>
<line x1="284.9" y1="590" x2="284.9" y2="591.8" stroke="#888" stroke-width="0.6"/>
<text x="284.9" y="594.8" font-size="3.2" text-anchor="middle" fill="#888">10</text>
<line x1="283.1" y1="573.75" x2="284.9" y2="573.75" stroke="#888" stroke-width="0.6"/>
<text x="282.5" y="573.75" font-size="3.2" text-anchor="middle" fill="#888" transform="rotate(-90 282.5 573.75)">10</text>
<line x1="301.27" y1="590" x2="301.27" y2="591.8" stroke="#888" stroke-width="0.6"/>
<text x="301.27" y="594.8" font-size="3.2" text-anchor="middle" fill="#888">10</text>
<line x1="283.1" y1="557.5" x2="284.9" y2="557.5" stroke="#888" stroke-width="0.6"/>
<text x="282.5" y="557.5" font-size="3.2" text-anchor="middle" fill="#888" transform="rotate(-90 282.5 557.5)">10</text>
<line x1="317.65" y1="590" x2="317.65" y2="591.8" stroke="#888" stroke-width="0.6"/>
<text x="317.65" y="594.8" font-size="3.2" text-anchor="middle" fill="#888">10</text>
<line x1="283.1" y1="541.25" x2="284.9" y2="541.25" stroke="#888" stroke-width="0.6"/>
<text x="282.5" y="541.25" font-size="3.2" text-anchor="middle" fill="#888" transform="rotate(-90 282.5 541.25)">10</text>
<line x1="334.02" y1="590" x2="334.02" y2="591.8" stroke="#888" stroke-width="0.6"/>
<text x="334.02" y="594.8" font-size="3.2" text-anchor="middle" fill="#888">10</text>
<line x1="283.1" y1="525" x2="284.9" y2="525" stroke="#888" stroke-width="0.6"/>
<text x="282.5" y="525" font-size="3.2" text-anchor="middle" fill="#888" transform="rotate(-90 282.5 525)">10</text>
<line x1="350.4" y1="590" x2="350.4" y2="591.8" stroke="#888" stroke-width="0.6"/>
<text x="350.4" y="594.8" font-size="3.2" text-anchor="middle" fill="#888">10</text>
<path d="M284.9 585.12h1M289.81 590v-1M284.9 582.2h1M292.76 590v-1M284.9 580.25h1M294.72 590v-1M284.9 578.62h1M296.36 590v-1M284.9 577.33h1M297.67 590v-1M284.9 576.19h1M298.82 590v-1M284.9 575.38h1M299.64 590v-1M284.9 574.56h1M300.46 590v-1M284.9 568.88h1M306.19 590v-1M284.9 565.95h1M309.13 590v-1M284.9 564h1M311.1 590v-1M284.9 562.38h1M312.74 590v-1M284.9 561.08h1M314.05 590v-1M284.9 559.94h1M315.19 590v-1M284.9 559.12h1M316.01 590v-1M284.9 558.31h1M316.83 590v-1M284.9 552.62h1M322.56 590v-1M284.9 549.7h1M325.51 590v-1M284.9 547.75h1M327.47 590v-1M284.9 546.12h1M329.11 590v-1M284.9 544.83h1M330.42 590v-1M284.9 543.69h1M331.57 590v-1M284.9 542.88h1M332.39 590v-1M284.9 542.06h1M333.21 590v-1M284.9 536.38h1M338.94 590v-1M284.9 533.45h1M341.88 590v-1M284.9 531.5h1M343.85 590v-1M284.9 529.88h1M345.49 590v-1M284.9 528.58h1M346.8 590v-1M284.9 527.44h1M347.94 590v-1M284.9 526.62h1M348.76 590v-1M284.9 525.81h1M349.58 590v-1" stroke="#999" fill="none" stroke-width="0.45"/>
<text x="349.1" y="534.3" font-size="8.7" text-anchor="end" fill="#1a1a1a" stroke="#1a1a1a" stroke-width="0.15">30.19%</text>
<clipPath id="fc5"><rect x="367.2" y="525" width="65.5" height="65.0"/></clipPath>
<g clip-path="url(#fc5)"><g transform="translate(367.2 525)">
<ellipse cx="22" cy="46.8" rx="10" ry="6" fill="#ff1010" opacity="0.18" filter="url(#b2)" transform="rotate(-45 22 46.8)"/>
<ellipse cx="22.5" cy="46.3" rx="7.2" ry="3.8" fill="#ff1010" opacity="0.92" filter="url(#b1)" transform="rotate(-45 22.5 46.3)"/>
<path d="M34.42 39.68L37.89 38.55L41.21 37.28L44.34 35.79L47.24 34.06L49.88 32.05L52.25 29.75L54.36 27.17L56.21 24.31L57.84 21.22L59.3 17.94L60.64 14.53L61.91 11.05L58.09 6.95L54.53 7.97L51.03 9.06L47.66 10.28L44.46 11.69L41.48 13.33L38.75 15.25L36.28 17.45L34.09 19.94L32.16 22.71L30.46 25.72L28.95 28.95L27.58 32.32Z" fill="#ff1010" opacity="0.1" filter="url(#b2)"/>
<ellipse cx="39.5" cy="29.5" rx="5" ry="3.5" fill="#ff1010" opacity="0.18" filter="url(#b2)" transform="rotate(-30 39.5 29.5)"/>
<path d="M45.6 38L63.5 21.5" stroke="#ff1010" stroke-width="1.0" opacity="0.4"/>
<path transform="scale(.25)" d="M110 156h3M139 155h3M38 240h3M43 229h3M65 195h3M84 178h3M70 207h3M78 148h3M80 182h3M31 193h3M99 199h3M51 194h3M69 226h3M62 171h3M101 214h3M112 180h3M56 223h3M45 220h3M98 168h3M77 188h3M95 201h3M89 199h3M63 234h3M53 209h3M91 176h3M70 163h3M58 167h3M108 169h3M114 144h3M86 190h3M101 168h3M107 158h3M85 186h3M59 163h3M59 207h3M116 164h3M97 174h3M94 185h3M47 173h3M121 170h3M58 228h3M110 175h3M116 161h3M92 192h3M76 219h3M59 203h3M105 165h3M91 195h3M88 151h3M79 208h3M51 203h3M145 115h3M58 197h3M109 170h3M99 144h3M105 199h3M89 170h3M88 165h3M149 161h3M89 183h3M83 150h3M131 144h3M79 215h3M82 226h3M107 190h3M87 185h3M147 190h3M111 160h3M73 160h3M134 188h3M107 203h3M164 134h3M151 183h3M105 194h3M154 122h3M105 181h3M106 150h3M83 204h3M61 195h3M124 130h3M68 170h3M74 201h3M86 204h3M109 155h3M63 169h3M61 189h3M34 236h3M72 194h3M92 168h3M67 177h3M100 216h3M142 134h3M111 171h3M83 194h3M91 154h3M88 219h3M100 160h3M126 142h3M80 177h3M107 136h3M84 191h3M52 199h3M86 187h3M92 190h3M133 182h3M77 161h3M96 216h3M104 212h3M86 176h3M106 174h3M83 220h3M64 185h3M110 205h3M52 186h3M123 166h3M93 184h3M55 197h3M63 193h3M116 157h3M75 189h3M66 202h3M100 163h3M124 168h3M56 224h3M97 181h3M134 149h3M144 139h3M131 176h3M107 170h3M66 213h3M100 160h3M63 179h3M74 182h3M104 165h3M58 184h3M95 207h3M121 129h3M108 170h3M45 213h3M76 204h3M73 221h3M113 195h3M50 194h3M100 200h3M83 176h3M119 191h3M75 165h3M87 171h3M88 185h3M86 219h3M111 165h3M104 197h3M77 206h3M70 224h3M91 180h3M109 158h3M95 181h3M61 213h3M74 190h3M61 204h3M143 64h3M183 109h3M160 115h3M157 135h3M205 90h3M194 120h3M157 42h3M142 129h3M131 98h3M209 66h3M127 72h3M239 49h3M213 76h3M186 157h3M146 37h3M155 55h3M153 105h3M201 64h3M224 21h3M197 35h3M148 91h3M206 92h3M179 110h3M176 88h3M223 134h3M246 56h3M206 96h3M207 76h3M235 64h3M154 123h3M191 161h3M186 37h3M178 83h3M129 136h3M241 40h3M122 123h3M204 23h3M224 45h3M215 135h3M164 80h3M134 151h3M209 98h3M201 80h3M167 82h3M232 42h3M153 163h3M229 59h3M194 91h3M169 92h3M240 39h3M183 150h3M205 134h3M241 40h3M165 121h3M149 163h3M218 134h3M163 135h3M199 48h3M127 26h3M112 115h3M167 97h3M169 120h3M123 138h3M154 81h3M242 57h3M226 46h3M178 58h3M112 124h3M211 96h3M171 76h3M141 143h3M183 105h3M202 80h3M223 53h3M222 69h3M148 61h3M200 98h3M146 104h3M210 47h3M141 127h3M216 47h3M222 56h3M138 105h3M253 100h3M195 29h3M163 113h3M117 133h3M150 51h3M188 97h3M159 158h3M189 59h3M200 138h3M223 26h3M216 60h3M158 60h3M157 45h3M114 130h3M134 92h3M218 64h3M199 150h3M212 96h3M190 154h3M224 45h3M161 75h3M236 96h3M160 161h3M156 72h3M222 49h3M194 114h3M215 60h3M192 39h3M193 103h3M161 33h3M162 177h3M155 135h3M129 88h3M218 108h3M239 84h3M196 141h3M147 131h3M212 30h3M164 65h3M245 101h3M217 50h3M176 57h3M164 85h3M105 111h3M144 103h3M204 79h3M120 128h3M251 55h3M129 96h3M238 75h3M186 111h3M251 50h3M223 64h3M206 22h3M174 42h3M130 143h3M144 79h3M244 59h3M165 32h3M225 77h3M205 53h3M177 117h3M210 106h3M100 93h3M207 45h3M238 46h3M201 75h3M127 72h3M210 45h3M161 102h3M156 91h3M172 126h3M209 145h3M151 139h3M214 29h3M214 34h3M193 113h3M146 154h3M128 111h3M145 96h3M100 65h3M175 149h3M160 106h3M146 98h3M219 84h3M171 120h3M243 71h3M149 74h3M154 124h3M179 46h3M237 38h3M216 43h3M107 116h3M129 93h3M185 114h3M217 37h3M125 141h3M160 15h3M154 130h3M110 28h3M168 76h3M211 68h3M254 84h3M196 89h3M159 64h3M170 74h3M166 119h3M174 116h3M179 75h3M178 135h3M234 58h3M182 54h3M172 108h3M159 134h3M172 42h3M221 33h3M151 127h3M142 116h3M200 113h3M225 71h3M236 32h3M203 122h3M191 84h3M231 69h3M119 127h3M165 34h3M211 109h3M203 47h3M218 39h3M225 98h3M224 41h3M117 30h3M221 118h3M180 76h3M161 64h3M173 113h3M201 76h3M212 38h3M203 111h3M197 34h3M164 117h3M196 60h3M179 122h3M182 115h3M228 31h3M126 121h3M243 95h3M233 68h3M208 107h3M231 80h3M152 130h3M190 30h3M179 71h3M211 55h3M208 69h3M131 29h3M181 111h3M148 122h3M165 107h3M132 144h3M154 100h3M148 128h3M170 103h3M145 122h3M164 90h3M173 106h3M145 131h3M144 126h3M136 104h3M163 129h3M163 119h3M146 128h3M155 129h3M152 113h3M171 124h3M147 128h3M159 112h3M164 113h3M176 119h3M161 147h3M171 102h3M161 77h3M164 118h3M153 108h3M163 110h3M149 115h3M160 123h3M171 111h3M149 111h3M152 115h3M151 110h3M158 113h3M171 107h3M176 118h3M131 113h3M166 130h3M150 107h3M172 116h3M188 135h3M152 119h3M160 135h3M133 136h3M163 108h3M172 128h3M149 103h3M144 134h3M155 116h3M157 130h3M153 134h3M158 125h3M136 130h3M154 136h3M112 127h3M167 127h3M189 117h3M129 127h3M238 164h3M180 169h3M144 257h3M208 42h3M19 3h3M71 180h3M85 96h3M107 227h3" stroke="#ff2020" stroke-width="3" fill="none" opacity=".75"/>
</g></g>
<rect x="367.2" y="525" width="65.5" height="65.0" fill="none" stroke="#7a7a7a" stroke-width="0.8"/>
<line x1="400.2" y1="525" x2="400.2" y2="590" stroke="#6a6a6a" stroke-width="0.8"/>
<line x1="367.2" y1="563.5" x2="432.7" y2="563.5" stroke="#6a6a6a" stroke-width="0.8"/>
<line x1="365.4" y1="590" x2="367.2" y2="590" stroke="#888" stroke-width="0.6"/>
<text x="364.8" y="590" font-size="3.2" text-anchor="middle" fill="#888" transform="rotate(-90 364.8 590)">10</text>
<line x1="367.2" y1="590" x2="367.2" y2="591.8" stroke="#888" stroke-width="0.6"/>
<text x="367.2" y="594.8" font-size="3.2" text-anchor="middle" fill="#888">10</text>
<line x1="365.4" y1="573.75" x2="367.2" y2="573.75" stroke="#888" stroke-width="0.6"/>
<text x="364.8" y="573.75" font-size="3.2" text-anchor="middle" fill="#888" transform="rotate(-90 364.8 573.75)">10</text>
<line x1="383.57" y1="590" x2="383.57" y2="591.8" stroke="#888" stroke-width="0.6"/>
<text x="383.57" y="594.8" font-size="3.2" text-anchor="middle" fill="#888">10</text>
<line x1="365.4" y1="557.5" x2="367.2" y2="557.5" stroke="#888" stroke-width="0.6"/>
<text x="364.8" y="557.5" font-size="3.2" text-anchor="middle" fill="#888" transform="rotate(-90 364.8 557.5)">10</text>
<line x1="399.95" y1="590" x2="399.95" y2="591.8" stroke="#888" stroke-width="0.6"/>
<text x="399.95" y="594.8" font-size="3.2" text-anchor="middle" fill="#888">10</text>
<line x1="365.4" y1="541.25" x2="367.2" y2="541.25" stroke="#888" stroke-width="0.6"/>
<text x="364.8" y="541.25" font-size="3.2" text-anchor="middle" fill="#888" transform="rotate(-90 364.8 541.25)">10</text>
<line x1="416.32" y1="590" x2="416.32" y2="591.8" stroke="#888" stroke-width="0.6"/>
<text x="416.32" y="594.8" font-size="3.2" text-anchor="middle" fill="#888">10</text>
<line x1="365.4" y1="525" x2="367.2" y2="525" stroke="#888" stroke-width="0.6"/>
<text x="364.8" y="525" font-size="3.2" text-anchor="middle" fill="#888" transform="rotate(-90 364.8 525)">10</text>
<line x1="432.7" y1="590" x2="432.7" y2="591.8" stroke="#888" stroke-width="0.6"/>
<text x="432.7" y="594.8" font-size="3.2" text-anchor="middle" fill="#888">10</text>
<path d="M367.2 585.12h1M372.11 590v-1M367.2 582.2h1M375.06 590v-1M367.2 580.25h1M377.02 590v-1M367.2 578.62h1M378.66 590v-1M367.2 577.33h1M379.97 590v-1M367.2 576.19h1M381.12 590v-1M367.2 575.38h1M381.94 590v-1M367.2 574.56h1M382.76 590v-1M367.2 568.88h1M388.49 590v-1M367.2 565.95h1M391.44 590v-1M367.2 564h1M393.4 590v-1M367.2 562.38h1M395.04 590v-1M367.2 561.08h1M396.35 590v-1M367.2 559.94h1M397.49 590v-1M367.2 559.12h1M398.31 590v-1M367.2 558.31h1M399.13 590v-1M367.2 552.62h1M404.86 590v-1M367.2 549.7h1M407.81 590v-1M367.2 547.75h1M409.77 590v-1M367.2 546.12h1M411.41 590v-1M367.2 544.83h1M412.72 590v-1M367.2 543.69h1M413.87 590v-1M367.2 542.88h1M414.69 590v-1M367.2 542.06h1M415.51 590v-1M367.2 536.38h1M421.24 590v-1M367.2 533.45h1M424.19 590v-1M367.2 531.5h1M426.15 590v-1M367.2 529.88h1M427.79 590v-1M367.2 528.58h1M429.1 590v-1M367.2 527.44h1M430.24 590v-1M367.2 526.62h1M431.06 590v-1M367.2 525.81h1M431.88 590v-1" stroke="#999" fill="none" stroke-width="0.45"/>
<text x="431.4" y="534.3" font-size="8.7" text-anchor="end" fill="#1a1a1a" stroke="#1a1a1a" stroke-width="0.15">20.88%</text>
<clipPath id="fc6"><rect x="36.1" y="606.5" width="65.5" height="65.0"/></clipPath>
<g clip-path="url(#fc6)"><g transform="translate(36.1 606.5)">
<ellipse cx="18.4" cy="44.4" rx="12.5" ry="5.5" fill="#ff1010" opacity="0.16" filter="url(#b2)" transform="rotate(-38 18.4 44.4)"/>
<ellipse cx="19.4" cy="43.6" rx="9" ry="3.3" fill="#ff1010" opacity="0.92" filter="url(#b1)" transform="rotate(-38 19.4 43.6)"/>
<path d="M27.83 39.49L30.49 38.2L33.03 36.82L35.41 35.3L37.61 33.61L39.58 31.73L41.34 29.65L42.87 27.38L44.2 24.93L45.34 22.32L46.34 19.59L47.23 16.76L48.08 13.89L44.92 11.11L42.18 12.33L39.5 13.58L36.91 14.93L34.47 16.4L32.21 18.03L30.16 19.85L28.33 21.86L26.73 24.06L25.34 26.45L24.13 29.01L23.09 31.71L22.17 34.51Z" fill="#ff1010" opacity="0.14" filter="url(#b2)"/>
<ellipse cx="41.5" cy="15.5" rx="7.5" ry="2.8" fill="#ff1010" opacity="0.35" filter="url(#b2)" transform="rotate(-20 41.5 15.5)"/>
<path transform="scale(.25)" d="M110 157h3M138 172h3M59 157h3M97 176h3M21 186h3M95 184h3M126 138h3M100 139h3M105 151h3M86 152h3M63 193h3M28 181h3M61 204h3M79 187h3M63 181h3M98 160h3M45 222h3M110 180h3M35 216h3M75 186h3M51 159h3M93 145h3M65 186h3M65 176h3M71 156h3M55 192h3M123 168h3M76 201h3M55 154h3M107 155h3M72 163h3M77 192h3M101 150h3M95 163h3M69 188h3M116 134h3M45 172h3M102 122h3M113 158h3M71 166h3M63 179h3M103 169h3M18 225h3M43 223h3M103 134h3M69 211h3M96 168h3M106 167h3M72 227h3M113 161h3M33 209h3M77 186h3M72 186h3M17 234h3M108 146h3M35 223h3M52 224h3M88 149h3M43 218h3M77 174h3M64 201h3M53 189h3M58 221h3M63 196h3M68 175h3M80 168h3M49 200h3M110 170h3M76 189h3M107 183h3M51 192h3M33 210h3M152 130h3M78 227h3M119 147h3M104 177h3M85 197h3M45 172h3M57 186h3M111 157h3M53 195h3M98 176h3M70 195h3M53 174h3M50 179h3M31 197h3M65 120h3M84 131h3M91 164h3M43 193h3M38 174h3M43 189h3M94 156h3M54 182h3M67 206h3M79 172h3M58 143h3M82 186h3M104 176h3M60 219h3M124 150h3M57 193h3M58 218h3M115 158h3M41 201h3M79 186h3M36 192h3M119 150h3M73 150h3M114 147h3M91 207h3M26 201h3M123 130h3M116 141h3M76 186h3M70 154h3M54 175h3M19 211h3M51 183h3M19 192h3M83 189h3M79 191h3M111 180h3M130 140h3M88 147h3M53 170h3M45 186h3M100 124h3M18 232h3M15 223h3M117 138h3M2 220h3M83 198h3M115 147h3M77 190h3M68 171h3M80 198h3M92 181h3M44 191h3M60 192h3M97 152h3M66 172h3M60 213h3M81 166h3M75 138h3M120 170h3M119 151h3M22 204h3M75 169h3M35 220h3M70 173h3M158 117h3M92 187h3M80 175h3M53 205h3M64 193h3M91 168h3M89 149h3M114 101h3M153 61h3M128 132h3M133 87h3M188 58h3M149 132h3M114 115h3M116 126h3M148 88h3M148 77h3M133 124h3M96 140h3M158 62h3M102 98h3M179 60h3M155 105h3M111 154h3M179 54h3M98 139h3M138 55h3M169 72h3M125 140h3M142 116h3M186 51h3M172 133h3M181 53h3M179 45h3M161 65h3M166 88h3M140 104h3M166 161h3M103 143h3M135 133h3M93 141h3M158 54h3M153 121h3M118 149h3M95 83h3M133 130h3M160 105h3M191 87h3M117 130h3M122 97h3M121 114h3M181 72h3M89 132h3M186 56h3M133 107h3M177 51h3M98 108h3M153 81h3M177 95h3M139 127h3M167 118h3M132 53h3M185 59h3M167 58h3M130 145h3M162 82h3M157 152h3M104 120h3M149 100h3M159 35h3M181 141h3M89 138h3M126 80h3M152 102h3M195 76h3M148 74h3M116 156h3M92 130h3M158 136h3M186 56h3M177 96h3M182 71h3M121 120h3M141 89h3M188 61h3M162 113h3M136 150h3M177 81h3M163 77h3M161 87h3M115 122h3M165 69h3M175 78h3M183 70h3M178 65h3M135 96h3M155 108h3M96 107h3M138 134h3M157 110h3M153 66h3M134 96h3M185 81h3M118 154h3M158 81h3M138 126h3M138 40h3M188 67h3M181 122h3M106 115h3M93 62h3M137 113h3M146 140h3M130 99h3M183 100h3M180 73h3M157 87h3M176 85h3M128 152h3M172 74h3M97 109h3M92 101h3M125 53h3M87 124h3M182 100h3M180 82h3M138 65h3M192 58h3M157 55h3M114 144h3M149 102h3M117 102h3M99 144h3M151 66h3M125 113h3M116 152h3M154 59h3M112 149h3M96 114h3M189 101h3M157 54h3M97 97h3M99 140h3M99 141h3M130 100h3M111 141h3M87 115h3M189 89h3M150 67h3M138 87h3M138 76h3M147 81h3M167 118h3M138 100h3M138 124h3M200 144h3M187 77h3M187 58h3M112 78h3M160 114h3M177 93h3M140 102h3M125 59h3M116 122h3M108 106h3M144 142h3M145 114h3M178 65h3M138 73h3M97 133h3M120 148h3M122 148h3M167 132h3M171 76h3M109 138h3M187 60h3M104 108h3M140 94h3M103 127h3M161 115h3M133 63h3M103 124h3M127 116h3M143 116h3M166 68h3M163 88h3M137 93h3M168 48h3M134 111h3M144 145h3M171 64h3M153 86h3M143 108h3M152 106h3M170 70h3M110 73h3M170 106h3M135 159h3M124 87h3M173 54h3M166 83h3M110 125h3M81 105h3M197 98h3M91 139h3M151 143h3M120 112h3M159 66h3M101 94h3M184 51h3M157 91h3M180 110h3M159 84h3M169 66h3M161 81h3M103 118h3M126 142h3M172 113h3M151 93h3M105 152h3M175 68h3M150 74h3M183 117h3M166 53h3M180 79h3M133 142h3M122 82h3M159 114h3M91 106h3M151 128h3M89 108h3M192 63h3M110 142h3M107 65h3M144 57h3M163 56h3M108 113h3M96 134h3M147 76h3M154 87h3M100 103h3M169 61h3M176 59h3M139 174h3M146 104h3M123 84h3M121 133h3M190 43h3M182 51h3M162 70h3M184 57h3M133 65h3M170 55h3M183 57h3M153 57h3M195 51h3M168 73h3M168 63h3M149 77h3M166 62h3M173 71h3M173 60h3M149 68h3M168 70h3M162 59h3M175 56h3M159 61h3M158 66h3M217 41h3M201 64h3M144 59h3M190 57h3M149 62h3M169 61h3M170 69h3M162 58h3M159 47h3M162 68h3M180 67h3M190 53h3M195 47h3M112 77h3M199 52h3M157 60h3M130 61h3M162 58h3M210 45h3M195 50h3M193 53h3M154 72h3M204 61h3M197 41h3M201 54h3M188 52h3M161 62h3M148 55h3M155 72h3M162 47h3M166 58h3M168 77h3M154 63h3M133 80h3M156 59h3M148 61h3M179 61h3M191 57h3M173 56h3M178 50h3M172 56h3M166 61h3M145 62h3M154 75h3M164 58h3M141 68h3M182 50h3M160 54h3M170 64h3M159 59h3M152 70h3M158 64h3M185 76h3M180 63h3M168 78h3M153 51h3M168 62h3M146 75h3M158 56h3M30 127h3M183 41h3M119 114h3M199 36h3M166 176h3" stroke="#ff2020" stroke-width="3" fill="none" opacity=".75"/>
</g></g>
<rect x="36.1" y="606.5" width="65.5" height="65.0" fill="none" stroke="#7a7a7a" stroke-width="0.8"/>
<line x1="66.1" y1="606.5" x2="66.1" y2="671.5" stroke="#6a6a6a" stroke-width="0.8"/>
<line x1="36.1" y1="642.3" x2="101.6" y2="642.3" stroke="#6a6a6a" stroke-width="0.8"/>
<line x1="34.3" y1="671.5" x2="36.1" y2="671.5" stroke="#888" stroke-width="0.6"/>
<text x="33.7" y="671.5" font-size="3.2" text-anchor="middle" fill="#888" transform="rotate(-90 33.7 671.5)">10</text>
<line x1="36.1" y1="671.5" x2="36.1" y2="673.3" stroke="#888" stroke-width="0.6"/>
<text x="36.1" y="676.3" font-size="3.2" text-anchor="middle" fill="#888">10</text>
<line x1="34.3" y1="657.7" x2="36.1" y2="657.7" stroke="#888" stroke-width="0.6"/>
<text x="33.7" y="657.7" font-size="3.2" text-anchor="middle" fill="#888" transform="rotate(-90 33.7 657.7)">10</text>
<line x1="49.85" y1="671.5" x2="49.85" y2="673.3" stroke="#888" stroke-width="0.6"/>
<text x="49.85" y="676.3" font-size="3.2" text-anchor="middle" fill="#888">10</text>
<line x1="34.3" y1="643.9" x2="36.1" y2="643.9" stroke="#888" stroke-width="0.6"/>
<text x="33.7" y="643.9" font-size="3.2" text-anchor="middle" fill="#888" transform="rotate(-90 33.7 643.9)">10</text>
<line x1="63.6" y1="671.5" x2="63.6" y2="673.3" stroke="#888" stroke-width="0.6"/>
<text x="63.6" y="676.3" font-size="3.2" text-anchor="middle" fill="#888">10</text>
<line x1="34.3" y1="630.1" x2="36.1" y2="630.1" stroke="#888" stroke-width="0.6"/>
<text x="33.7" y="630.1" font-size="3.2" text-anchor="middle" fill="#888" transform="rotate(-90 33.7 630.1)">10</text>
<line x1="77.35" y1="671.5" x2="77.35" y2="673.3" stroke="#888" stroke-width="0.6"/>
<text x="77.35" y="676.3" font-size="3.2" text-anchor="middle" fill="#888">10</text>
<line x1="34.3" y1="616.3" x2="36.1" y2="616.3" stroke="#888" stroke-width="0.6"/>
<text x="33.7" y="616.3" font-size="3.2" text-anchor="middle" fill="#888" transform="rotate(-90 33.7 616.3)">10</text>
<line x1="91.1" y1="671.5" x2="91.1" y2="673.3" stroke="#888" stroke-width="0.6"/>
<text x="91.1" y="676.3" font-size="3.2" text-anchor="middle" fill="#888">10</text>
<path d="M36.1 667.36h1M40.23 671.5v-1M36.1 664.88h1M42.7 671.5v-1M36.1 663.22h1M44.35 671.5v-1M36.1 661.84h1M45.73 671.5v-1M36.1 660.74h1M46.83 671.5v-1M36.1 659.77h1M47.79 671.5v-1M36.1 659.08h1M48.48 671.5v-1M36.1 658.39h1M49.16 671.5v-1M36.1 653.56h1M53.98 671.5v-1M36.1 651.08h1M56.45 671.5v-1M36.1 649.42h1M58.1 671.5v-1M36.1 648.04h1M59.48 671.5v-1M36.1 646.94h1M60.58 671.5v-1M36.1 645.97h1M61.54 671.5v-1M36.1 645.28h1M62.23 671.5v-1M36.1 644.59h1M62.91 671.5v-1M36.1 639.76h1M67.72 671.5v-1M36.1 637.28h1M70.2 671.5v-1M36.1 635.62h1M71.85 671.5v-1M36.1 634.24h1M73.22 671.5v-1M36.1 633.14h1M74.33 671.5v-1M36.1 632.17h1M75.29 671.5v-1M36.1 631.48h1M75.97 671.5v-1M36.1 630.79h1M76.66 671.5v-1M36.1 625.96h1M81.47 671.5v-1M36.1 623.48h1M83.95 671.5v-1M36.1 621.82h1M85.6 671.5v-1M36.1 620.44h1M86.97 671.5v-1M36.1 619.34h1M88.07 671.5v-1M36.1 618.37h1M89.04 671.5v-1M36.1 617.68h1M89.72 671.5v-1M36.1 616.99h1M90.41 671.5v-1M36.1 612.16h1M95.22 671.5v-1M36.1 609.68h1M97.7 671.5v-1M36.1 608.02h1M99.35 671.5v-1M36.1 606.64h1M100.72 671.5v-1" stroke="#999" fill="none" stroke-width="0.45"/>
<text x="100.3" y="617.1" font-size="8.7" text-anchor="end" fill="#1a1a1a" stroke="#1a1a1a" stroke-width="0.15">20.94%</text>
<clipPath id="fc7"><rect x="118.6" y="606.5" width="65.5" height="65.0"/></clipPath>
<g clip-path="url(#fc7)"><g transform="translate(118.6 606.5)">
<ellipse cx="19.3" cy="43.7" rx="12.5" ry="5.5" fill="#ff1010" opacity="0.16" filter="url(#b2)" transform="rotate(-35 19.3 43.7)"/>
<ellipse cx="20.3" cy="42.9" rx="9.5" ry="3.3" fill="#ff1010" opacity="0.92" filter="url(#b1)" transform="rotate(-35 20.3 42.9)"/>
<path d="M27.95 39.83L30.85 38.61L33.63 37.27L36.24 35.78L38.65 34.1L40.85 32.2L42.81 30.08L44.54 27.74L46.06 25.19L47.38 22.46L48.56 19.58L49.63 16.6L50.64 13.58L47.36 10.42L44.37 11.56L41.44 12.75L38.62 14.04L35.94 15.48L33.46 17.1L31.19 18.92L29.15 20.97L27.35 23.24L25.76 25.72L24.37 28.39L23.15 31.22L22.05 34.17Z" fill="#ff1010" opacity="0.26" filter="url(#b2)"/>
<ellipse cx="44" cy="14.5" rx="7.5" ry="2.8" fill="#ff1010" opacity="0.6" filter="url(#b2)" transform="rotate(-20 44 14.5)"/>
<path transform="scale(.25)" d="M36 210h3M80 160h3M95 164h3M45 229h3M106 153h3M24 211h3M76 191h3M120 164h3M93 163h3M24 189h3M59 182h3M36 185h3M30 239h3M104 169h3M150 122h3M27 171h3M17 207h3M69 205h3M94 173h3M94 159h3M28 151h3M115 147h3M49 184h3M96 182h3M155 117h3M94 172h3M94 186h3M92 153h3M61 164h3M73 164h3M53 202h3M57 227h3M41 217h3M91 154h3M54 233h3M86 163h3M157 129h3M102 155h3M69 202h3M83 159h3M124 145h3M65 203h3M114 149h3M25 216h3M43 206h3M97 134h3M39 209h3M114 131h3M58 181h3M84 161h3M70 174h3M51 209h3M97 151h3M82 187h3M106 154h3M26 203h3M75 179h3M77 181h3M61 172h3M97 166h3M83 166h3M21 214h3M30 206h3M51 191h3M64 167h3M84 204h3M91 183h3M98 151h3M65 176h3M94 189h3M110 131h3M101 177h3M52 184h3M59 181h3M106 132h3M86 182h3M112 178h3M81 185h3M131 127h3M149 89h3M65 178h3M79 183h3M55 166h3M52 198h3M143 113h3M122 119h3M20 190h3M62 212h3M106 149h3M70 153h3M111 140h3M40 159h3M115 118h3M16 186h3M95 170h3M73 199h3M72 164h3M112 174h3M58 171h3M79 200h3M67 195h3M138 141h3M27 204h3M44 146h3M106 155h3M34 194h3M32 209h3M94 176h3M21 220h3M85 180h3M65 182h3M96 147h3M55 202h3M98 150h3M53 177h3M51 212h3M110 146h3M117 148h3M35 179h3M67 189h3M97 202h3M96 169h3M77 183h3M54 173h3M132 151h3M72 146h3M21 191h3M43 198h3M74 214h3M115 162h3M106 143h3M31 173h3M122 151h3M78 136h3M90 130h3M95 158h3M48 191h3M29 175h3M112 131h3M54 192h3M90 154h3M109 155h3M77 186h3M123 168h3M125 173h3M148 138h3M87 167h3M77 170h3M104 202h3M43 197h3M88 162h3M47 178h3M95 193h3M102 167h3M76 159h3M20 174h3M102 140h3M142 119h3M90 129h3M185 62h3M203 57h3M114 89h3M144 148h3M174 67h3M132 65h3M188 98h3M79 121h3M175 84h3M179 58h3M139 90h3M161 83h3M98 92h3M152 80h3M113 91h3M135 142h3M149 134h3M121 90h3M146 123h3M94 118h3M147 72h3M132 123h3M195 68h3M122 106h3M104 122h3M80 119h3M114 145h3M129 113h3M117 114h3M96 131h3M161 73h3M118 141h3M172 83h3M135 93h3M127 97h3M174 77h3M138 73h3M164 47h3M159 49h3M130 85h3M174 134h3M131 139h3M180 48h3M165 108h3M173 123h3M123 156h3M96 130h3M167 94h3M137 38h3M158 67h3M182 76h3M154 132h3M159 80h3M97 131h3M153 109h3M173 32h3M106 95h3M172 82h3M106 140h3M96 55h3M137 79h3M175 113h3M166 38h3M111 107h3M146 121h3M163 41h3M114 161h3M167 70h3M134 93h3M152 125h3M127 148h3M148 123h3M117 103h3M135 166h3M171 56h3M122 124h3M115 112h3M163 81h3M158 80h3M141 139h3M179 57h3M129 150h3M88 132h3M104 117h3M113 159h3M111 110h3M160 49h3M145 67h3M169 62h3M108 109h3M141 80h3M175 48h3M178 48h3M129 75h3M167 112h3M159 136h3M189 60h3M175 99h3M143 100h3M194 69h3M112 130h3M189 45h3M116 153h3M107 142h3M139 147h3M109 104h3M137 127h3M155 76h3M91 88h3M72 85h3M181 56h3M98 132h3M108 116h3M165 85h3M188 63h3M103 135h3M166 138h3M114 150h3M137 124h3M169 37h3M145 115h3M154 45h3M178 51h3M161 78h3M202 126h3M112 141h3M98 127h3M145 138h3M181 59h3M163 133h3M155 106h3M108 117h3M128 90h3M142 79h3M174 89h3M146 91h3M114 144h3M104 146h3M105 137h3M111 134h3M138 71h3M147 96h3M199 64h3M148 117h3M118 146h3M202 82h3M135 69h3M198 50h3M110 142h3M130 99h3M138 53h3M170 51h3M185 54h3M106 115h3M124 65h3M133 137h3M165 64h3M155 65h3M191 102h3M172 70h3M133 104h3M206 125h3M173 103h3M113 137h3M167 43h3M98 139h3M176 82h3M202 94h3M193 48h3M101 146h3M173 93h3M115 143h3M140 113h3M180 53h3M194 67h3M186 82h3M169 82h3M149 103h3M127 163h3M108 69h3M98 78h3M186 81h3M120 99h3M194 90h3M120 83h3M162 30h3M121 109h3M91 126h3M207 66h3M114 117h3M144 104h3M174 134h3M166 93h3M167 107h3M110 87h3M137 135h3M149 118h3M186 57h3M193 45h3M196 61h3M105 94h3M143 80h3M109 128h3M160 77h3M159 126h3M184 59h3M165 99h3M200 61h3M154 66h3M118 92h3M130 128h3M191 54h3M208 70h3M184 120h3M144 91h3M165 92h3M103 73h3M108 70h3M169 101h3M133 133h3M141 112h3M173 175h3M195 82h3M127 132h3M96 133h3M118 112h3M125 122h3M107 108h3M115 80h3M152 141h3M176 70h3M82 130h3M109 99h3M163 60h3M113 138h3M179 58h3M109 106h3M146 113h3M127 85h3M206 57h3M193 46h3M197 54h3M162 73h3M169 66h3M179 62h3M165 54h3M172 62h3M183 46h3M165 75h3M182 60h3M157 65h3M193 51h3M186 56h3M141 68h3M161 66h3M175 62h3M160 56h3M164 66h3M219 31h3M201 46h3M169 64h3M177 58h3M168 58h3M165 51h3M153 80h3M202 36h3M189 60h3M202 41h3M173 48h3M227 41h3M209 50h3M208 49h3M147 76h3M214 42h3M167 59h3M120 77h3M196 46h3M187 52h3M163 55h3M165 58h3M176 56h3M169 62h3M175 46h3M170 64h3M193 61h3M251 33h3M157 50h3M186 60h3M190 57h3M200 65h3M186 47h3M183 60h3M189 59h3M173 49h3M149 62h3M186 51h3M180 58h3M182 61h3M181 61h3M154 59h3M184 50h3M176 55h3M206 59h3M168 50h3M142 57h3M167 67h3M183 48h3M158 65h3M187 44h3M179 64h3M185 67h3M189 46h3M166 46h3M191 51h3M210 50h3M183 67h3M162 72h3M170 55h3M64 189h3M164 212h3M224 181h3M200 227h3M171 121h3" stroke="#ff2020" stroke-width="3" fill="none" opacity=".75"/>
</g></g>
<rect x="118.6" y="606.5" width="65.5" height="65.0" fill="none" stroke="#7a7a7a" stroke-width="0.8"/>
<line x1="148.5" y1="606.5" x2="148.5" y2="671.5" stroke="#6a6a6a" stroke-width="0.8"/>
<line x1="118.6" y1="642.3" x2="184.1" y2="642.3" stroke="#6a6a6a" stroke-width="0.8"/>
<line x1="116.8" y1="671.5" x2="118.6" y2="671.5" stroke="#888" stroke-width="0.6"/>
<text x="116.2" y="671.5" font-size="3.2" text-anchor="middle" fill="#888" transform="rotate(-90 116.2 671.5)">10</text>
<line x1="118.6" y1="671.5" x2="118.6" y2="673.3" stroke="#888" stroke-width="0.6"/>
<text x="118.6" y="676.3" font-size="3.2" text-anchor="middle" fill="#888">10</text>
<line x1="116.8" y1="657.7" x2="118.6" y2="657.7" stroke="#888" stroke-width="0.6"/>
<text x="116.2" y="657.7" font-size="3.2" text-anchor="middle" fill="#888" transform="rotate(-90 116.2 657.7)">10</text>
<line x1="132.35" y1="671.5" x2="132.35" y2="673.3" stroke="#888" stroke-width="0.6"/>
<text x="132.35" y="676.3" font-size="3.2" text-anchor="middle" fill="#888">10</text>
<line x1="116.8" y1="643.9" x2="118.6" y2="643.9" stroke="#888" stroke-width="0.6"/>
<text x="116.2" y="643.9" font-size="3.2" text-anchor="middle" fill="#888" transform="rotate(-90 116.2 643.9)">10</text>
<line x1="146.1" y1="671.5" x2="146.1" y2="673.3" stroke="#888" stroke-width="0.6"/>
<text x="146.1" y="676.3" font-size="3.2" text-anchor="middle" fill="#888">10</text>
<line x1="116.8" y1="630.1" x2="118.6" y2="630.1" stroke="#888" stroke-width="0.6"/>
<text x="116.2" y="630.1" font-size="3.2" text-anchor="middle" fill="#888" transform="rotate(-90 116.2 630.1)">10</text>
<line x1="159.85" y1="671.5" x2="159.85" y2="673.3" stroke="#888" stroke-width="0.6"/>
<text x="159.85" y="676.3" font-size="3.2" text-anchor="middle" fill="#888">10</text>
<line x1="116.8" y1="616.3" x2="118.6" y2="616.3" stroke="#888" stroke-width="0.6"/>
<text x="116.2" y="616.3" font-size="3.2" text-anchor="middle" fill="#888" transform="rotate(-90 116.2 616.3)">10</text>
<line x1="173.6" y1="671.5" x2="173.6" y2="673.3" stroke="#888" stroke-width="0.6"/>
<text x="173.6" y="676.3" font-size="3.2" text-anchor="middle" fill="#888">10</text>
<path d="M118.6 667.36h1M122.72 671.5v-1M118.6 664.88h1M125.2 671.5v-1M118.6 663.22h1M126.85 671.5v-1M118.6 661.84h1M128.22 671.5v-1M118.6 660.74h1M129.32 671.5v-1M118.6 659.77h1M130.29 671.5v-1M118.6 659.08h1M130.97 671.5v-1M118.6 658.39h1M131.66 671.5v-1M118.6 653.56h1M136.47 671.5v-1M118.6 651.08h1M138.95 671.5v-1M118.6 649.42h1M140.6 671.5v-1M118.6 648.04h1M141.97 671.5v-1M118.6 646.94h1M143.07 671.5v-1M118.6 645.97h1M144.04 671.5v-1M118.6 645.28h1M144.72 671.5v-1M118.6 644.59h1M145.41 671.5v-1M118.6 639.76h1M150.22 671.5v-1M118.6 637.28h1M152.7 671.5v-1M118.6 635.62h1M154.35 671.5v-1M118.6 634.24h1M155.72 671.5v-1M118.6 633.14h1M156.82 671.5v-1M118.6 632.17h1M157.79 671.5v-1M118.6 631.48h1M158.47 671.5v-1M118.6 630.79h1M159.16 671.5v-1M118.6 625.96h1M163.97 671.5v-1M118.6 623.48h1M166.45 671.5v-1M118.6 621.82h1M168.1 671.5v-1M118.6 620.44h1M169.47 671.5v-1M118.6 619.34h1M170.57 671.5v-1M118.6 618.37h1M171.54 671.5v-1M118.6 617.68h1M172.22 671.5v-1M118.6 616.99h1M172.91 671.5v-1M118.6 612.16h1M177.72 671.5v-1M118.6 609.68h1M180.2 671.5v-1M118.6 608.02h1M181.85 671.5v-1M118.6 606.64h1M183.22 671.5v-1" stroke="#999" fill="none" stroke-width="0.45"/>
<text x="182.8" y="617.1" font-size="8.7" text-anchor="end" fill="#1a1a1a" stroke="#1a1a1a" stroke-width="0.15">39.75%</text>
<clipPath id="fc8"><rect x="201.1" y="606.5" width="65.5" height="65.0"/></clipPath>
<g clip-path="url(#fc8)"><g transform="translate(201.1 606.5)">
<ellipse cx="18.8" cy="44" rx="12.5" ry="5.5" fill="#ff1010" opacity="0.16" filter="url(#b2)" transform="rotate(-34 18.8 44)"/>
<ellipse cx="19.8" cy="43.2" rx="9.5" ry="3.3" fill="#ff1010" opacity="0.92" filter="url(#b1)" transform="rotate(-34 19.8 43.2)"/>
<path d="M26.87 38.33L29.88 37.51L32.76 36.56L35.48 35.42L38.01 34.06L40.33 32.44L42.42 30.57L44.28 28.43L45.93 26.05L47.4 23.45L48.72 20.69L49.94 17.8L51.1 14.86L47.9 11.14L44.81 11.86L41.78 12.65L38.85 13.55L36.07 14.62L33.47 15.9L31.08 17.43L28.92 19.22L26.99 21.28L25.27 23.58L23.74 26.11L22.37 28.82L21.13 31.67Z" fill="#ff1010" opacity="0.22" filter="url(#b2)"/>
<ellipse cx="43" cy="15.5" rx="7.5" ry="2.8" fill="#ff1010" opacity="0.45" filter="url(#b2)" transform="rotate(-20 43 15.5)"/>
<path transform="scale(.25)" d="M85 192h3M101 151h3M18 224h3M89 161h3M98 158h3M101 165h3M74 154h3M91 141h3M81 159h3M57 178h3M67 192h3M20 207h3M40 202h3M107 163h3M48 163h3M58 200h3M79 202h3M58 225h3M139 124h3M55 184h3M104 167h3M86 214h3M55 204h3M27 198h3M125 160h3M75 151h3M95 177h3M99 169h3M67 169h3M79 224h3M65 169h3M65 195h3M97 174h3M78 167h3M37 192h3M98 138h3M92 171h3M73 200h3M125 164h3M57 164h3M124 161h3M45 165h3M39 204h3M83 176h3M77 169h3M115 181h3M83 147h3M47 192h3M87 171h3M78 162h3M33 213h3M71 179h3M104 166h3M101 136h3M94 163h3M99 147h3M108 131h3M19 216h3M34 148h3M100 164h3M124 174h3M91 157h3M102 171h3M44 170h3M22 204h3M45 200h3M108 170h3M92 122h3M82 148h3M47 152h3M58 160h3M95 187h3M25 220h3M55 205h3M94 200h3M80 207h3M56 168h3M120 168h3M104 164h3M138 152h3M66 191h3M64 169h3M61 207h3M116 125h3M57 186h3M38 211h3M64 180h3M83 169h3M76 146h3M72 182h3M56 148h3M110 138h3M98 153h3M59 192h3M30 206h3M33 225h3M115 156h3M113 157h3M74 163h3M102 153h3M6 223h3M124 139h3M40 200h3M80 153h3M30 185h3M43 199h3M61 196h3M96 174h3M87 148h3M83 169h3M35 213h3M67 164h3M57 181h3M93 172h3M130 157h3M46 209h3M141 141h3M92 196h3M59 203h3M86 171h3M51 201h3M62 156h3M78 192h3M76 150h3M106 168h3M121 149h3M111 181h3M79 162h3M121 142h3M91 184h3M15 232h3M15 190h3M62 209h3M95 151h3M94 167h3M17 204h3M95 150h3M67 168h3M47 164h3M72 163h3M85 194h3M34 181h3M4 243h3M62 198h3M46 198h3M89 162h3M133 173h3M22 204h3M55 200h3M80 167h3M105 183h3M64 144h3M3 212h3M103 137h3M75 185h3M35 190h3M135 164h3M132 102h3M195 88h3M191 83h3M90 120h3M116 36h3M113 112h3M133 117h3M147 146h3M175 106h3M163 99h3M98 136h3M111 119h3M136 91h3M143 63h3M101 131h3M198 152h3M126 123h3M123 121h3M174 41h3M179 37h3M163 97h3M164 84h3M123 135h3M165 104h3M189 58h3M136 118h3M102 134h3M147 112h3M136 147h3M99 96h3M143 138h3M118 126h3M154 90h3M147 155h3M171 81h3M147 146h3M159 81h3M154 75h3M206 79h3M136 133h3M154 118h3M158 55h3M180 93h3M114 135h3M149 60h3M81 90h3M151 76h3M141 134h3M133 75h3M67 64h3M143 59h3M159 46h3M105 86h3M102 128h3M183 87h3M167 50h3M150 116h3M115 112h3M177 56h3M161 132h3M121 77h3M108 138h3M135 71h3M184 49h3M93 129h3M115 96h3M142 50h3M155 59h3M92 107h3M102 142h3M129 124h3M158 171h3M113 117h3M185 66h3M204 103h3M144 94h3M188 63h3M193 127h3M149 92h3M179 72h3M191 87h3M188 103h3M153 96h3M187 83h3M111 60h3M107 84h3M124 130h3M90 113h3M175 56h3M137 138h3M175 59h3M185 115h3M197 55h3M193 153h3M182 69h3M136 47h3M97 85h3M130 134h3M165 68h3M185 83h3M167 72h3M117 147h3M91 118h3M172 72h3M209 79h3M178 81h3M109 124h3M197 64h3M163 71h3M99 80h3M145 64h3M79 120h3M117 112h3M126 110h3M71 103h3M144 85h3M112 142h3M121 61h3M117 163h3M193 52h3M151 135h3M173 48h3M101 119h3M125 124h3M122 114h3M107 102h3M127 39h3M186 103h3M161 77h3M136 147h3M189 74h3M157 76h3M114 131h3M110 131h3M85 105h3M134 144h3M178 81h3M127 119h3M191 80h3M177 61h3M143 71h3M142 92h3M147 138h3M102 74h3M202 60h3M113 138h3M201 58h3M119 119h3M108 67h3M199 58h3M115 134h3M124 172h3M178 61h3M125 146h3M125 95h3M135 116h3M124 148h3M112 137h3M178 55h3M171 115h3M193 52h3M115 146h3M111 119h3M124 143h3M134 93h3M174 73h3M120 65h3M123 88h3M101 139h3M141 99h3M173 99h3M187 81h3M136 93h3M162 135h3M142 62h3M94 99h3M100 124h3M92 129h3M108 111h3M184 66h3M92 91h3M178 133h3M127 159h3M130 108h3M132 79h3M115 121h3M157 75h3M118 146h3M114 136h3M110 117h3M105 143h3M157 100h3M120 105h3M182 69h3M119 140h3M197 68h3M149 101h3M186 47h3M154 126h3M95 109h3M159 98h3M101 123h3M119 107h3M149 151h3M144 80h3M103 114h3M136 142h3M112 105h3M151 85h3M140 111h3M186 84h3M196 114h3M183 76h3M143 52h3M166 108h3M106 148h3M165 46h3M163 68h3M106 143h3M156 81h3M165 50h3M89 113h3M195 151h3M114 71h3M109 106h3M135 123h3M130 96h3M162 160h3M165 78h3M204 69h3M183 47h3M82 86h3M129 112h3M128 123h3M113 115h3M171 58h3M112 146h3M116 118h3M84 116h3M133 125h3M156 61h3M150 62h3M197 49h3M208 56h3M175 80h3M161 68h3M172 57h3M195 55h3M141 83h3M153 65h3M142 69h3M198 54h3M172 64h3M161 83h3M194 46h3M188 54h3M160 72h3M181 63h3M192 69h3M153 59h3M179 51h3M165 69h3M184 57h3M160 56h3M168 72h3M182 56h3M146 72h3M159 63h3M171 51h3M204 53h3M168 78h3M179 56h3M182 59h3M167 67h3M171 53h3M184 56h3M178 66h3M215 35h3M161 61h3M150 78h3M177 50h3M140 62h3M182 52h3M164 66h3M134 81h3M168 58h3M201 72h3M151 63h3M157 55h3M165 63h3M190 62h3M152 65h3M156 67h3M143 69h3M151 57h3M161 64h3M142 61h3M183 57h3M183 57h3M184 65h3M192 42h3M177 57h3M199 42h3M178 66h3M169 58h3M149 66h3M193 56h3M156 70h3M180 72h3M155 68h3M158 81h3M196 60h3M163 72h3M193 56h3M160 61h3M184 71h3M143 72h3M147 88h3M194 56h3M175 58h3M113 183h3M117 123h3M89 132h3M94 27h3M63 196h3" stroke="#ff2020" stroke-width="3" fill="none" opacity=".75"/>
</g></g>
<rect x="201.1" y="606.5" width="65.5" height="65.0" fill="none" stroke="#7a7a7a" stroke-width="0.8"/>
<line x1="231.1" y1="606.5" x2="231.1" y2="671.5" stroke="#6a6a6a" stroke-width="0.8"/>
<line x1="201.1" y1="642.3" x2="266.6" y2="642.3" stroke="#6a6a6a" stroke-width="0.8"/>
<line x1="199.3" y1="671.5" x2="201.1" y2="671.5" stroke="#888" stroke-width="0.6"/>
<text x="198.7" y="671.5" font-size="3.2" text-anchor="middle" fill="#888" transform="rotate(-90 198.7 671.5)">10</text>
<line x1="201.1" y1="671.5" x2="201.1" y2="673.3" stroke="#888" stroke-width="0.6"/>
<text x="201.1" y="676.3" font-size="3.2" text-anchor="middle" fill="#888">10</text>
<line x1="199.3" y1="657.7" x2="201.1" y2="657.7" stroke="#888" stroke-width="0.6"/>
<text x="198.7" y="657.7" font-size="3.2" text-anchor="middle" fill="#888" transform="rotate(-90 198.7 657.7)">10</text>
<line x1="214.85" y1="671.5" x2="214.85" y2="673.3" stroke="#888" stroke-width="0.6"/>
<text x="214.85" y="676.3" font-size="3.2" text-anchor="middle" fill="#888">10</text>
<line x1="199.3" y1="643.9" x2="201.1" y2="643.9" stroke="#888" stroke-width="0.6"/>
<text x="198.7" y="643.9" font-size="3.2" text-anchor="middle" fill="#888" transform="rotate(-90 198.7 643.9)">10</text>
<line x1="228.6" y1="671.5" x2="228.6" y2="673.3" stroke="#888" stroke-width="0.6"/>
<text x="228.6" y="676.3" font-size="3.2" text-anchor="middle" fill="#888">10</text>
<line x1="199.3" y1="630.1" x2="201.1" y2="630.1" stroke="#888" stroke-width="0.6"/>
<text x="198.7" y="630.1" font-size="3.2" text-anchor="middle" fill="#888" transform="rotate(-90 198.7 630.1)">10</text>
<line x1="242.35" y1="671.5" x2="242.35" y2="673.3" stroke="#888" stroke-width="0.6"/>
<text x="242.35" y="676.3" font-size="3.2" text-anchor="middle" fill="#888">10</text>
<line x1="199.3" y1="616.3" x2="201.1" y2="616.3" stroke="#888" stroke-width="0.6"/>
<text x="198.7" y="616.3" font-size="3.2" text-anchor="middle" fill="#888" transform="rotate(-90 198.7 616.3)">10</text>
<line x1="256.1" y1="671.5" x2="256.1" y2="673.3" stroke="#888" stroke-width="0.6"/>
<text x="256.1" y="676.3" font-size="3.2" text-anchor="middle" fill="#888">10</text>
<path d="M201.1 667.36h1M205.22 671.5v-1M201.1 664.88h1M207.7 671.5v-1M201.1 663.22h1M209.35 671.5v-1M201.1 661.84h1M210.72 671.5v-1M201.1 660.74h1M211.82 671.5v-1M201.1 659.77h1M212.79 671.5v-1M201.1 659.08h1M213.47 671.5v-1M201.1 658.39h1M214.16 671.5v-1M201.1 653.56h1M218.97 671.5v-1M201.1 651.08h1M221.45 671.5v-1M201.1 649.42h1M223.1 671.5v-1M201.1 648.04h1M224.47 671.5v-1M201.1 646.94h1M225.57 671.5v-1M201.1 645.97h1M226.54 671.5v-1M201.1 645.28h1M227.22 671.5v-1M201.1 644.59h1M227.91 671.5v-1M201.1 639.76h1M232.72 671.5v-1M201.1 637.28h1M235.2 671.5v-1M201.1 635.62h1M236.85 671.5v-1M201.1 634.24h1M238.22 671.5v-1M201.1 633.14h1M239.32 671.5v-1M201.1 632.17h1M240.29 671.5v-1M201.1 631.48h1M240.97 671.5v-1M201.1 630.79h1M241.66 671.5v-1M201.1 625.96h1M246.47 671.5v-1M201.1 623.48h1M248.95 671.5v-1M201.1 621.82h1M250.6 671.5v-1M201.1 620.44h1M251.97 671.5v-1M201.1 619.34h1M253.07 671.5v-1M201.1 618.37h1M254.04 671.5v-1M201.1 617.68h1M254.72 671.5v-1M201.1 616.99h1M255.41 671.5v-1M201.1 612.16h1M260.23 671.5v-1M201.1 609.68h1M262.7 671.5v-1M201.1 608.02h1M264.35 671.5v-1M201.1 606.64h1M265.73 671.5v-1" stroke="#999" fill="none" stroke-width="0.45"/>
<text x="265.3" y="617.1" font-size="8.7" text-anchor="end" fill="#1a1a1a" stroke="#1a1a1a" stroke-width="0.15">30.39%</text>
<clipPath id="fc9"><rect x="284.9" y="606.5" width="65.5" height="65.0"/></clipPath>
<g clip-path="url(#fc9)"><g transform="translate(284.9 606.5)">
<ellipse cx="19.3" cy="43.5" rx="12.5" ry="5.5" fill="#ff1010" opacity="0.16" filter="url(#b2)" transform="rotate(-33 19.3 43.5)"/>
<ellipse cx="20.3" cy="42.7" rx="9" ry="3.3" fill="#ff1010" opacity="0.92" filter="url(#b1)" transform="rotate(-33 20.3 42.7)"/>
<path d="M26.22 39.05L29.25 38.01L32.18 36.85L34.96 35.52L37.55 33.99L39.93 32.22L42.11 30.21L44.07 27.97L45.83 25.5L47.41 22.84L48.86 20.02L50.21 17.09L51.51 14.1L48.49 10.7L45.37 11.65L42.3 12.65L39.34 13.76L36.51 15.03L33.85 16.5L31.39 18.19L29.15 20.11L27.12 22.28L25.29 24.68L23.65 27.28L22.16 30.05L20.78 32.95Z" fill="#ff1010" opacity="0.28" filter="url(#b2)"/>
<ellipse cx="43" cy="14.5" rx="7.5" ry="2.8" fill="#ff1010" opacity="0.6" filter="url(#b2)" transform="rotate(-20 43 14.5)"/>
<path transform="scale(.25)" d="M48 233h3M62 185h3M77 163h3M44 183h3M61 197h3M111 141h3M89 176h3M64 162h3M62 206h3M68 191h3M112 171h3M82 181h3M83 175h3M80 177h3M44 196h3M107 144h3M44 190h3M92 204h3M102 143h3M36 196h3M112 153h3M80 163h3M90 153h3M36 196h3M52 187h3M137 120h3M94 146h3M30 194h3M89 162h3M80 203h3M120 179h3M65 167h3M50 192h3M53 208h3M38 180h3M53 159h3M100 181h3M73 157h3M32 220h3M112 170h3M124 156h3M47 210h3M55 176h3M105 191h3M53 211h3M119 160h3M80 157h3M72 215h3M76 158h3M78 180h3M37 214h3M95 169h3M152 115h3M86 140h3M122 138h3M83 156h3M73 164h3M104 151h3M56 201h3M88 169h3M70 169h3M64 174h3M39 199h3M81 147h3M77 151h3M50 174h3M110 173h3M59 191h3M61 205h3M71 182h3M55 180h3M97 165h3M47 165h3M75 184h3M126 179h3M78 169h3M156 146h3M76 182h3M131 143h3M78 188h3M96 186h3M55 154h3M46 203h3M86 151h3M55 194h3M46 184h3M49 187h3M107 147h3M101 161h3M29 206h3M67 170h3M47 178h3M93 194h3M29 162h3M17 219h3M50 159h3M63 160h3M98 143h3M9 195h3M129 123h3M91 133h3M69 192h3M32 203h3M113 162h3M90 176h3M81 143h3M32 202h3M56 183h3M85 151h3M67 209h3M121 149h3M81 153h3M61 169h3M132 137h3M119 141h3M104 153h3M112 145h3M40 223h3M76 178h3M93 159h3M89 164h3M116 155h3M43 198h3M91 154h3M98 144h3M142 114h3M129 142h3M28 217h3M91 162h3M61 202h3M66 175h3M100 158h3M46 197h3M72 155h3M98 166h3M119 177h3M102 177h3M51 182h3M95 190h3M56 166h3M145 123h3M57 182h3M46 195h3M74 160h3M119 178h3M80 216h3M116 155h3M60 209h3M72 124h3M45 212h3M46 182h3M91 194h3M34 193h3M112 126h3M101 144h3M52 176h3M86 166h3M147 77h3M112 75h3M161 95h3M170 40h3M163 48h3M143 99h3M161 158h3M176 55h3M177 57h3M109 130h3M121 85h3M176 84h3M192 85h3M165 93h3M183 59h3M109 134h3M150 134h3M100 87h3M137 165h3M190 52h3M175 51h3M191 95h3M192 54h3M141 45h3M205 72h3M162 53h3M175 81h3M200 69h3M152 70h3M121 133h3M111 71h3M205 56h3M145 58h3M171 79h3M101 143h3M196 50h3M124 143h3M155 92h3M191 69h3M150 67h3M128 149h3M87 94h3M194 50h3M107 124h3M192 45h3M132 124h3M122 76h3M165 101h3M164 96h3M189 58h3M180 182h3M187 76h3M198 78h3M182 56h3M131 64h3M84 97h3M149 103h3M112 69h3M136 101h3M141 117h3M201 72h3M137 140h3M101 132h3M198 59h3M97 105h3M105 134h3M125 129h3M99 123h3M108 120h3M179 74h3M192 53h3M199 48h3M124 96h3M150 38h3M128 137h3M113 34h3M113 62h3M100 134h3M177 95h3M170 111h3M210 83h3M90 122h3M201 83h3M183 90h3M142 115h3M196 98h3M198 52h3M119 92h3M176 73h3M168 87h3M180 71h3M114 137h3M170 130h3M186 78h3M98 122h3M98 119h3M202 53h3M187 61h3M177 45h3M108 139h3M198 55h3M140 115h3M109 130h3M196 53h3M165 122h3M157 120h3M155 107h3M172 85h3M176 77h3M195 55h3M147 142h3M177 155h3M202 58h3M152 97h3M123 104h3M175 90h3M189 93h3M96 143h3M123 119h3M109 122h3M138 43h3M109 122h3M200 65h3M76 113h3M128 134h3M121 133h3M123 69h3M92 141h3M144 122h3M153 49h3M133 105h3M198 47h3M209 94h3M99 99h3M182 66h3M144 118h3M143 55h3M189 76h3M81 88h3M121 91h3M114 81h3M130 78h3M195 70h3M101 147h3M174 62h3M98 108h3M153 73h3M114 127h3M138 87h3M117 85h3M174 80h3M197 51h3M198 51h3M112 138h3M137 140h3M171 72h3M166 95h3M126 93h3M181 66h3M199 58h3M107 100h3M165 73h3M93 140h3M160 55h3M147 84h3M192 123h3M187 47h3M147 93h3M182 65h3M130 103h3M94 140h3M181 92h3M114 153h3M201 95h3M167 53h3M176 106h3M137 106h3M134 153h3M189 48h3M158 134h3M111 57h3M157 76h3M177 67h3M115 143h3M92 113h3M92 134h3M150 103h3M182 58h3M199 69h3M179 146h3M101 106h3M196 60h3M107 71h3M126 103h3M186 78h3M209 60h3M161 46h3M139 92h3M165 69h3M184 97h3M155 79h3M172 47h3M186 97h3M133 77h3M148 93h3M123 108h3M167 114h3M185 44h3M182 74h3M197 92h3M170 69h3M166 133h3M210 65h3M121 125h3M104 127h3M111 145h3M112 152h3M163 29h3M158 131h3M102 133h3M133 116h3M115 88h3M162 70h3M191 40h3M88 137h3M190 46h3M193 56h3M92 140h3M161 69h3M166 161h3M173 100h3M103 82h3M132 142h3M161 117h3M92 89h3M149 137h3M206 70h3M203 55h3M169 65h3M89 123h3M182 59h3M195 46h3M185 56h3M163 56h3M188 51h3M197 35h3M181 47h3M150 67h3M179 55h3M186 63h3M165 52h3M179 59h3M183 51h3M174 59h3M173 63h3M174 53h3M143 63h3M201 42h3M186 50h3M177 52h3M194 45h3M174 51h3M145 66h3M124 64h3M162 60h3M118 79h3M206 45h3M209 32h3M184 39h3M120 78h3M173 53h3M142 76h3M159 60h3M180 52h3M161 59h3M178 61h3M159 56h3M196 54h3M174 55h3M146 68h3M143 73h3M166 58h3M175 60h3M175 58h3M186 38h3M180 61h3M150 66h3M205 49h3M179 57h3M171 56h3M166 54h3M191 41h3M187 52h3M156 52h3M162 66h3M175 51h3M170 55h3M179 66h3M160 60h3M183 49h3M156 65h3M170 66h3M185 59h3M187 49h3M170 60h3M193 57h3M158 67h3M193 53h3M172 50h3M169 48h3M167 59h3M169 70h3M161 52h3M177 65h3M174 55h3M208 43h3M148 75h3M160 58h3M218 41h3M152 51h3M99 177h3M105 198h3M93 104h3M226 181h3M109 214h3" stroke="#ff2020" stroke-width="3" fill="none" opacity=".75"/>
</g></g>
<rect x="284.9" y="606.5" width="65.5" height="65.0" fill="none" stroke="#7a7a7a" stroke-width="0.8"/>
<line x1="314.9" y1="606.5" x2="314.9" y2="671.5" stroke="#6a6a6a" stroke-width="0.8"/>
<line x1="284.9" y1="642.3" x2="350.4" y2="642.3" stroke="#6a6a6a" stroke-width="0.8"/>
<line x1="283.1" y1="671.5" x2="284.9" y2="671.5" stroke="#888" stroke-width="0.6"/>
<text x="282.5" y="671.5" font-size="3.2" text-anchor="middle" fill="#888" transform="rotate(-90 282.5 671.5)">10</text>
<line x1="284.9" y1="671.5" x2="284.9" y2="673.3" stroke="#888" stroke-width="0.6"/>
<text x="284.9" y="676.3" font-size="3.2" text-anchor="middle" fill="#888">10</text>
<line x1="283.1" y1="657.7" x2="284.9" y2="657.7" stroke="#888" stroke-width="0.6"/>
<text x="282.5" y="657.7" font-size="3.2" text-anchor="middle" fill="#888" transform="rotate(-90 282.5 657.7)">10</text>
<line x1="298.65" y1="671.5" x2="298.65" y2="673.3" stroke="#888" stroke-width="0.6"/>
<text x="298.65" y="676.3" font-size="3.2" text-anchor="middle" fill="#888">10</text>
<line x1="283.1" y1="643.9" x2="284.9" y2="643.9" stroke="#888" stroke-width="0.6"/>
<text x="282.5" y="643.9" font-size="3.2" text-anchor="middle" fill="#888" transform="rotate(-90 282.5 643.9)">10</text>
<line x1="312.4" y1="671.5" x2="312.4" y2="673.3" stroke="#888" stroke-width="0.6"/>
<text x="312.4" y="676.3" font-size="3.2" text-anchor="middle" fill="#888">10</text>
<line x1="283.1" y1="630.1" x2="284.9" y2="630.1" stroke="#888" stroke-width="0.6"/>
<text x="282.5" y="630.1" font-size="3.2" text-anchor="middle" fill="#888" transform="rotate(-90 282.5 630.1)">10</text>
<line x1="326.15" y1="671.5" x2="326.15" y2="673.3" stroke="#888" stroke-width="0.6"/>
<text x="326.15" y="676.3" font-size="3.2" text-anchor="middle" fill="#888">10</text>
<line x1="283.1" y1="616.3" x2="284.9" y2="616.3" stroke="#888" stroke-width="0.6"/>
<text x="282.5" y="616.3" font-size="3.2" text-anchor="middle" fill="#888" transform="rotate(-90 282.5 616.3)">10</text>
<line x1="339.9" y1="671.5" x2="339.9" y2="673.3" stroke="#888" stroke-width="0.6"/>
<text x="339.9" y="676.3" font-size="3.2" text-anchor="middle" fill="#888">10</text>
<path d="M284.9 667.36h1M289.02 671.5v-1M284.9 664.88h1M291.5 671.5v-1M284.9 663.22h1M293.15 671.5v-1M284.9 661.84h1M294.52 671.5v-1M284.9 660.74h1M295.62 671.5v-1M284.9 659.77h1M296.59 671.5v-1M284.9 659.08h1M297.27 671.5v-1M284.9 658.39h1M297.96 671.5v-1M284.9 653.56h1M302.77 671.5v-1M284.9 651.08h1M305.25 671.5v-1M284.9 649.42h1M306.9 671.5v-1M284.9 648.04h1M308.27 671.5v-1M284.9 646.94h1M309.38 671.5v-1M284.9 645.97h1M310.34 671.5v-1M284.9 645.28h1M311.02 671.5v-1M284.9 644.59h1M311.71 671.5v-1M284.9 639.76h1M316.52 671.5v-1M284.9 637.28h1M319 671.5v-1M284.9 635.62h1M320.65 671.5v-1M284.9 634.24h1M322.02 671.5v-1M284.9 633.14h1M323.12 671.5v-1M284.9 632.17h1M324.09 671.5v-1M284.9 631.48h1M324.77 671.5v-1M284.9 630.79h1M325.46 671.5v-1M284.9 625.96h1M330.27 671.5v-1M284.9 623.48h1M332.75 671.5v-1M284.9 621.82h1M334.4 671.5v-1M284.9 620.44h1M335.77 671.5v-1M284.9 619.34h1M336.88 671.5v-1M284.9 618.37h1M337.84 671.5v-1M284.9 617.68h1M338.52 671.5v-1M284.9 616.99h1M339.21 671.5v-1M284.9 612.16h1M344.02 671.5v-1M284.9 609.68h1M346.5 671.5v-1M284.9 608.02h1M348.15 671.5v-1M284.9 606.64h1M349.52 671.5v-1" stroke="#999" fill="none" stroke-width="0.45"/>
<text x="349.1" y="617.1" font-size="8.7" text-anchor="end" fill="#1a1a1a" stroke="#1a1a1a" stroke-width="0.15">41.31%</text>
<clipPath id="fc10"><rect x="367.2" y="606.5" width="65.5" height="65.0"/></clipPath>
<g clip-path="url(#fc10)"><g transform="translate(367.2 606.5)">
<ellipse cx="18.8" cy="44" rx="12.5" ry="5.5" fill="#ff1010" opacity="0.16" filter="url(#b2)" transform="rotate(-35 18.8 44)"/>
<ellipse cx="19.8" cy="43.2" rx="9" ry="3.3" fill="#ff1010" opacity="0.92" filter="url(#b1)" transform="rotate(-35 19.8 43.2)"/>
<path d="M27.72 39.11L30.47 37.91L33.11 36.59L35.59 35.14L37.89 33.51L39.99 31.68L41.87 29.64L43.53 27.4L45 24.98L46.3 22.38L47.45 19.65L48.51 16.83L49.52 13.95L46.48 11.05L43.66 12.17L40.88 13.35L38.2 14.62L35.66 16.02L33.3 17.6L31.13 19.36L29.18 21.32L27.44 23.49L25.91 25.86L24.56 28.41L23.36 31.09L22.28 33.89Z" fill="#ff1010" opacity="0.18" filter="url(#b2)"/>
<ellipse cx="43" cy="15" rx="7.5" ry="2.8" fill="#ff1010" opacity="0.42" filter="url(#b2)" transform="rotate(-20 43 15)"/>
<path transform="scale(.25)" d="M115 176h3M117 167h3M91 177h3M68 202h3M65 174h3M88 196h3M80 186h3M103 159h3M45 183h3M49 168h3M57 168h3M55 181h3M140 135h3M71 193h3M98 157h3M87 185h3M156 103h3M92 168h3M39 196h3M62 210h3M67 177h3M101 165h3M62 218h3M76 211h3M61 183h3M130 145h3M102 173h3M109 177h3M16 243h3M63 182h3M114 173h3M64 203h3M52 214h3M97 160h3M87 152h3M72 131h3M97 166h3M115 139h3M41 219h3M67 169h3M58 198h3M115 160h3M89 188h3M42 201h3M122 157h3M94 184h3M103 145h3M59 222h3M85 163h3M79 155h3M50 207h3M44 173h3M16 213h3M72 187h3M34 189h3M96 195h3M77 177h3M81 192h3M90 157h3M96 179h3M89 149h3M73 198h3M78 171h3M76 185h3M36 194h3M146 162h3M27 166h3M37 206h3M70 184h3M7 200h3M69 187h3M53 202h3M130 137h3M71 172h3M52 200h3M67 179h3M57 193h3M70 182h3M99 173h3M126 156h3M70 181h3M42 214h3M62 156h3M75 174h3M81 167h3M57 190h3M106 149h3M91 168h3M129 129h3M68 154h3M58 184h3M104 187h3M37 201h3M88 157h3M58 168h3M40 204h3M142 151h3M66 166h3M45 209h3M75 185h3M131 99h3M50 188h3M87 157h3M83 167h3M118 163h3M116 158h3M58 198h3M68 182h3M104 168h3M48 207h3M52 189h3M112 134h3M118 142h3M72 188h3M62 160h3M49 193h3M105 144h3M56 176h3M74 196h3M62 184h3M83 164h3M54 183h3M34 187h3M50 213h3M90 197h3M48 231h3M57 184h3M69 186h3M66 185h3M38 172h3M69 189h3M130 153h3M66 179h3M102 165h3M80 178h3M92 181h3M104 194h3M54 235h3M71 189h3M85 161h3M100 180h3M48 199h3M137 129h3M128 140h3M76 180h3M26 215h3M63 190h3M101 149h3M70 181h3M38 173h3M100 127h3M108 164h3M89 184h3M44 195h3M105 167h3M78 195h3M64 223h3M93 157h3M99 167h3M159 77h3M100 138h3M178 68h3M183 118h3M117 127h3M88 79h3M91 83h3M189 66h3M170 115h3M147 69h3M115 131h3M197 95h3M103 134h3M88 115h3M136 90h3M156 167h3M168 58h3M176 64h3M128 134h3M182 93h3M162 86h3M181 61h3M178 103h3M157 55h3M98 116h3M124 87h3M158 77h3M135 81h3M106 132h3M149 86h3M132 114h3M183 71h3M100 130h3M180 69h3M94 114h3M138 158h3M71 86h3M83 115h3M171 82h3M124 107h3M94 140h3M193 54h3M187 47h3M190 55h3M196 55h3M136 103h3M117 121h3M180 73h3M106 127h3M117 123h3M142 58h3M177 84h3M177 48h3M154 135h3M134 44h3M97 141h3M185 85h3M101 69h3M157 83h3M169 75h3M146 97h3M117 57h3M88 125h3M145 170h3M160 152h3M101 147h3M100 142h3M196 70h3M112 133h3M104 127h3M150 78h3M180 101h3M178 42h3M119 158h3M104 126h3M122 122h3M118 96h3M144 53h3M117 112h3M172 116h3M155 91h3M126 134h3M130 120h3M120 103h3M96 121h3M170 127h3M152 122h3M100 121h3M136 122h3M132 126h3M103 146h3M187 55h3M174 89h3M186 62h3M138 88h3M118 141h3M171 88h3M120 102h3M198 131h3M124 115h3M94 123h3M123 147h3M158 91h3M190 53h3M99 139h3M182 65h3M174 58h3M117 76h3M185 49h3M155 55h3M141 127h3M192 62h3M109 133h3M111 99h3M155 145h3M159 69h3M103 49h3M102 118h3M149 97h3M136 127h3M174 89h3M161 74h3M182 94h3M180 55h3M186 47h3M174 84h3M138 99h3M193 65h3M117 155h3M161 132h3M151 118h3M146 91h3M183 61h3M146 68h3M161 96h3M188 64h3M129 132h3M177 58h3M158 96h3M174 106h3M171 88h3M104 145h3M147 85h3M114 121h3M154 72h3M202 104h3M188 60h3M175 76h3M106 146h3M174 98h3M146 69h3M133 131h3M179 63h3M167 99h3M113 134h3M164 95h3M170 104h3M107 139h3M128 68h3M93 108h3M133 67h3M150 86h3M101 71h3M151 80h3M185 58h3M159 102h3M143 89h3M79 74h3M103 104h3M159 62h3M126 130h3M109 117h3M107 67h3M100 112h3M150 53h3M160 88h3M154 47h3M192 55h3M183 42h3M133 129h3M161 114h3M140 95h3M84 101h3M117 121h3M105 110h3M120 98h3M99 142h3M104 141h3M157 62h3M166 128h3M158 66h3M149 170h3M183 79h3M166 107h3M122 110h3M123 158h3M181 63h3M112 147h3M107 127h3M92 122h3M182 90h3M187 83h3M147 77h3M161 105h3M151 52h3M181 95h3M154 108h3M143 130h3M208 118h3M177 54h3M171 72h3M151 64h3M128 117h3M180 87h3M182 138h3M182 68h3M110 71h3M105 139h3M194 63h3M87 117h3M164 42h3M95 135h3M130 140h3M132 154h3M149 86h3M173 96h3M178 51h3M199 80h3M163 69h3M105 128h3M119 125h3M175 77h3M121 92h3M171 71h3M135 80h3M132 96h3M91 136h3M140 100h3M150 133h3M175 77h3M208 51h3M202 58h3M150 77h3M191 57h3M149 76h3M196 51h3M206 56h3M185 62h3M183 53h3M154 58h3M190 57h3M184 51h3M177 60h3M184 59h3M195 57h3M179 61h3M182 65h3M157 65h3M195 57h3M159 86h3M177 58h3M193 49h3M165 72h3M155 64h3M141 66h3M150 64h3M196 48h3M149 69h3M170 66h3M164 65h3M152 59h3M198 52h3M157 68h3M202 55h3M198 52h3M176 46h3M165 61h3M182 60h3M173 62h3M190 45h3M180 53h3M160 77h3M165 58h3M178 57h3M165 56h3M196 53h3M157 67h3M172 69h3M141 71h3M195 51h3M157 64h3M165 71h3M183 61h3M155 57h3M138 59h3M135 79h3M191 51h3M194 53h3M150 73h3M165 77h3M148 78h3M179 56h3M193 41h3M178 49h3M143 73h3M177 60h3M160 71h3M174 59h3M174 61h3M140 67h3M214 40h3M146 66h3M194 64h3M171 65h3M180 63h3M172 41h3M188 57h3M216 42h3M199 60h3M137 84h3M135 217h3M220 126h3M164 170h3M26 221h3M30 127h3" stroke="#ff2020" stroke-width="3" fill="none" opacity=".75"/>
</g></g>
<rect x="367.2" y="606.5" width="65.5" height="65.0" fill="none" stroke="#7a7a7a" stroke-width="0.8"/>
<line x1="397.1" y1="606.5" x2="397.1" y2="671.5" stroke="#6a6a6a" stroke-width="0.8"/>
<line x1="367.2" y1="642.3" x2="432.7" y2="642.3" stroke="#6a6a6a" stroke-width="0.8"/>
<line x1="365.4" y1="671.5" x2="367.2" y2="671.5" stroke="#888" stroke-width="0.6"/>
<text x="364.8" y="671.5" font-size="3.2" text-anchor="middle" fill="#888" transform="rotate(-90 364.8 671.5)">10</text>
<line x1="367.2" y1="671.5" x2="367.2" y2="673.3" stroke="#888" stroke-width="0.6"/>
<text x="367.2" y="676.3" font-size="3.2" text-anchor="middle" fill="#888">10</text>
<line x1="365.4" y1="657.7" x2="367.2" y2="657.7" stroke="#888" stroke-width="0.6"/>
<text x="364.8" y="657.7" font-size="3.2" text-anchor="middle" fill="#888" transform="rotate(-90 364.8 657.7)">10</text>
<line x1="380.95" y1="671.5" x2="380.95" y2="673.3" stroke="#888" stroke-width="0.6"/>
<text x="380.95" y="676.3" font-size="3.2" text-anchor="middle" fill="#888">10</text>
<line x1="365.4" y1="643.9" x2="367.2" y2="643.9" stroke="#888" stroke-width="0.6"/>
<text x="364.8" y="643.9" font-size="3.2" text-anchor="middle" fill="#888" transform="rotate(-90 364.8 643.9)">10</text>
<line x1="394.7" y1="671.5" x2="394.7" y2="673.3" stroke="#888" stroke-width="0.6"/>
<text x="394.7" y="676.3" font-size="3.2" text-anchor="middle" fill="#888">10</text>
<line x1="365.4" y1="630.1" x2="367.2" y2="630.1" stroke="#888" stroke-width="0.6"/>
<text x="364.8" y="630.1" font-size="3.2" text-anchor="middle" fill="#888" transform="rotate(-90 364.8 630.1)">10</text>
<line x1="408.45" y1="671.5" x2="408.45" y2="673.3" stroke="#888" stroke-width="0.6"/>
<text x="408.45" y="676.3" font-size="3.2" text-anchor="middle" fill="#888">10</text>
<line x1="365.4" y1="616.3" x2="367.2" y2="616.3" stroke="#888" stroke-width="0.6"/>
<text x="364.8" y="616.3" font-size="3.2" text-anchor="middle" fill="#888" transform="rotate(-90 364.8 616.3)">10</text>
<line x1="422.2" y1="671.5" x2="422.2" y2="673.3" stroke="#888" stroke-width="0.6"/>
<text x="422.2" y="676.3" font-size="3.2" text-anchor="middle" fill="#888">10</text>
<path d="M367.2 667.36h1M371.32 671.5v-1M367.2 664.88h1M373.8 671.5v-1M367.2 663.22h1M375.45 671.5v-1M367.2 661.84h1M376.82 671.5v-1M367.2 660.74h1M377.93 671.5v-1M367.2 659.77h1M378.89 671.5v-1M367.2 659.08h1M379.57 671.5v-1M367.2 658.39h1M380.26 671.5v-1M367.2 653.56h1M385.07 671.5v-1M367.2 651.08h1M387.55 671.5v-1M367.2 649.42h1M389.2 671.5v-1M367.2 648.04h1M390.57 671.5v-1M367.2 646.94h1M391.68 671.5v-1M367.2 645.97h1M392.64 671.5v-1M367.2 645.28h1M393.32 671.5v-1M367.2 644.59h1M394.01 671.5v-1M367.2 639.76h1M398.82 671.5v-1M367.2 637.28h1M401.3 671.5v-1M367.2 635.62h1M402.95 671.5v-1M367.2 634.24h1M404.32 671.5v-1M367.2 633.14h1M405.43 671.5v-1M367.2 632.17h1M406.39 671.5v-1M367.2 631.48h1M407.07 671.5v-1M367.2 630.79h1M407.76 671.5v-1M367.2 625.96h1M412.57 671.5v-1M367.2 623.48h1M415.05 671.5v-1M367.2 621.82h1M416.7 671.5v-1M367.2 620.44h1M418.07 671.5v-1M367.2 619.34h1M419.18 671.5v-1M367.2 618.37h1M420.14 671.5v-1M367.2 617.68h1M420.82 671.5v-1M367.2 616.99h1M421.51 671.5v-1M367.2 612.16h1M426.32 671.5v-1M367.2 609.68h1M428.8 671.5v-1M367.2 608.02h1M430.45 671.5v-1M367.2 606.64h1M431.82 671.5v-1" stroke="#999" fill="none" stroke-width="0.45"/>
<text x="431.4" y="617.1" font-size="8.7" text-anchor="end" fill="#1a1a1a" stroke="#1a1a1a" stroke-width="0.15">21.27%</text>
<rect x="499.7" y="636.71" width="9.6" height="35.79" fill="#F54242"/>
<rect x="516.1" y="591.9" width="9.6" height="80.6" fill="#47E11F"/>
<rect x="533" y="589.33" width="9.6" height="83.17" fill="#FA55FA"/>
<rect x="549.8" y="591.9" width="9.6" height="80.6" fill="#EC9C4B"/>
<rect x="566.1" y="617.65" width="9.6" height="54.85" fill="#7CFDC5"/>
<rect x="593.9" y="618.94" width="9.6" height="53.56" fill="#F54242"/>
<rect x="610.4" y="570.01" width="9.6" height="102.48" fill="#47E11F"/>
<rect x="627.1" y="591.39" width="9.6" height="81.11" fill="#FA55FA"/>
<rect x="643.9" y="568.99" width="9.6" height="103.52" fill="#EC9C4B"/>
<rect x="660.4" y="615.08" width="9.6" height="57.42" fill="#7CFDC5"/>
<line x1="493.5" y1="543.25" x2="493.5" y2="672.5" stroke="#333333" stroke-width="1"/>
<line x1="489.5" y1="672.5" x2="493.5" y2="672.5" stroke="#333333" stroke-width="1"/>
<text x="489" y="675.6" font-size="9.0" text-anchor="end" fill="#222" stroke="#222" stroke-width="0.15">0</text>
<line x1="489.5" y1="646.75" x2="493.5" y2="646.75" stroke="#333333" stroke-width="1"/>
<text x="489" y="649.85" font-size="9.0" text-anchor="end" fill="#222" stroke="#222" stroke-width="0.15">10</text>
<line x1="489.5" y1="621" x2="493.5" y2="621" stroke="#333333" stroke-width="1"/>
<text x="489" y="624.1" font-size="9.0" text-anchor="end" fill="#222" stroke="#222" stroke-width="0.15">20</text>
<line x1="489.5" y1="595.25" x2="493.5" y2="595.25" stroke="#333333" stroke-width="1"/>
<text x="489" y="598.35" font-size="9.0" text-anchor="end" fill="#222" stroke="#222" stroke-width="0.15">30</text>
<line x1="489.5" y1="569.5" x2="493.5" y2="569.5" stroke="#333333" stroke-width="1"/>
<text x="489" y="572.6" font-size="9.0" text-anchor="end" fill="#222" stroke="#222" stroke-width="0.15">40</text>
<line x1="489.5" y1="543.75" x2="493.5" y2="543.75" stroke="#333333" stroke-width="1"/>
<text x="489" y="546.85" font-size="9.0" text-anchor="end" fill="#222" stroke="#222" stroke-width="0.15">50</text>
<line x1="493" y1="672.5" x2="676.7" y2="672.5" stroke="#333333" stroke-width="1"/>
<line x1="537.3" y1="672.5" x2="537.3" y2="676" stroke="#666" stroke-width="1"/>
<line x1="631.3" y1="672.5" x2="631.3" y2="676" stroke="#666" stroke-width="1"/>
<text x="472" y="607.4" font-size="10.5" text-anchor="middle" fill="#1a1a1a" stroke="#1a1a1a" stroke-width="0.15" transform="rotate(-90 472 607.4)">Ki67<tspan font-size="7" dy="-4">+</tspan><tspan dy="4"> CD45</tspan><tspan font-size="7" dy="-4">+</tspan><tspan dy="4"> (%)</tspan></text>
<text x="537.3" y="689.6" font-size="10" text-anchor="middle" fill="#1a1a1a" stroke="#1a1a1a" stroke-width="0.15">Liver</text>
<text x="633" y="689.6" font-size="10" text-anchor="middle" fill="#1a1a1a" stroke="#1a1a1a" stroke-width="0.15">Spleen</text>
<line x1="504.2" y1="628.1" x2="504.2" y2="642.7" stroke="#111" stroke-width="0.9"/>
<line x1="501.4" y1="628.1" x2="507" y2="628.1" stroke="#111" stroke-width="0.9"/>
<line x1="501.4" y1="642.7" x2="507" y2="642.7" stroke="#111" stroke-width="0.9"/>
<line x1="520.8" y1="575.6" x2="520.8" y2="606.5" stroke="#111" stroke-width="0.9"/>
<line x1="518" y1="575.6" x2="523.6" y2="575.6" stroke="#111" stroke-width="0.9"/>
<line x1="518" y1="606.5" x2="523.6" y2="606.5" stroke="#111" stroke-width="0.9"/>
<line x1="537.5" y1="579.8" x2="537.5" y2="596.5" stroke="#111" stroke-width="0.9"/>
<line x1="534.7" y1="579.8" x2="540.3" y2="579.8" stroke="#111" stroke-width="0.9"/>
<line x1="534.7" y1="596.5" x2="540.3" y2="596.5" stroke="#111" stroke-width="0.9"/>
<line x1="554.2" y1="574.2" x2="554.2" y2="608.3" stroke="#111" stroke-width="0.9"/>
<line x1="551.4" y1="574.2" x2="557" y2="574.2" stroke="#111" stroke-width="0.9"/>
<line x1="551.4" y1="608.3" x2="557" y2="608.3" stroke="#111" stroke-width="0.9"/>
<line x1="570.8" y1="609.4" x2="570.8" y2="624.2" stroke="#111" stroke-width="0.9"/>
<line x1="568" y1="609.4" x2="573.6" y2="609.4" stroke="#111" stroke-width="0.9"/>
<line x1="568" y1="624.2" x2="573.6" y2="624.2" stroke="#111" stroke-width="0.9"/>
<line x1="599.2" y1="612.1" x2="599.2" y2="624.2" stroke="#111" stroke-width="0.9"/>
<line x1="596.4" y1="612.1" x2="602" y2="612.1" stroke="#111" stroke-width="0.9"/>
<line x1="596.4" y1="624.2" x2="602" y2="624.2" stroke="#111" stroke-width="0.9"/>
<line x1="615.8" y1="555.8" x2="615.8" y2="582.5" stroke="#111" stroke-width="0.9"/>
<line x1="613" y1="555.8" x2="618.6" y2="555.8" stroke="#111" stroke-width="0.9"/>
<line x1="613" y1="582.5" x2="618.6" y2="582.5" stroke="#111" stroke-width="0.9"/>
<line x1="631.9" y1="578.3" x2="631.9" y2="602.7" stroke="#111" stroke-width="0.9"/>
<line x1="629.1" y1="578.3" x2="634.7" y2="578.3" stroke="#111" stroke-width="0.9"/>
<line x1="629.1" y1="602.7" x2="634.7" y2="602.7" stroke="#111" stroke-width="0.9"/>
<line x1="648.5" y1="554.8" x2="648.5" y2="581.3" stroke="#111" stroke-width="0.9"/>
<line x1="645.7" y1="554.8" x2="651.3" y2="554.8" stroke="#111" stroke-width="0.9"/>
<line x1="645.7" y1="581.3" x2="651.3" y2="581.3" stroke="#111" stroke-width="0.9"/>
<line x1="665.2" y1="606.3" x2="665.2" y2="622.1" stroke="#111" stroke-width="0.9"/>
<line x1="662.4" y1="606.3" x2="668" y2="606.3" stroke="#111" stroke-width="0.9"/>
<line x1="662.4" y1="622.1" x2="668" y2="622.1" stroke="#111" stroke-width="0.9"/>
<circle cx="504.2" cy="625" r="1.6" fill="#000"/>
<circle cx="504.2" cy="628.8" r="1.6" fill="#000"/>
<circle cx="504.2" cy="631.9" r="1.6" fill="#000"/>
<circle cx="504.2" cy="635" r="1.6" fill="#000"/>
<circle cx="504.2" cy="638.1" r="1.6" fill="#000"/>
<circle cx="504.2" cy="641.3" r="1.6" fill="#000"/>
<circle cx="504.2" cy="644.4" r="1.6" fill="#000"/>
<rect x="519.2" y="570.5" width="3.2" height="3.2" fill="#000"/>
<rect x="515.1" y="585.5" width="3.2" height="3.2" fill="#000"/>
<rect x="519.2" y="588" width="3.2" height="3.2" fill="#000"/>
<rect x="519.2" y="596.5" width="3.2" height="3.2" fill="#000"/>
<rect x="519.2" y="616.1" width="3.2" height="3.2" fill="#000"/>
<rect x="519.2" y="581.4" width="3.2" height="3.2" fill="#000"/>
<path d="M533.1 576.96L534.86 580.08L531.34 580.08Z" fill="#000"/>
<path d="M537.5 577.36L539.26 580.48L535.74 580.48Z" fill="#000"/>
<path d="M537.5 588.36L539.26 591.48L535.74 591.48Z" fill="#000"/>
<path d="M542.1 595.26L543.86 598.38L540.34 598.38Z" fill="#000"/>
<path d="M537.5 597.76L539.26 600.88L535.74 600.88Z" fill="#000"/>
<path d="M533.8 581.06L535.56 584.18L532.04 584.18Z" fill="#000"/>
<path d="M554.2 571.24L555.96 568.12L552.44 568.12Z" fill="#000"/>
<path d="M554.2 577.44L555.96 574.32L552.44 574.32Z" fill="#000"/>
<path d="M554.2 586.24L555.96 583.12L552.44 583.12Z" fill="#000"/>
<path d="M554.2 595.84L555.96 592.72L552.44 592.72Z" fill="#000"/>
<path d="M554.2 610.14L555.96 607.02L552.44 607.02Z" fill="#000"/>
<path d="M554.2 614.94L555.96 611.82L552.44 611.82Z" fill="#000"/>
<path d="M570.8 602.48L572.4 604.4L570.8 606.32L569.2 604.4Z" fill="#000"/>
<path d="M570.8 611.18L572.4 613.1L570.8 615.02L569.2 613.1Z" fill="#000"/>
<path d="M566 622.28L567.6 624.2L566 626.12L564.4 624.2Z" fill="#000"/>
<path d="M575.4 615.38L577 617.3L575.4 619.22L573.8 617.3Z" fill="#000"/>
<path d="M570.8 622.28L572.4 624.2L570.8 626.12L569.2 624.2Z" fill="#000"/>
<path d="M575.4 621.18L577 623.1L575.4 625.02L573.8 623.1Z" fill="#000"/>
<circle cx="599.2" cy="612.1" r="1.6" fill="#000"/>
<circle cx="603.3" cy="610.4" r="1.6" fill="#000"/>
<circle cx="603.3" cy="618.3" r="1.6" fill="#000"/>
<circle cx="599.2" cy="619.4" r="1.6" fill="#000"/>
<circle cx="597.9" cy="622.1" r="1.6" fill="#000"/>
<circle cx="599.2" cy="628.1" r="1.6" fill="#000"/>
<rect x="614.2" y="554.2" width="3.2" height="3.2" fill="#000"/>
<rect x="614.2" y="555.9" width="3.2" height="3.2" fill="#000"/>
<rect x="614.2" y="564.7" width="3.2" height="3.2" fill="#000"/>
<rect x="609.4" y="568.8" width="3.2" height="3.2" fill="#000"/>
<rect x="614.2" y="570.9" width="3.2" height="3.2" fill="#000"/>
<rect x="614.2" y="590.3" width="3.2" height="3.2" fill="#000"/>
<path d="M631.9 568.56L633.66 571.68L630.14 571.68Z" fill="#000"/>
<path d="M631.9 583.16L633.66 586.28L630.14 586.28Z" fill="#000"/>
<path d="M627.7 591.06L629.46 594.18L625.94 594.18Z" fill="#000"/>
<path d="M631.9 592.56L633.66 595.68L630.14 595.68Z" fill="#000"/>
<path d="M632.9 595.66L634.66 598.78L631.14 598.78Z" fill="#000"/>
<path d="M631.9 602.96L633.66 606.08L630.14 606.08Z" fill="#000"/>
<path d="M644 554.54L645.76 551.42L642.24 551.42Z" fill="#000"/>
<path d="M648.5 556.64L650.26 553.52L646.74 553.52Z" fill="#000"/>
<path d="M648.5 568.14L650.26 565.02L646.74 565.02Z" fill="#000"/>
<path d="M648.5 575.34L650.26 572.22L646.74 572.22Z" fill="#000"/>
<path d="M648.5 577.44L650.26 574.32L646.74 574.32Z" fill="#000"/>
<path d="M648.5 588.94L650.26 585.82L646.74 585.82Z" fill="#000"/>
<path d="M665.2 601.88L666.8 603.8L665.2 605.72L663.6 603.8Z" fill="#000"/>
<path d="M665.2 608.08L666.8 610L665.2 611.92L663.6 610Z" fill="#000"/>
<path d="M669.4 615.98L671 617.9L669.4 619.82L667.8 617.9Z" fill="#000"/>
<path d="M665.2 611.88L666.8 613.8L665.2 615.72L663.6 613.8Z" fill="#000"/>
<path d="M665.2 623.68L666.8 625.6L665.2 627.52L663.6 625.6Z" fill="#000"/>
<path d="M662.5 616.88L664.1 618.8L662.5 620.72L660.9 618.8Z" fill="#000"/>
<path d="M505.2 585L505.2 550.2L536.5 550.2L536.5 550.6" stroke="#333" fill="none" stroke-width="0.9"/>
<text x="521.9" y="550.5" font-size="9" text-anchor="middle" font-weight="bold" fill="#111" stroke="#111" stroke-width="0.15">***</text>
<path d="M505.2 585L505.2 560.4L521.3 560.4L521.3 562.1" stroke="#333" fill="none" stroke-width="0.9"/>
<text x="512.9" y="560.7" font-size="9" text-anchor="middle" font-weight="bold" fill="#111" stroke="#111" stroke-width="0.15">**</text>
<path d="M555.2 562.1L555.2 560.4L569.6 560.4L569.6 585" stroke="#333" fill="none" stroke-width="0.9"/>
<text x="562.5" y="560.7" font-size="9" text-anchor="middle" font-weight="bold" fill="#111" stroke="#111" stroke-width="0.15">**</text>
<path d="M599.2 573.5L599.2 538.5L630.8 538.5L630.8 539.8" stroke="#333" fill="none" stroke-width="0.9"/>
<text x="615.3" y="538.8" font-size="9" text-anchor="middle" font-weight="bold" fill="#111" stroke="#111" stroke-width="0.15">**</text>
<path d="M599.2 573.5L599.2 549.2L615.8 549.2L615.8 551.3" stroke="#333" fill="none" stroke-width="0.9"/>
<text x="609" y="549.5" font-size="9" text-anchor="middle" font-weight="bold" fill="#111" stroke="#111" stroke-width="0.15">**</text>
<path d="M648.5 546.5L648.5 544.4L662.5 544.4L662.5 568.3" stroke="#333" fill="none" stroke-width="0.9"/>
<text x="654.8" y="544.7" font-size="9" text-anchor="middle" font-weight="bold" fill="#111" stroke="#111" stroke-width="0.15">***</text>
<rect x="502" y="510.4" width="11" height="4.2" fill="#F54242"/>
<text x="517" y="516" font-size="8.5" fill="#222" stroke="#222" stroke-width="0.15">Vector</text>
<rect x="502" y="520.4" width="11" height="4.2" fill="#47E11F"/>
<text x="517" y="526" font-size="8.5" fill="#222" stroke="#222" stroke-width="0.15">THRAP3</text>
<rect x="562" y="506.5" width="11" height="4.2" fill="#FA55FA"/>
<text x="577" y="512.1" font-size="8.5" fill="#222" stroke="#222" stroke-width="0.15">GIT2-S</text>
<rect x="562" y="516.6" width="11" height="4.2" fill="#EC9C4B"/>
<text x="577" y="522.2" font-size="8.5" fill="#222" stroke="#222" stroke-width="0.15">THRAP3+shNC</text>
<rect x="562" y="526.1" width="11" height="4.2" fill="#7CFDC5"/>
<text x="577" y="531.7" font-size="8.5" fill="#222" stroke="#222" stroke-width="0.15">THRAP3+shGIT2-S</text>
</svg>
</body></html>
